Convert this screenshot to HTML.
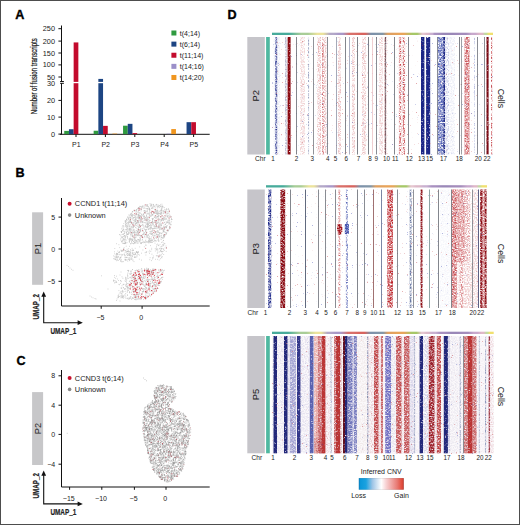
<!DOCTYPE html>
<html><head><meta charset="utf-8"><title>Figure</title>
<style>html,body{margin:0;padding:0;background:#fff;width:520px;height:525px;overflow:hidden}svg{display:block}text{font-family:"Liberation Sans",sans-serif}</style>
</head><body>
<svg width="520" height="525" viewBox="0 0 520 525" font-family="Liberation Sans, sans-serif">
<defs></defs>
<g>
<rect width="520" height="525" fill="#fff"/>
<defs>
<filter id="mot" x="0" y="0" width="1" height="1" color-interpolation-filters="sRGB">
<feTurbulence type="fractalNoise" baseFrequency="0.6 0.85" numOctaves="2" seed="4" result="t"/>
<feColorMatrix in="t" type="matrix" values="0 0 0 0 0 0 0 0 0 0 0 0 0 0 0 2.2 0 0 0 -0.55" result="m"/>
<feComposite in="SourceGraphic" in2="m" operator="in"/>
</filter>
<filter id="motD" x="0" y="0" width="1" height="1" color-interpolation-filters="sRGB">
<feTurbulence type="fractalNoise" baseFrequency="0.55 0.85" numOctaves="2" seed="7" result="t"/>
<feColorMatrix in="t" type="matrix" values="0 0 0 0 0 0 0 0 0 0 0 0 0 0 0 2.6 0 0 0 -0.5" result="m"/>
<feComposite in="SourceGraphic" in2="m" operator="in"/>
</filter>
<filter id="motX" x="0" y="0" width="1" height="1" color-interpolation-filters="sRGB">
<feTurbulence type="fractalNoise" baseFrequency="0.55 0.85" numOctaves="2" seed="17" result="t"/>
<feColorMatrix in="t" type="matrix" values="0 0 0 0 0 0 0 0 0 0 0 0 0 0 0 3 0 0 0 -0.25" result="m"/>
<feComposite in="SourceGraphic" in2="m" operator="in"/>
</filter>
<filter id="motL" x="0" y="0" width="1" height="1" color-interpolation-filters="sRGB">
<feTurbulence type="fractalNoise" baseFrequency="0.7 0.9" numOctaves="2" seed="13" result="t"/>
<feColorMatrix in="t" type="matrix" values="0 0 0 0 0 0 0 0 0 0 0 0 0 0 0 3.2 0 0 0 -1.2" result="m"/>
<feComposite in="SourceGraphic" in2="m" operator="in"/>
</filter>
<filter id="spr" x="0" y="0" width="1" height="1" color-interpolation-filters="sRGB">
<feTurbulence type="fractalNoise" baseFrequency="0.8 0.9" numOctaves="1" seed="9" result="t"/>
<feColorMatrix in="t" type="matrix" values="0 0 0 0 0.75 0 0 0 0 0.2 0 0 0 0 0.22 20 0 0 0 -14.2"/>
</filter>
<filter id="spb" x="0" y="0" width="1" height="1" color-interpolation-filters="sRGB">
<feTurbulence type="fractalNoise" baseFrequency="0.8 0.9" numOctaves="1" seed="23" result="t"/>
<feColorMatrix in="t" type="matrix" values="0 0 0 0 0.25 0 0 0 0 0.3 0 0 0 0 0.7 20 0 0 0 -14.4"/>
</filter>
<linearGradient id="chrP2" x1="0" x2="1" y1="0" y2="0">
<stop offset="0" stop-color="#45ab9a"/><stop offset="0.105" stop-color="#4db3a0"/>
<stop offset="0.115" stop-color="#a8cc98"/><stop offset="0.18" stop-color="#b8d49a"/>
<stop offset="0.19" stop-color="#ece49a"/><stop offset="0.25" stop-color="#ede39e"/>
<stop offset="0.26" stop-color="#b9aec8"/><stop offset="0.33" stop-color="#a99cc8"/>
<stop offset="0.34" stop-color="#d77070"/><stop offset="0.43" stop-color="#dc6a62"/>
<stop offset="0.44" stop-color="#7f95a8"/><stop offset="0.51" stop-color="#7b93a9"/>
<stop offset="0.52" stop-color="#e0a062"/><stop offset="0.6" stop-color="#e8a058"/>
<stop offset="0.61" stop-color="#a4c866"/><stop offset="0.69" stop-color="#a9c86a"/>
<stop offset="0.70" stop-color="#e8c8d2"/><stop offset="0.77" stop-color="#d8b8c8"/>
<stop offset="0.78" stop-color="#a890c0"/><stop offset="0.86" stop-color="#9a88b8"/>
<stop offset="0.87" stop-color="#c8b0d0"/><stop offset="0.91" stop-color="#e8c0d0"/>
<stop offset="0.92" stop-color="#b8d8a0"/><stop offset="0.95" stop-color="#c8dca0"/>
<stop offset="0.96" stop-color="#f0e060"/><stop offset="1" stop-color="#f2e070"/>
</linearGradient>
</defs>
<defs><linearGradient id="g2" x1="0" x2="1" y1="0" y2="0"><stop offset="0.0330" stop-color="#47ab9b"/><stop offset="0.0770" stop-color="#47ab9b"/><stop offset="0.1326" stop-color="#a9cd97"/><stop offset="0.1629" stop-color="#a9cd97"/><stop offset="0.2051" stop-color="#ece39c"/><stop offset="0.2311" stop-color="#ece39c"/><stop offset="0.2624" stop-color="#b3a8c8"/><stop offset="0.2779" stop-color="#b3a8c8"/><stop offset="0.3029" stop-color="#a898c8"/><stop offset="0.3206" stop-color="#a898c8"/><stop offset="0.3504" stop-color="#d9706a"/><stop offset="0.3723" stop-color="#d9706a"/><stop offset="0.4032" stop-color="#d8645e"/><stop offset="0.4226" stop-color="#d8645e"/><stop offset="0.4476" stop-color="#7d92aa"/><stop offset="0.4615" stop-color="#7d92aa"/><stop offset="0.4840" stop-color="#8296a8"/><stop offset="0.5001" stop-color="#8296a8"/><stop offset="0.5247" stop-color="#e0a060"/><stop offset="0.5414" stop-color="#e0a060"/><stop offset="0.5727" stop-color="#e8a45a"/><stop offset="0.5979" stop-color="#e8a45a"/><stop offset="0.6340" stop-color="#a6c868"/><stop offset="0.6570" stop-color="#a6c868"/><stop offset="0.6800" stop-color="#e6c6d0"/><stop offset="0.6878" stop-color="#e6c6d0"/><stop offset="0.6996" stop-color="#dcb8c8"/><stop offset="0.7076" stop-color="#dcb8c8"/><stop offset="0.7187" stop-color="#c8b0d0"/><stop offset="0.7256" stop-color="#c8b0d0"/><stop offset="0.7359" stop-color="#a890c0"/><stop offset="0.7428" stop-color="#a890c0"/><stop offset="0.7777" stop-color="#9a88b8"/><stop offset="0.8173" stop-color="#9a88b8"/><stop offset="0.8604" stop-color="#a48cbc"/><stop offset="0.8781" stop-color="#a48cbc"/><stop offset="0.9035" stop-color="#c8a8cc"/><stop offset="0.9196" stop-color="#c8a8cc"/><stop offset="0.9405" stop-color="#e0b8c8"/><stop offset="0.9523" stop-color="#e0b8c8"/><stop offset="0.9646" stop-color="#c0dca0"/><stop offset="0.9693" stop-color="#c0dca0"/><stop offset="0.9810" stop-color="#f0e070"/><stop offset="0.9919" stop-color="#f0e070"/></linearGradient></defs>
<rect x="247.3" y="37" width="17.5" height="117.5" fill="#c6c5ca"/>
<text transform="translate(259.0 95.8) rotate(-90)" font-size="9.4" fill="#222" text-anchor="middle">P2</text>
<rect x="266.1" y="37" width="3.7" height="117.5" fill="#4fb8a0"/>
<rect x="272" y="32.7" width="221" height="2.3" fill="url(#g2)"/>
<g filter="url(#mot)">
<rect x="272" y="37" width="221" height="117.5" fill="#fff" fill-opacity="0"/>
<rect x="275.2" y="37" width="2.00" height="117.50" fill="#1b2686" fill-opacity="0.9"/>
<rect x="285.3" y="37" width="1.30" height="117.50" fill="#6a6a98" fill-opacity="0.7"/>
<rect x="384.6" y="37" width="1.60" height="117.50" fill="#8a0a12" fill-opacity="0.9"/>
<rect x="437.7" y="37" width="5.50" height="117.50" fill="#3446a8" fill-opacity="0.9"/>
<rect x="464.4" y="37" width="5.20" height="117.50" fill="#bb2228" fill-opacity="0.75"/>
</g>
<g filter="url(#motD)">
<rect x="272" y="37" width="221" height="117.5" fill="#fff" fill-opacity="0"/>
<rect x="443.2" y="37" width="1.80" height="117.50" fill="#1b2686" fill-opacity="1"/>
</g>
<g filter="url(#motL)">
<rect x="272" y="37" width="221" height="117.5" fill="#fff" fill-opacity="0"/>
<rect x="273.5" y="37" width="6.50" height="117.50" fill="#7a86c6" fill-opacity="0.15"/>
<rect x="308.1" y="37" width="1.00" height="117.50" fill="#6570a0" fill-opacity="0.7"/>
<rect x="322.2" y="37" width="1.40" height="117.50" fill="#bb2228" fill-opacity="0.9"/>
<rect x="300" y="37" width="5.00" height="117.50" fill="#bb2228" fill-opacity="0.2"/>
<rect x="317.5" y="37" width="3.50" height="117.50" fill="#bb2228" fill-opacity="0.35"/>
<rect x="324" y="37" width="2.50" height="117.50" fill="#bb2228" fill-opacity="0.3"/>
<rect x="338" y="37" width="3.00" height="117.50" fill="#bb2228" fill-opacity="0.3"/>
<rect x="352" y="37" width="3.00" height="117.50" fill="#bb2228" fill-opacity="0.28"/>
<rect x="362" y="37" width="4.00" height="117.50" fill="#bb2228" fill-opacity="0.28"/>
<rect x="379" y="37" width="4.00" height="117.50" fill="#bb2228" fill-opacity="0.22"/>
<rect x="399.2" y="37" width="2.00" height="117.50" fill="#bb2228" fill-opacity="0.8"/>
<rect x="402.8" y="37" width="2.00" height="117.50" fill="#bb2228" fill-opacity="0.8"/>
<rect x="398.5" y="37" width="7.00" height="117.50" fill="#bb2228" fill-opacity="0.15"/>
<rect x="445" y="37" width="4.00" height="117.50" fill="#7a86c6" fill-opacity="0.3"/>
<rect x="445" y="37" width="10.00" height="117.50" fill="#7a86c6" fill-opacity="0.15"/>
<rect x="474" y="37" width="1.00" height="117.50" fill="#7a86c6" fill-opacity="0.5"/>
<rect x="491" y="37" width="1.20" height="117.50" fill="#bb2228" fill-opacity="0.8"/>
</g>
<g filter="url(#motX)">
<rect x="272" y="37" width="221" height="117.5" fill="#fff" fill-opacity="0"/>
<rect x="287.6" y="37" width="3.00" height="117.50" fill="#8a0a12" fill-opacity="1"/>
<rect x="421" y="37" width="3.40" height="117.50" fill="#1b2686" fill-opacity="1"/>
<rect x="426.1" y="37" width="4.10" height="117.50" fill="#1b2686" fill-opacity="1"/>
<rect x="486.5" y="37" width="2.10" height="117.50" fill="#7a0a14" fill-opacity="1"/>
</g>
<rect x="272" y="37" width="221" height="117.5" filter="url(#spr)" opacity="0.42"/>
<rect x="272" y="37" width="221" height="117.5" filter="url(#spb)" opacity="0.4"/>
<rect x="296" y="37" width="1.0" height="117.5" fill="#666a72" fill-opacity="0.81"/>
<rect x="313" y="37" width="1.0" height="117.5" fill="#666a72" fill-opacity="0.72"/>
<rect x="327" y="37" width="1.0" height="117.5" fill="#666a72" fill-opacity="0.77"/>
<rect x="336" y="37" width="1.0" height="117.5" fill="#707890" fill-opacity="0.63"/>
<rect x="345" y="37" width="1.0" height="117.5" fill="#666a72" fill-opacity="0.81"/>
<rect x="349" y="37" width="1.0" height="117.5" fill="#7880a0" fill-opacity="0.63"/>
<rect x="357" y="37" width="1.0" height="117.5" fill="#666a72" fill-opacity="0.85"/>
<rect x="368" y="37" width="1.0" height="117.5" fill="#666a72" fill-opacity="0.85"/>
<rect x="372" y="37" width="1.0" height="117.5" fill="#e7b3b6" fill-opacity="0.63"/>
<rect x="376" y="37" width="1.0" height="117.5" fill="#666a72" fill-opacity="0.77"/>
<rect x="385" y="37" width="1.0" height="117.5" fill="#666a72" fill-opacity="0.63"/>
<rect x="394" y="37" width="1.0" height="117.5" fill="#666a72" fill-opacity="0.81"/>
<rect x="408" y="37" width="1.0" height="117.5" fill="#666a72" fill-opacity="0.81"/>
<rect x="437" y="37" width="1.0" height="117.5" fill="#666a72" fill-opacity="0.72"/>
<rect x="459" y="37" width="1.0" height="117.5" fill="#666a72" fill-opacity="0.85"/>
<rect x="461" y="37" width="1.0" height="117.5" fill="#666a72" fill-opacity="0.63"/>
<rect x="477" y="37" width="1.0" height="117.5" fill="#666a72" fill-opacity="0.77"/>
<rect x="484" y="37" width="1.0" height="117.5" fill="#666a72" fill-opacity="0.77"/>
<g font-size="6.3" fill="#222" text-anchor="middle">
<text x="273.1" y="161.1">1</text>
<text x="296.6" y="161.1">2</text>
<text x="312.3" y="161.1">3</text>
<text x="327.8" y="161.1">4</text>
<text x="335.4" y="161.1">5</text>
<text x="346.3" y="161.1">6</text>
<text x="358.5" y="161.1">7</text>
<text x="370.1" y="161.1">8</text>
<text x="376.3" y="161.1">9</text>
<text x="386.5" y="161.1">10</text>
<text x="395.3" y="161.1">11</text>
<text x="409.2" y="161.1">12</text>
<text x="421.4" y="161.1">13</text>
<text x="429.6" y="161.1">15</text>
<text x="443.6" y="161.1">17</text>
<text x="459.3" y="161.1">18</text>
<text x="478.2" y="161.1">20</text>
<text x="487.0" y="161.1">22</text>
</g>
<text x="255.1" y="161.1" font-size="6.6" fill="#222">Chr</text>
<text transform="translate(498.1 98.4) rotate(90)" font-size="9.6" fill="#222" text-anchor="middle" textLength="19.5" lengthAdjust="spacingAndGlyphs">Cells</text>
<defs><linearGradient id="g3" x1="0" x2="1" y1="0" y2="0"><stop offset="0.0330" stop-color="#47ab9b"/><stop offset="0.0770" stop-color="#47ab9b"/><stop offset="0.1303" stop-color="#a9cd97"/><stop offset="0.1575" stop-color="#a9cd97"/><stop offset="0.1948" stop-color="#ece39c"/><stop offset="0.2174" stop-color="#ece39c"/><stop offset="0.2452" stop-color="#b3a8c8"/><stop offset="0.2597" stop-color="#b3a8c8"/><stop offset="0.2838" stop-color="#a898c8"/><stop offset="0.3013" stop-color="#a898c8"/><stop offset="0.3298" stop-color="#d9706a"/><stop offset="0.3503" stop-color="#d9706a"/><stop offset="0.3800" stop-color="#d8645e"/><stop offset="0.3992" stop-color="#d8645e"/><stop offset="0.4235" stop-color="#7d92aa"/><stop offset="0.4367" stop-color="#7d92aa"/><stop offset="0.4584" stop-color="#8296a8"/><stop offset="0.4742" stop-color="#8296a8"/><stop offset="0.4966" stop-color="#e0a060"/><stop offset="0.5107" stop-color="#e0a060"/><stop offset="0.5435" stop-color="#e8a45a"/><stop offset="0.5732" stop-color="#e8a45a"/><stop offset="0.6120" stop-color="#a6c868"/><stop offset="0.6341" stop-color="#a6c868"/><stop offset="0.6561" stop-color="#e6c6d0"/><stop offset="0.6633" stop-color="#e6c6d0"/><stop offset="0.6792" stop-color="#dcb8c8"/><stop offset="0.6932" stop-color="#dcb8c8"/><stop offset="0.7139" stop-color="#c8b0d0"/><stop offset="0.7277" stop-color="#c8b0d0"/><stop offset="0.7505" stop-color="#a890c0"/><stop offset="0.7671" stop-color="#a890c0"/><stop offset="0.7973" stop-color="#9a88b8"/><stop offset="0.8208" stop-color="#9a88b8"/><stop offset="0.8571" stop-color="#a48cbc"/><stop offset="0.8819" stop-color="#a48cbc"/><stop offset="0.9109" stop-color="#c8a8cc"/><stop offset="0.9248" stop-color="#c8a8cc"/><stop offset="0.9430" stop-color="#e0b8c8"/><stop offset="0.9533" stop-color="#e0b8c8"/><stop offset="0.9635" stop-color="#c0dca0"/><stop offset="0.9668" stop-color="#c0dca0"/><stop offset="0.9785" stop-color="#f0e070"/><stop offset="0.9908" stop-color="#f0e070"/></linearGradient></defs>
<rect x="247.3" y="189.5" width="17.5" height="118.5" fill="#c6c5ca"/>
<text transform="translate(259.0 248.8) rotate(-90)" font-size="9.4" fill="#222" text-anchor="middle">P3</text>
<rect x="266" y="185.2" width="221" height="2.3" fill="url(#g3)"/>
<g filter="url(#mot)">
<rect x="266" y="189.5" width="221" height="118.5" fill="#fff" fill-opacity="0"/>
<rect x="268" y="189.5" width="3.30" height="118.50" fill="#1b2686" fill-opacity="1"/>
<rect x="387.3" y="189.5" width="5.70" height="118.50" fill="#bb2228" fill-opacity="1"/>
<rect x="409.6" y="189.5" width="2.00" height="118.50" fill="#5a6a98" fill-opacity="0.9"/>
<rect x="451.8" y="189.5" width="5.00" height="118.50" fill="#bb2228" fill-opacity="0.8"/>
<rect x="456.8" y="189.5" width="7.80" height="72.50" fill="#bb2228" fill-opacity="0.6"/>
<rect x="482.5" y="189.5" width="2.00" height="118.50" fill="#bb2228" fill-opacity="0.7"/>
</g>
<g filter="url(#motD)">
<rect x="266" y="189.5" width="221" height="118.5" fill="#fff" fill-opacity="0"/>
<rect x="280.4" y="189.5" width="4.80" height="118.50" fill="#8a0a12" fill-opacity="1"/>
<rect x="420.5" y="189.5" width="2.00" height="118.50" fill="#8a0a12" fill-opacity="1"/>
<rect x="480.2" y="189.5" width="2.30" height="118.50" fill="#8a0a12" fill-opacity="1"/>
<rect x="484.5" y="189.5" width="2.10" height="118.50" fill="#8a0a12" fill-opacity="1"/>
</g>
<g filter="url(#motL)">
<rect x="266" y="189.5" width="221" height="118.5" fill="#fff" fill-opacity="0"/>
<rect x="338.5" y="189.5" width="1.80" height="118.50" fill="#bb2228" fill-opacity="0.7"/>
<rect x="345.9" y="189.5" width="1.90" height="118.50" fill="#3446a8" fill-opacity="0.8"/>
<rect x="440" y="189.5" width="10.00" height="118.50" fill="#7a86c6" fill-opacity="0.08"/>
<rect x="456.8" y="262" width="2.70" height="46.00" fill="#e7b3b6" fill-opacity="0.4"/>
<rect x="459.5" y="262" width="3.50" height="46.00" fill="#bb2228" fill-opacity="0.55"/>
<rect x="464.6" y="189.5" width="5.80" height="72.50" fill="#bb2228" fill-opacity="0.45"/>
<rect x="463" y="262" width="9.00" height="46.00" fill="#bb2228" fill-opacity="0.25"/>
<rect x="472.7" y="189.5" width="5.30" height="118.50" fill="#e7b3b6" fill-opacity="0.6"/>
</g>
<g filter="url(#motX)">
<rect x="266" y="189.5" width="221" height="118.5" fill="#fff" fill-opacity="0"/>
</g>
<rect x="266" y="189.5" width="221" height="118.5" filter="url(#spr)" opacity="0.42"/>
<rect x="266" y="189.5" width="221" height="118.5" filter="url(#spb)" opacity="0.4"/>
<rect x="290" y="189.5" width="1.0" height="118.5" fill="#666a72" fill-opacity="0.81"/>
<rect x="305" y="189.5" width="1.0" height="118.5" fill="#505a70" fill-opacity="0.90"/>
<rect x="318" y="189.5" width="1.0" height="118.5" fill="#666a72" fill-opacity="0.77"/>
<rect x="325" y="189.5" width="1.0" height="118.5" fill="#666a72" fill-opacity="0.77"/>
<rect x="335" y="189.5" width="1.0" height="118.5" fill="#666a72" fill-opacity="0.77"/>
<rect x="357" y="189.5" width="1.0" height="118.5" fill="#666a72" fill-opacity="0.81"/>
<rect x="364" y="189.5" width="1.0" height="118.5" fill="#666a72" fill-opacity="0.77"/>
<rect x="373" y="189.5" width="1.0" height="118.5" fill="#8a5050" fill-opacity="0.81"/>
<rect x="381" y="189.5" width="1.0" height="118.5" fill="#5c6a90" fill-opacity="0.81"/>
<rect x="397" y="189.5" width="1.0" height="118.5" fill="#666a72" fill-opacity="0.77"/>
<rect x="413" y="189.5" width="1.0" height="118.5" fill="#666a72" fill-opacity="0.72"/>
<rect x="429" y="189.5" width="1.0" height="118.5" fill="#6a8888" fill-opacity="0.77"/>
<rect x="438" y="189.5" width="1.0" height="118.5" fill="#666a72" fill-opacity="0.81"/>
<rect x="451" y="189.5" width="1.0" height="118.5" fill="#666a72" fill-opacity="0.81"/>
<rect x="472" y="189.5" width="1.0" height="118.5" fill="#666a72" fill-opacity="0.72"/>
<rect x="478" y="189.5" width="1.0" height="118.5" fill="#4a5078" fill-opacity="0.90"/>
<g font-size="6.3" fill="#222" text-anchor="middle">
<text x="265.4" y="314.7">1</text>
<text x="289.6" y="314.7">2</text>
<text x="305.3" y="314.7">3</text>
<text x="316.9" y="314.7">4</text>
<text x="326.1" y="314.7">5</text>
<text x="335.4" y="314.7">6</text>
<text x="346.9" y="314.7">7</text>
<text x="357.3" y="314.7">8</text>
<text x="364.7" y="314.7">9</text>
<text x="373.8" y="314.7">10</text>
<text x="381.9" y="314.7">11</text>
<text x="397.6" y="314.7">12</text>
<text x="409.6" y="314.7">13</text>
<text x="422.3" y="314.7">15</text>
<text x="438.4" y="314.7">17</text>
<text x="452.3" y="314.7">18</text>
<text x="473.1" y="314.7">20</text>
<text x="480.7" y="314.7">22</text>
</g>
<text x="247.5" y="314.7" font-size="6.6" fill="#222">Chr</text>
<text transform="translate(498.1 253.6) rotate(90)" font-size="9.6" fill="#222" text-anchor="middle" textLength="19.5" lengthAdjust="spacingAndGlyphs">Cells</text>
<path d="M337.5 224h4v3h0.8v5h-1v2.5h-3.5v-4h-0.8v-3h0.5z" fill="#a01018" filter="url(#motD)"/>
<rect x="344.8" y="224" width="4.2" height="10" fill="#3446a8" opacity="0.9" filter="url(#motD)"/>
<defs><linearGradient id="g5" x1="0" x2="1" y1="0" y2="0"><stop offset="0.0306" stop-color="#47ab9b"/><stop offset="0.0714" stop-color="#47ab9b"/><stop offset="0.1244" stop-color="#a9cd97"/><stop offset="0.1544" stop-color="#a9cd97"/><stop offset="0.1962" stop-color="#ece39c"/><stop offset="0.2220" stop-color="#ece39c"/><stop offset="0.2501" stop-color="#b3a8c8"/><stop offset="0.2618" stop-color="#b3a8c8"/><stop offset="0.2878" stop-color="#a898c8"/><stop offset="0.3107" stop-color="#a898c8"/><stop offset="0.3444" stop-color="#d9706a"/><stop offset="0.3664" stop-color="#d9706a"/><stop offset="0.3977" stop-color="#d8645e"/><stop offset="0.4174" stop-color="#d8645e"/><stop offset="0.4431" stop-color="#7d92aa"/><stop offset="0.4577" stop-color="#7d92aa"/><stop offset="0.4825" stop-color="#8296a8"/><stop offset="0.5009" stop-color="#8296a8"/><stop offset="0.5230" stop-color="#e0a060"/><stop offset="0.5342" stop-color="#e0a060"/><stop offset="0.5645" stop-color="#e8a45a"/><stop offset="0.5938" stop-color="#e8a45a"/><stop offset="0.6313" stop-color="#a6c868"/><stop offset="0.6520" stop-color="#a6c868"/><stop offset="0.6743" stop-color="#e6c6d0"/><stop offset="0.6834" stop-color="#e6c6d0"/><stop offset="0.6969" stop-color="#dcb8c8"/><stop offset="0.7059" stop-color="#dcb8c8"/><stop offset="0.7235" stop-color="#c8b0d0"/><stop offset="0.7379" stop-color="#c8b0d0"/><stop offset="0.7609" stop-color="#a890c0"/><stop offset="0.7772" stop-color="#a890c0"/><stop offset="0.8082" stop-color="#9a88b8"/><stop offset="0.8332" stop-color="#9a88b8"/><stop offset="0.8657" stop-color="#a48cbc"/><stop offset="0.8839" stop-color="#a48cbc"/><stop offset="0.9098" stop-color="#c8a8cc"/><stop offset="0.9260" stop-color="#c8a8cc"/><stop offset="0.9456" stop-color="#e0b8c8"/><stop offset="0.9556" stop-color="#e0b8c8"/><stop offset="0.9667" stop-color="#c0dca0"/><stop offset="0.9715" stop-color="#c0dca0"/><stop offset="0.9826" stop-color="#f0e070"/><stop offset="0.9926" stop-color="#f0e070"/></linearGradient></defs>
<rect x="247.3" y="336" width="17.5" height="117.30000000000001" fill="#c6c5ca"/>
<text transform="translate(259.0 394.6) rotate(-90)" font-size="9.4" fill="#222" text-anchor="middle">P5</text>
<rect x="266.1" y="336" width="3.7" height="117.30000000000001" fill="#4fb8a0"/>
<rect x="272" y="331.7" width="221.7" height="2.3" fill="url(#g5)"/>
<rect x="272" y="336" width="221.7" height="117.30000000000001" fill="#fbf9fb"/>
<g filter="url(#mot)">
<rect x="272" y="336" width="221.7" height="117.30000000000001" fill="#fff" fill-opacity="0"/>
<rect x="287.5" y="336" width="2.50" height="117.30" fill="#8a8cc8" fill-opacity="0.3"/>
<rect x="316" y="385" width="6.00" height="68.30" fill="#ba3535" fill-opacity="0.5"/>
<rect x="314" y="438" width="11.00" height="15.30" fill="#9a1820" fill-opacity="0.7"/>
<rect x="330.5" y="336" width="1.00" height="117.30" fill="#606a90" fill-opacity="0.7"/>
<rect x="340" y="336" width="1.50" height="117.30" fill="#ba3535" fill-opacity="0.6"/>
<rect x="352.5" y="336" width="1.50" height="117.30" fill="#8a8cc8" fill-opacity="0.6"/>
<rect x="367.3" y="336" width="1.00" height="117.30" fill="#55608a" fill-opacity="1"/>
<rect x="378.5" y="336" width="2.50" height="117.30" fill="#e7b3b6" fill-opacity="0.5"/>
<rect x="409.5" y="336" width="4.50" height="117.30" fill="#8a8cc8" fill-opacity="0.3"/>
<rect x="414.1" y="336" width="1.00" height="117.30" fill="#6070a0" fill-opacity="0.8"/>
<rect x="447.9" y="336" width="2.10" height="117.30" fill="#8a8cc8" fill-opacity="0.5"/>
<rect x="459.7" y="336" width="1.00" height="117.30" fill="#6070a0" fill-opacity="0.8"/>
<rect x="478.8" y="336" width="1.00" height="117.30" fill="#7080a8" fill-opacity="0.7"/>
<rect x="485.1" y="336" width="1.00" height="117.30" fill="#6070a0" fill-opacity="0.8"/>
</g>
<g filter="url(#motD)">
<rect x="272" y="336" width="221.7" height="117.30000000000001" fill="#fff" fill-opacity="0"/>
<rect x="290" y="336" width="6.00" height="117.30" fill="#8a8cc8" fill-opacity="0.8"/>
<rect x="314" y="336" width="4.00" height="117.30" fill="#e8a098" fill-opacity="0.8"/>
<rect x="318" y="336" width="4.00" height="117.30" fill="#ba3535" fill-opacity="0.7"/>
<rect x="334" y="336" width="2.00" height="117.30" fill="#ba3535" fill-opacity="0.8"/>
<rect x="347.7" y="336" width="4.80" height="117.30" fill="#5a62b0" fill-opacity="0.9"/>
<rect x="354" y="336" width="2.90" height="117.30" fill="#5a62b0" fill-opacity="0.85"/>
<rect x="374" y="336" width="4.50" height="117.30" fill="#ba3535" fill-opacity="0.95"/>
<rect x="381.2" y="336" width="1.60" height="117.30" fill="#ba3535" fill-opacity="1"/>
<rect x="385.2" y="336" width="5.80" height="117.30" fill="#6a6ac0" fill-opacity="1"/>
<rect x="396.1" y="336" width="5.40" height="117.30" fill="#ba3535" fill-opacity="0.9"/>
<rect x="404" y="336" width="5.50" height="117.30" fill="#ba3535" fill-opacity="0.85"/>
<rect x="428.8" y="336" width="5.70" height="117.30" fill="#9a1820" fill-opacity="1"/>
<rect x="436.8" y="336" width="4.20" height="117.30" fill="#ba3535" fill-opacity="0.95"/>
<rect x="463.8" y="336" width="4.20" height="117.30" fill="#ba3535" fill-opacity="0.75"/>
<rect x="472.5" y="336" width="4.00" height="117.30" fill="#ba3535" fill-opacity="0.75"/>
<rect x="488.6" y="336" width="1.40" height="117.30" fill="#901a28" fill-opacity="0.9"/>
</g>
<g filter="url(#motL)">
<rect x="272" y="336" width="221.7" height="117.30000000000001" fill="#fff" fill-opacity="0"/>
<rect x="272" y="336" width="221.70" height="117.30" fill="#d9c6e2" fill-opacity="0.18"/>
<rect x="277" y="336" width="7.00" height="117.30" fill="#8a8cc8" fill-opacity="0.12"/>
<rect x="301" y="336" width="8.50" height="117.30" fill="#8a8cc8" fill-opacity="0.15"/>
<rect x="325.4" y="336" width="4.60" height="117.30" fill="#e7b3b6" fill-opacity="0.35"/>
<rect x="357" y="336" width="10.00" height="117.30" fill="#e8d8c8" fill-opacity="0.25"/>
<rect x="368.3" y="336" width="5.70" height="117.30" fill="#e7b3b6" fill-opacity="0.45"/>
<rect x="391" y="336" width="5.00" height="117.30" fill="#c0c0d0" fill-opacity="0.35"/>
<rect x="401.5" y="336" width="2.50" height="117.30" fill="#e7b3b6" fill-opacity="0.45"/>
<rect x="423" y="336" width="5.00" height="117.30" fill="#8a8cc8" fill-opacity="0.35"/>
<rect x="434.5" y="336" width="2.10" height="117.30" fill="#e7b3b6" fill-opacity="0.45"/>
<rect x="450" y="336" width="8.00" height="117.30" fill="#d0d0e0" fill-opacity="0.25"/>
<rect x="490" y="336" width="3.70" height="117.30" fill="#e7b3b6" fill-opacity="0.4"/>
</g>
<g filter="url(#motX)">
<rect x="272" y="336" width="221.7" height="117.30000000000001" fill="#fff" fill-opacity="0"/>
<rect x="273.5" y="336" width="3.50" height="117.30" fill="#23287a" fill-opacity="1"/>
<rect x="284" y="336" width="3.50" height="117.30" fill="#23287a" fill-opacity="1"/>
<rect x="297" y="336" width="3.50" height="117.30" fill="#34388a" fill-opacity="1"/>
<rect x="309.8" y="336" width="3.70" height="117.30" fill="#5a62b0" fill-opacity="1"/>
<rect x="322" y="336" width="3.40" height="117.30" fill="#ba3535" fill-opacity="1"/>
<rect x="336" y="336" width="4.00" height="117.30" fill="#ba3535" fill-opacity="1"/>
<rect x="343" y="336" width="2.00" height="117.30" fill="#601020" fill-opacity="1"/>
<rect x="345" y="336" width="2.50" height="117.30" fill="#23287a" fill-opacity="1"/>
<rect x="419.6" y="336" width="3.40" height="117.30" fill="#23287a" fill-opacity="1"/>
<rect x="443.8" y="336" width="4.10" height="117.30" fill="#23287a" fill-opacity="1"/>
<rect x="468" y="336" width="4.50" height="117.30" fill="#ba3535" fill-opacity="1"/>
</g>
<rect x="272" y="336" width="221.7" height="117.30000000000001" filter="url(#spr)" opacity="0.42"/>
<rect x="272" y="336" width="221.7" height="117.30000000000001" filter="url(#spb)" opacity="0.4"/>
<rect x="463" y="336" width="1.0" height="117.30000000000001" fill="#666a72" fill-opacity="0.72"/>
<g font-size="6.3" fill="#222" text-anchor="middle">
<text x="273.1" y="459.7">1</text>
<text x="294.6" y="459.7">2</text>
<text x="311.2" y="459.7">3</text>
<text x="325.5" y="459.7">4</text>
<text x="332.0" y="459.7">5</text>
<text x="344.7" y="459.7">6</text>
<text x="356.9" y="459.7">7</text>
<text x="367.8" y="459.7">8</text>
<text x="375.9" y="459.7">9</text>
<text x="386.1" y="459.7">10</text>
<text x="392.3" y="459.7">11</text>
<text x="408.5" y="459.7">12</text>
<text x="420.0" y="459.7">13</text>
<text x="430.0" y="459.7">15</text>
<text x="447.0" y="459.7">17</text>
<text x="460.9" y="459.7">18</text>
<text x="480.0" y="459.7">20</text>
<text x="488.2" y="459.7">22</text>
</g>
<text x="251.6" y="459.7" font-size="6.6" fill="#222">Chr</text>
<text transform="translate(498.1 396.5) rotate(90)" font-size="9.6" fill="#222" text-anchor="middle" textLength="19.5" lengthAdjust="spacingAndGlyphs">Cells</text>
<defs><linearGradient id="cnv" x1="0" x2="1"><stop offset="0" stop-color="#0b86c8"/><stop offset="0.04" stop-color="#0b98da"/><stop offset="0.16" stop-color="#1aa2e0"/><stop offset="0.3" stop-color="#9cc4e6"/><stop offset="0.5" stop-color="#ffffff"/><stop offset="0.6" stop-color="#f8d4d6"/><stop offset="0.85" stop-color="#e87a74"/><stop offset="0.96" stop-color="#e24a3a"/><stop offset="1" stop-color="#c0403a"/></linearGradient></defs>
<rect x="358.8" y="478.1" width="45" height="11.6" fill="url(#cnv)"/><rect x="359.05" y="478.35" width="44.5" height="11.1" fill="none" stroke="#000" stroke-opacity="0.15" stroke-width="0.5"/>
<text x="381.3" y="473.9" font-size="7" fill="#222" text-anchor="middle">Inferred CNV</text>
<text x="351.2" y="498.2" font-size="7" fill="#222">Loss</text>
<text x="394.1" y="498.2" font-size="7" fill="#222">Gain</text>
<path d="M143.2 226.2h.01M168.4 222.4h.01M146.2 227.3h.01M128.9 224.2h.01M152.7 235.6h.01M123.9 236.3h.01M156.1 205.2h.01M154.0 228.4h.01M147.3 205.9h.01M142.6 237.6h.01M146.8 229.4h.01M145.7 230.3h.01M143.5 214.8h.01M164.0 232.2h.01M135.9 212.8h.01M160.0 219.7h.01M164.3 219.2h.01M167.7 222.5h.01M171.4 219.6h.01M122.9 229.0h.01M160.7 214.4h.01M161.6 210.7h.01M148.9 221.6h.01M129.2 233.1h.01M126.0 229.6h.01M125.2 220.5h.01M130.4 214.4h.01M135.3 239.3h.01M130.3 219.5h.01M164.7 229.5h.01M124.4 243.6h.01M130.4 214.0h.01M160.3 216.8h.01M123.8 227.1h.01M132.0 227.9h.01M138.9 221.9h.01M170.3 223.1h.01M149.7 238.6h.01M129.5 242.0h.01M166.2 227.9h.01M141.5 207.7h.01M131.8 232.0h.01M132.7 236.9h.01M150.9 215.4h.01M128.4 232.7h.01M148.9 238.0h.01M151.9 214.8h.01M168.1 211.8h.01M142.8 205.9h.01M128.4 218.4h.01M149.6 208.8h.01M138.4 239.6h.01M156.0 227.2h.01M144.8 233.1h.01M123.0 225.6h.01M158.4 240.0h.01M158.4 232.0h.01M137.8 231.2h.01M141.3 235.5h.01M165.2 226.7h.01M152.4 219.0h.01M150.2 228.2h.01M123.3 229.4h.01M158.0 219.2h.01M158.3 227.0h.01M142.6 237.5h.01M123.5 233.9h.01M144.7 212.8h.01M156.4 223.6h.01M151.9 240.8h.01M135.1 231.0h.01M167.5 230.2h.01M142.6 239.6h.01M136.5 230.5h.01M129.6 221.0h.01M166.1 219.1h.01M150.2 216.3h.01M126.3 223.6h.01M163.8 237.9h.01M133.8 210.3h.01M143.1 214.6h.01M130.5 220.3h.01M152.5 223.5h.01M135.9 237.5h.01M171.5 221.8h.01M156.9 226.6h.01M135.5 235.6h.01M163.4 213.1h.01M152.7 221.6h.01M152.7 230.0h.01M155.6 211.6h.01M144.4 210.7h.01M157.2 210.8h.01M133.6 217.5h.01M156.3 224.6h.01M151.9 234.1h.01M140.1 235.6h.01M126.0 221.9h.01M152.5 240.4h.01M139.2 226.5h.01M169.5 222.3h.01M153.8 211.8h.01M157.6 236.6h.01M153.3 232.6h.01M130.4 239.9h.01M147.7 235.5h.01M136.1 240.4h.01M164.8 217.6h.01M148.4 234.6h.01M162.3 206.1h.01M161.8 210.5h.01M136.9 235.4h.01M146.6 232.8h.01M163.9 231.4h.01M169.6 223.4h.01M130.8 224.8h.01M134.5 233.0h.01M153.2 224.7h.01M164.1 226.2h.01M135.7 218.9h.01M130.1 238.0h.01M170.8 224.7h.01M149.7 211.6h.01M147.7 223.9h.01M151.4 204.6h.01M170.9 224.4h.01M140.4 235.9h.01M149.1 223.4h.01M156.0 206.2h.01M147.8 220.3h.01M133.4 222.7h.01M125.8 221.1h.01M144.5 216.3h.01M129.2 228.5h.01M168.5 208.7h.01M160.7 204.4h.01M155.8 216.5h.01M138.0 228.6h.01M124.6 233.1h.01M125.6 224.2h.01M132.4 211.5h.01M147.4 221.2h.01M139.1 220.2h.01M147.3 210.0h.01M129.9 229.1h.01M153.2 224.9h.01M164.5 228.3h.01M164.8 212.9h.01M158.6 236.3h.01M167.3 216.3h.01M135.9 240.9h.01M130.7 243.9h.01M166.5 208.9h.01M131.8 232.9h.01M163.5 220.6h.01M161.3 208.6h.01M140.5 231.3h.01M155.5 240.4h.01M146.1 234.2h.01M145.9 231.3h.01M148.5 224.4h.01M149.4 209.4h.01M122.3 242.0h.01M143.7 234.5h.01M136.5 222.4h.01M146.6 220.9h.01M151.1 204.0h.01M156.5 237.7h.01M128.7 221.9h.01M158.6 219.9h.01M156.7 238.4h.01M152.7 219.9h.01M151.1 223.9h.01M132.8 240.4h.01M158.8 235.0h.01M162.6 219.9h.01M156.2 234.6h.01M159.9 219.9h.01M157.7 206.4h.01M137.3 222.5h.01M153.2 228.8h.01M131.4 241.8h.01M154.6 217.2h.01M154.3 226.6h.01M147.5 219.3h.01M156.5 234.4h.01M151.9 233.4h.01M132.7 219.8h.01M139.1 207.5h.01M132.4 240.2h.01M148.4 224.1h.01M162.3 206.6h.01M151.0 234.2h.01M121.4 241.2h.01M127.6 222.6h.01M128.0 223.6h.01M151.7 205.9h.01M169.6 220.5h.01M147.2 227.7h.01M138.6 215.1h.01M154.0 226.2h.01M134.2 232.5h.01M127.4 234.1h.01M139.9 239.9h.01M159.0 205.5h.01M122.9 240.2h.01M142.0 222.8h.01M147.0 241.5h.01M157.7 222.5h.01M151.3 208.2h.01M152.4 222.0h.01M147.3 208.5h.01M142.7 230.5h.01M143.4 214.1h.01M150.1 220.5h.01M160.6 225.0h.01M158.3 213.2h.01M125.1 239.7h.01M161.0 228.8h.01M138.2 214.5h.01M155.6 226.4h.01M150.7 229.1h.01M159.3 211.2h.01M132.3 243.2h.01M133.5 220.7h.01M152.3 207.7h.01M148.0 206.4h.01M123.6 230.9h.01M148.5 229.1h.01M139.0 222.9h.01M130.3 217.4h.01M158.8 237.5h.01M162.3 228.8h.01M160.1 212.1h.01M141.7 214.0h.01M162.3 218.4h.01M136.4 225.7h.01M141.9 218.5h.01M124.2 238.9h.01M149.2 223.1h.01M155.7 215.6h.01M160.5 206.6h.01M130.4 230.3h.01M157.8 231.6h.01M138.1 232.9h.01M138.6 208.3h.01M156.9 226.6h.01M167.9 221.2h.01M162.0 215.8h.01M136.0 219.7h.01M132.3 218.1h.01M138.6 218.2h.01M140.2 219.2h.01M129.4 226.3h.01M161.6 225.4h.01M163.7 226.3h.01M128.4 234.2h.01M166.1 214.9h.01M148.1 226.5h.01M162.0 206.1h.01M148.3 235.4h.01M158.4 239.9h.01M123.5 229.2h.01M126.7 233.7h.01M153.7 213.4h.01M130.8 234.5h.01M146.9 234.5h.01M140.1 217.2h.01M145.4 225.3h.01M157.6 232.2h.01M168.0 220.1h.01M163.2 230.5h.01M164.7 236.1h.01M147.0 232.3h.01M161.9 220.6h.01M141.5 209.4h.01M139.1 210.3h.01M129.9 220.7h.01M134.6 242.8h.01M125.1 229.7h.01M160.5 210.8h.01M150.2 240.3h.01M131.6 232.5h.01M150.8 212.6h.01M128.9 214.9h.01M128.2 234.2h.01M135.7 225.7h.01M162.7 222.9h.01M132.9 239.4h.01M167.9 217.4h.01M148.3 242.3h.01M144.8 212.5h.01M121.7 241.9h.01M161.9 219.1h.01M147.2 224.4h.01M133.7 243.6h.01M154.2 213.1h.01M138.9 235.8h.01M157.2 228.0h.01M136.2 214.0h.01M165.5 224.4h.01M133.3 225.2h.01M127.1 234.7h.01M164.3 236.8h.01M157.3 207.4h.01M144.7 222.5h.01M170.1 227.3h.01M164.9 215.8h.01M161.2 220.4h.01M163.2 211.9h.01M148.1 224.8h.01M127.4 237.2h.01M135.7 216.1h.01M144.0 232.5h.01M138.2 231.3h.01M143.7 242.7h.01M163.4 230.0h.01M157.0 213.1h.01M149.2 222.1h.01M161.8 211.9h.01M152.0 215.3h.01M139.1 225.4h.01M135.0 217.2h.01M140.0 230.5h.01M132.7 211.6h.01M158.1 216.8h.01M169.6 226.3h.01M157.7 216.9h.01M163.2 207.2h.01M155.3 232.2h.01M128.6 219.8h.01M163.8 227.5h.01M140.8 206.4h.01M168.3 220.8h.01M146.4 229.7h.01M160.0 236.8h.01M139.6 216.9h.01M140.4 231.8h.01M154.3 228.1h.01M137.3 229.9h.01M146.3 235.4h.01M163.1 228.3h.01M127.5 234.5h.01M167.3 225.7h.01M137.9 223.8h.01M126.6 232.4h.01M157.3 237.3h.01M129.6 241.8h.01M152.6 211.5h.01M149.8 231.7h.01M136.6 241.1h.01M138.3 222.3h.01M125.6 242.9h.01M126.3 240.1h.01M148.1 226.2h.01M149.0 214.2h.01M162.7 227.9h.01M125.6 236.9h.01M134.4 239.8h.01M131.9 226.7h.01M163.4 211.0h.01M148.3 206.6h.01M154.2 216.0h.01M154.9 233.4h.01M139.4 227.5h.01M162.0 204.2h.01M129.7 222.5h.01M126.6 219.1h.01M149.5 210.5h.01M146.8 214.2h.01M149.4 216.9h.01M153.3 205.0h.01M154.9 209.4h.01M144.1 220.2h.01M152.4 231.4h.01M159.6 233.9h.01M140.9 221.1h.01M149.3 240.2h.01M147.1 224.8h.01M142.1 240.1h.01M157.8 240.0h.01M158.2 227.7h.01M159.2 215.8h.01M150.7 206.3h.01M125.7 221.6h.01M145.9 219.6h.01M121.8 231.6h.01M147.2 213.2h.01M135.4 219.5h.01M154.6 238.6h.01M141.5 236.1h.01M130.9 233.7h.01M149.3 240.1h.01M124.3 235.6h.01M125.6 225.3h.01M132.1 215.6h.01M140.3 217.9h.01M150.3 205.4h.01M120.7 239.9h.01M135.5 223.7h.01M144.3 211.9h.01M134.8 240.9h.01M167.0 211.4h.01M163.8 217.8h.01M144.3 210.5h.01M129.8 229.1h.01M129.2 239.1h.01M157.8 216.2h.01M157.2 209.0h.01M142.8 206.7h.01M130.9 215.9h.01M157.0 211.5h.01M154.6 235.5h.01M138.9 230.3h.01M166.3 227.4h.01M131.3 215.7h.01M168.6 230.5h.01M133.8 229.4h.01M123.8 243.3h.01M142.6 224.9h.01M147.4 205.3h.01M151.1 215.0h.01M132.4 236.0h.01M159.4 213.5h.01M133.9 225.7h.01M129.0 239.8h.01M143.7 233.9h.01M139.6 241.1h.01M145.7 210.8h.01M148.7 229.6h.01M138.2 230.2h.01M160.9 224.4h.01M146.1 237.7h.01M155.6 224.6h.01M160.7 210.2h.01M151.5 213.0h.01M142.6 234.8h.01M161.1 235.5h.01M131.6 223.3h.01M130.8 227.0h.01M145.7 204.9h.01M150.9 232.4h.01M149.6 238.9h.01M142.3 221.4h.01M133.1 235.8h.01M122.9 240.2h.01M149.4 225.5h.01M161.4 213.1h.01M152.2 224.8h.01M133.2 227.3h.01M123.7 236.7h.01M127.5 231.5h.01M163.5 235.4h.01M138.5 212.3h.01M145.2 234.3h.01M143.4 233.7h.01M166.6 209.2h.01M140.0 215.6h.01M141.7 206.6h.01M159.8 233.2h.01M131.3 213.8h.01M148.5 213.3h.01M143.7 241.3h.01M138.5 217.2h.01M153.8 205.9h.01M137.4 231.6h.01M165.2 227.4h.01M166.4 222.2h.01M140.0 237.6h.01M139.4 235.1h.01M130.5 217.6h.01M128.8 225.8h.01M130.5 222.4h.01M135.5 221.6h.01M165.2 211.8h.01M139.5 206.4h.01M156.0 218.2h.01M140.0 240.9h.01M157.3 214.4h.01M138.3 209.7h.01M169.1 218.1h.01M160.0 232.8h.01M136.2 219.1h.01M123.4 239.2h.01M136.4 234.7h.01M146.8 205.7h.01M140.1 213.2h.01M150.9 204.8h.01M135.7 220.7h.01M148.1 209.0h.01M156.8 214.0h.01M157.8 230.5h.01M134.0 232.4h.01M140.7 219.2h.01M165.3 212.7h.01M134.6 217.5h.01M149.3 236.3h.01M154.9 240.7h.01M130.6 231.4h.01M165.5 213.0h.01M152.8 207.1h.01M141.9 219.4h.01M136.6 223.6h.01M140.5 222.7h.01M127.9 230.4h.01M137.3 220.6h.01M127.1 227.1h.01M156.5 225.9h.01M156.5 204.4h.01M139.9 218.3h.01M150.3 222.5h.01M136.4 213.8h.01M166.7 226.4h.01M133.0 230.6h.01M129.0 222.5h.01M151.9 242.2h.01M138.4 226.8h.01M152.6 228.6h.01M141.0 220.3h.01M133.8 237.1h.01M166.1 219.0h.01M126.3 224.0h.01M135.5 218.1h.01M155.4 213.0h.01M140.1 213.2h.01M145.4 229.8h.01M148.3 228.8h.01M149.0 237.2h.01M170.8 217.0h.01M137.5 239.4h.01M135.8 232.5h.01M156.2 231.3h.01M127.5 228.7h.01M145.3 226.3h.01M138.8 215.1h.01M159.1 225.1h.01M131.7 213.6h.01M136.4 210.7h.01M146.5 208.6h.01M124.5 232.0h.01M125.0 221.8h.01M160.3 223.0h.01M127.7 238.6h.01M132.6 224.1h.01M161.6 219.4h.01M157.3 213.7h.01M157.3 216.7h.01M136.9 234.3h.01M164.1 237.1h.01M149.4 220.5h.01M156.8 228.7h.01M163.5 236.0h.01M154.8 212.9h.01M150.3 241.6h.01M155.8 220.5h.01M152.8 219.6h.01M121.6 232.4h.01M134.3 233.1h.01M148.0 223.1h.01M139.0 216.0h.01M161.8 237.5h.01M134.2 219.4h.01M152.1 234.5h.01M171.5 219.3h.01M156.1 225.6h.01M161.8 209.4h.01M168.9 213.7h.01M145.1 208.4h.01M149.3 209.3h.01M152.5 214.6h.01M131.2 223.0h.01M138.6 214.0h.01M166.8 216.0h.01M129.8 238.6h.01M144.9 220.3h.01M162.2 219.5h.01M154.1 228.7h.01M133.8 241.5h.01M142.7 237.3h.01M157.8 210.6h.01M138.2 234.0h.01M135.6 224.3h.01M147.2 236.3h.01M161.4 233.3h.01M140.4 236.0h.01M163.3 234.6h.01M169.8 219.8h.01M156.7 213.6h.01M149.9 212.7h.01M139.8 218.5h.01M154.1 236.3h.01M138.5 229.3h.01M137.9 214.8h.01M167.4 216.5h.01M158.7 212.1h.01M158.8 225.6h.01M155.4 210.7h.01M137.7 220.9h.01M140.6 216.5h.01M147.7 242.1h.01M130.0 239.2h.01M136.2 234.0h.01M124.8 243.5h.01M142.0 242.5h.01M130.8 220.0h.01M156.8 210.7h.01M133.6 230.9h.01M169.7 216.6h.01M128.8 218.0h.01M153.0 218.8h.01M153.4 212.1h.01M152.0 239.4h.01M164.8 229.0h.01M146.0 226.5h.01M125.1 237.4h.01M155.9 221.9h.01M154.6 220.5h.01M139.6 212.8h.01M151.1 226.7h.01M146.6 204.8h.01M152.6 221.6h.01M150.7 227.6h.01M168.8 209.7h.01M158.5 216.2h.01M140.5 238.6h.01M125.8 243.6h.01M145.3 213.0h.01M164.0 229.8h.01M161.7 224.2h.01M165.6 232.3h.01M132.4 236.2h.01M143.3 225.2h.01M165.3 211.4h.01M134.0 229.6h.01M122.9 226.0h.01M161.1 223.4h.01M131.9 235.9h.01M164.7 234.7h.01M148.4 240.2h.01M161.6 209.6h.01M138.6 207.6h.01M139.8 237.9h.01M152.0 240.0h.01M122.8 243.5h.01M130.1 229.0h.01M165.9 233.0h.01M129.5 230.6h.01M137.2 216.3h.01M152.7 214.8h.01M151.3 231.6h.01M156.1 222.4h.01M169.3 228.2h.01M138.1 211.4h.01M158.4 218.1h.01M135.6 220.0h.01M126.8 229.1h.01M141.7 236.7h.01M140.9 222.0h.01M146.1 241.6h.01M137.5 232.0h.01M131.6 227.0h.01M134.2 238.8h.01M134.3 238.1h.01M155.2 221.9h.01M169.0 219.2h.01M158.8 227.9h.01M143.0 206.1h.01M141.4 214.9h.01M142.6 242.2h.01M134.7 231.6h.01M155.0 213.4h.01M141.0 208.9h.01M166.9 213.7h.01M141.5 217.3h.01M162.9 237.9h.01M150.6 225.6h.01M124.3 239.8h.01M139.0 232.8h.01M154.8 217.4h.01M144.1 218.2h.01M143.9 216.3h.01M154.9 228.0h.01M172.1 219.5h.01M163.3 229.8h.01M140.5 230.1h.01M130.7 243.6h.01M130.2 218.5h.01M126.6 219.5h.01M158.7 206.9h.01M127.9 229.8h.01M152.3 233.6h.01M132.6 236.4h.01M158.1 234.9h.01M125.4 222.5h.01M147.7 225.1h.01M125.0 235.5h.01M135.1 224.0h.01M125.7 226.5h.01M146.4 215.4h.01M160.6 213.5h.01M130.6 221.8h.01M148.9 222.1h.01M164.5 207.7h.01M164.5 209.8h.01M170.9 224.8h.01M140.7 228.3h.01M127.2 236.6h.01M158.3 232.4h.01M127.4 225.0h.01M135.1 242.6h.01M153.4 237.8h.01M125.0 240.7h.01M136.6 223.3h.01M154.0 239.4h.01M169.6 226.5h.01M145.8 240.1h.01M140.1 215.6h.01M158.6 214.0h.01M138.7 220.9h.01M144.5 218.0h.01M142.0 221.8h.01M121.7 237.3h.01M148.3 219.7h.01M138.9 216.2h.01M144.9 212.8h.01M159.1 223.2h.01M150.7 242.4h.01M138.6 227.7h.01M138.7 215.7h.01M151.6 227.4h.01M135.9 223.7h.01M146.6 234.0h.01M132.5 214.4h.01M161.6 220.7h.01M165.0 219.8h.01M134.3 231.0h.01M123.6 243.4h.01M163.5 216.8h.01M136.0 236.7h.01M161.2 229.5h.01M122.0 234.4h.01M121.6 228.8h.01M148.5 241.1h.01M153.2 204.4h.01M150.0 203.7h.01M158.4 220.4h.01M160.8 221.3h.01M159.2 218.8h.01M143.0 221.2h.01M158.3 206.4h.01M125.2 237.3h.01M154.6 225.7h.01M135.6 242.1h.01M149.0 240.9h.01M130.3 220.3h.01M147.7 237.5h.01M125.6 238.9h.01M142.1 218.8h.01M155.1 241.1h.01M145.4 231.4h.01M139.8 235.0h.01M124.6 233.6h.01M127.9 227.2h.01M129.8 217.5h.01M127.8 217.7h.01M150.6 224.6h.01M139.8 226.8h.01M164.1 218.0h.01M150.2 223.0h.01M171.5 216.8h.01M156.3 213.0h.01M133.0 233.1h.01M149.8 213.9h.01M122.4 236.9h.01M139.2 232.5h.01M142.2 228.5h.01M148.9 243.0h.01M167.7 222.0h.01M145.0 212.9h.01M159.3 207.6h.01M135.4 237.8h.01M120.9 231.8h.01M149.4 225.8h.01M136.8 209.6h.01M162.1 207.5h.01M160.9 212.3h.01M129.7 225.2h.01M151.6 208.4h.01M159.9 227.1h.01M155.9 218.2h.01M134.6 238.2h.01M157.9 214.2h.01M147.7 213.8h.01M134.7 213.7h.01M126.0 223.1h.01M133.6 215.0h.01M133.9 224.1h.01M165.7 210.0h.01M151.6 225.5h.01M158.3 225.1h.01M154.3 240.7h.01M160.5 214.0h.01M121.9 241.4h.01M138.4 235.4h.01M131.5 221.8h.01M138.8 233.0h.01M169.5 224.0h.01M149.3 217.6h.01M131.4 242.0h.01M124.9 241.6h.01M154.2 206.4h.01M149.3 208.3h.01M154.7 206.2h.01M164.8 235.3h.01M146.9 206.6h.01M147.2 211.0h.01M147.2 217.8h.01M145.7 211.5h.01M156.7 220.4h.01M145.0 206.7h.01M145.1 226.1h.01M137.0 231.9h.01M150.6 231.3h.01M151.8 228.3h.01M146.8 242.4h.01M163.4 231.4h.01M146.8 227.0h.01M159.5 236.2h.01M163.6 220.0h.01M137.0 217.5h.01M119.8 234.7h.01M133.0 227.2h.01M147.1 217.1h.01M155.1 221.9h.01M131.5 239.2h.01M132.6 222.9h.01M160.9 217.0h.01M131.7 230.0h.01M132.9 224.7h.01M132.6 239.0h.01M135.1 216.8h.01M157.9 230.8h.01M161.3 225.4h.01M123.2 234.4h.01M132.1 212.3h.01M141.2 243.6h.01M138.8 217.9h.01M139.7 209.0h.01M161.2 235.2h.01M137.1 235.5h.01M139.3 215.1h.01M150.7 233.5h.01M144.5 236.6h.01M167.9 209.3h.01M130.0 239.1h.01M137.3 241.2h.01M126.6 232.4h.01M169.6 211.3h.01M126.3 231.0h.01M166.2 232.9h.01M169.8 221.9h.01M138.9 208.4h.01M133.6 241.5h.01M135.4 210.9h.01M125.6 224.8h.01M147.9 226.5h.01M159.8 224.8h.01M135.6 234.3h.01M168.4 223.9h.01M127.6 216.9h.01M149.4 215.4h.01M143.6 227.9h.01M164.3 222.3h.01M129.2 241.7h.01M159.8 219.7h.01M128.3 233.3h.01M130.8 235.9h.01M145.7 229.9h.01M143.9 210.9h.01M152.1 218.5h.01M144.3 228.8h.01M136.0 217.9h.01M166.3 227.0h.01M141.3 225.4h.01M143.6 217.0h.01M167.9 213.0h.01M166.2 210.1h.01M134.4 210.4h.01M157.7 213.0h.01M150.2 209.9h.01M169.7 215.0h.01M124.2 231.3h.01M137.6 226.2h.01M145.6 240.9h.01M146.5 218.8h.01M133.4 226.8h.01M152.8 222.2h.01M123.8 223.6h.01M144.8 229.5h.01M142.7 206.9h.01M161.8 213.0h.01M163.4 235.8h.01M132.6 240.1h.01M146.0 220.8h.01M148.7 241.8h.01M145.2 223.0h.01M134.5 237.6h.01M145.9 217.4h.01M163.6 236.0h.01M155.7 235.8h.01M157.1 236.3h.01M161.9 210.6h.01M162.6 215.8h.01M132.1 240.7h.01M137.4 235.6h.01M151.7 240.4h.01M168.9 229.6h.01M122.5 230.5h.01M124.9 243.3h.01M165.6 216.1h.01M128.9 231.6h.01M152.3 208.6h.01M157.9 205.9h.01M165.4 234.6h.01M161.0 238.9h.01M149.4 241.7h.01M153.2 223.4h.01M139.6 217.8h.01M161.6 212.8h.01M154.0 234.9h.01M156.2 224.4h.01M135.9 214.6h.01M129.0 229.7h.01M136.7 241.0h.01M167.8 215.3h.01M169.9 228.6h.01M136.8 214.8h.01M147.0 223.3h.01M120.9 238.4h.01M147.6 222.7h.01M158.8 213.6h.01M129.7 227.0h.01M131.9 216.8h.01M138.0 224.8h.01M141.2 220.0h.01M131.6 222.7h.01M142.2 231.3h.01M159.8 226.0h.01M153.3 241.5h.01M167.3 213.7h.01M147.2 211.2h.01M160.0 205.8h.01M127.0 225.8h.01M133.6 232.6h.01M157.9 216.4h.01M160.0 229.7h.01M156.8 222.0h.01M142.1 207.8h.01M144.4 242.2h.01M156.2 221.2h.01M125.8 220.7h.01M149.7 233.6h.01M140.6 229.8h.01M155.5 228.4h.01M121.5 232.3h.01M144.1 207.8h.01M145.0 227.3h.01M135.9 243.3h.01M130.8 238.6h.01M146.2 220.1h.01M140.3 239.4h.01M132.8 235.5h.01M156.9 221.7h.01M138.6 221.2h.01M143.2 216.3h.01M152.4 220.2h.01M135.2 234.8h.01M143.3 222.7h.01M166.1 221.9h.01M139.1 239.9h.01M140.5 230.7h.01M158.6 215.5h.01M154.1 230.6h.01M142.3 230.0h.01M131.1 234.7h.01M137.3 232.3h.01M160.0 214.0h.01M151.8 212.4h.01M129.5 240.5h.01M122.2 227.1h.01M162.9 237.4h.01M139.9 227.4h.01M157.1 234.3h.01M158.9 226.9h.01M132.5 232.1h.01M149.0 225.5h.01M160.8 216.7h.01M133.7 226.5h.01M147.3 223.6h.01M127.9 228.8h.01M166.8 230.4h.01M134.5 236.1h.01M141.5 209.4h.01M151.4 222.1h.01M149.5 242.1h.01M137.9 234.2h.01M156.0 231.5h.01M163.3 218.9h.01M133.6 218.0h.01M147.7 204.5h.01M139.0 230.1h.01M161.5 233.4h.01M133.1 223.3h.01M156.2 204.6h.01M162.8 238.3h.01M130.3 232.0h.01M156.4 217.2h.01M166.0 212.3h.01M144.4 216.2h.01M142.6 236.4h.01M149.5 228.2h.01M130.9 228.6h.01M127.0 242.6h.01M137.3 221.3h.01M142.1 237.0h.01M168.0 230.9h.01M128.2 217.9h.01M156.8 212.3h.01M131.1 218.3h.01M131.2 232.6h.01M121.5 231.7h.01M122.4 237.6h.01M148.1 227.1h.01M137.9 243.4h.01M151.1 238.4h.01M154.7 231.7h.01M136.2 222.4h.01M134.5 226.2h.01M138.0 218.1h.01M132.3 215.3h.01M135.6 227.5h.01M164.3 222.5h.01M146.4 216.1h.01M166.5 234.0h.01M152.3 230.2h.01M156.0 223.8h.01M141.1 219.3h.01M146.0 222.5h.01M147.3 225.1h.01M161.2 239.6h.01M161.6 228.6h.01M134.3 211.2h.01M155.6 231.5h.01M158.8 221.9h.01M140.3 225.9h.01M146.5 216.0h.01M165.1 224.4h.01M126.9 219.3h.01M153.2 208.0h.01M149.1 241.5h.01M142.3 234.4h.01M150.7 227.1h.01M128.3 222.3h.01M167.2 230.8h.01M130.6 221.6h.01M148.1 217.1h.01M149.9 229.1h.01M154.1 212.2h.01M122.9 234.4h.01M136.9 242.3h.01M148.9 207.6h.01M153.1 214.1h.01M162.6 232.8h.01M159.6 205.8h.01M120.8 235.8h.01M144.3 242.3h.01M136.2 214.0h.01M163.3 211.0h.01M153.0 228.4h.01M149.1 219.0h.01M163.1 213.7h.01M157.3 211.0h.01M145.5 242.7h.01M131.8 214.8h.01M168.1 230.8h.01M131.7 215.2h.01M164.2 231.9h.01M152.6 219.0h.01M157.4 223.5h.01M139.5 225.0h.01M171.6 218.5h.01M136.7 209.5h.01M150.7 240.5h.01M128.6 223.8h.01M145.7 234.5h.01M149.2 213.2h.01M129.1 232.8h.01M123.2 238.5h.01M144.0 237.7h.01M152.1 233.7h.01M159.7 232.8h.01M121.8 236.9h.01M165.9 218.9h.01M164.3 227.9h.01M129.7 229.4h.01M147.7 218.7h.01M127.0 226.5h.01M146.2 219.2h.01M144.4 205.1h.01M151.9 211.3h.01M166.5 227.3h.01M140.0 225.4h.01M139.5 232.2h.01M138.9 232.1h.01M134.2 215.4h.01M159.1 235.3h.01M156.4 241.0h.01M128.9 219.4h.01M164.6 234.5h.01M125.0 243.2h.01M158.6 238.6h.01M138.4 228.0h.01M149.9 239.5h.01M126.7 219.8h.01M149.2 208.8h.01M160.8 206.0h.01M152.6 214.8h.01M136.3 228.1h.01M129.2 221.6h.01M133.0 218.3h.01M156.1 211.2h.01M164.4 211.5h.01M148.8 217.2h.01M133.7 243.7h.01M153.1 206.1h.01M157.3 212.9h.01M144.8 232.8h.01M141.5 216.4h.01M140.3 216.2h.01M158.7 222.3h.01M155.7 209.7h.01M129.9 228.5h.01M141.1 210.9h.01M158.1 226.7h.01M163.1 231.2h.01M148.3 238.2h.01M138.9 208.1h.01M153.3 204.5h.01M147.4 208.7h.01M151.3 236.9h.01M137.4 208.4h.01M154.9 233.0h.01M166.3 225.9h.01M150.1 238.5h.01M134.4 234.9h.01M152.9 222.5h.01M133.1 227.9h.01M146.3 224.2h.01M151.5 231.1h.01M134.5 222.0h.01M146.1 236.1h.01M140.1 240.8h.01M144.9 219.6h.01M144.7 218.0h.01M140.4 206.7h.01M155.3 209.6h.01M127.0 220.6h.01M151.2 234.4h.01M142.8 215.5h.01M138.7 239.5h.01M166.4 223.1h.01M166.6 233.8h.01M122.4 230.8h.01M130.4 221.6h.01M151.4 205.6h.01M169.0 217.1h.01M126.7 235.1h.01M153.9 222.5h.01M151.3 222.6h.01M135.1 240.6h.01M130.2 229.6h.01M122.9 240.9h.01M169.8 228.5h.01M136.1 232.8h.01M126.5 225.6h.01M132.3 225.9h.01M136.0 210.3h.01M158.8 234.3h.01M137.0 220.5h.01M156.3 233.0h.01M143.8 208.3h.01M163.2 223.6h.01M153.5 218.3h.01M138.7 210.6h.01M125.9 232.0h.01M151.0 228.3h.01M160.2 228.1h.01M140.8 229.8h.01M139.0 220.1h.01M138.6 229.7h.01M137.9 217.8h.01M164.3 235.9h.01M155.2 237.7h.01M139.7 229.5h.01M132.4 216.3h.01M124.4 235.8h.01M168.3 215.8h.01M139.2 208.2h.01M126.6 229.3h.01M132.6 234.2h.01M131.1 239.0h.01M137.9 222.7h.01M129.8 215.3h.01M141.7 214.8h.01M158.0 204.7h.01M153.2 236.0h.01M136.4 211.3h.01M161.4 227.9h.01M151.0 216.4h.01M137.9 242.9h.01M138.2 240.9h.01M165.4 226.8h.01M125.7 236.2h.01M123.8 226.1h.01M141.0 209.8h.01M159.5 229.7h.01M144.3 235.0h.01M154.8 209.9h.01M147.4 220.2h.01M146.6 232.4h.01M155.9 226.6h.01M161.2 236.9h.01M170.3 216.0h.01M142.5 222.3h.01M149.2 214.8h.01M160.7 216.9h.01M164.2 236.0h.01M124.0 239.3h.01M160.1 227.4h.01M154.7 220.2h.01M146.8 211.7h.01M143.7 213.9h.01M155.1 207.8h.01M147.5 227.1h.01M163.7 218.9h.01M127.5 236.9h.01M159.4 236.6h.01M169.1 211.9h.01M131.4 240.0h.01M167.7 222.7h.01M131.9 229.8h.01M157.5 234.9h.01M142.4 222.0h.01M144.0 218.5h.01M143.3 231.3h.01M157.1 216.7h.01M149.3 209.4h.01M138.7 216.1h.01M126.3 227.4h.01M163.9 219.0h.01M119.8 234.5h.01M131.3 232.8h.01M161.3 206.9h.01M129.1 216.3h.01M160.1 233.3h.01M135.2 221.8h.01M138.0 222.6h.01M161.5 214.1h.01M151.2 242.3h.01M169.2 210.4h.01M162.0 208.4h.01M135.2 221.4h.01M163.9 231.1h.01M129.9 239.9h.01M165.3 224.2h.01M134.6 220.5h.01M169.4 227.6h.01M162.8 206.4h.01M132.1 233.1h.01M137.2 212.7h.01M141.1 225.6h.01M140.4 226.4h.01M155.1 217.1h.01M145.3 218.8h.01M134.9 215.6h.01M166.0 218.1h.01M142.7 224.8h.01M161.0 226.0h.01M145.4 217.4h.01M159.2 223.9h.01M161.4 237.3h.01M166.8 232.9h.01M155.1 222.2h.01M147.5 227.0h.01M147.1 236.7h.01M159.2 228.5h.01M151.0 240.3h.01M139.1 241.9h.01M127.8 226.3h.01M126.7 234.0h.01M139.4 255.1h.01M129.6 259.0h.01M152.6 258.9h.01M155.0 243.2h.01M117.4 254.4h.01M163.5 249.7h.01M114.8 248.5h.01M119.7 247.6h.01M127.8 253.5h.01M118.9 244.7h.01M135.2 248.3h.01M136.5 251.5h.01M125.3 242.4h.01M137.8 252.7h.01M145.7 245.1h.01M124.3 255.0h.01M125.8 242.3h.01M155.5 259.3h.01M151.7 248.3h.01M153.3 256.0h.01M140.5 243.1h.01M141.4 253.2h.01M130.5 252.6h.01M158.8 257.3h.01M152.5 257.7h.01M116.3 255.0h.01M139.3 259.2h.01M166.5 247.6h.01M149.5 253.3h.01M150.5 245.6h.01M161.6 254.8h.01M156.3 248.0h.01M124.1 247.7h.01M149.8 250.3h.01M134.5 242.4h.01M135.4 254.1h.01M162.3 253.6h.01M145.9 255.0h.01M146.1 245.2h.01M149.8 259.7h.01M149.1 251.8h.01M146.2 252.6h.01M159.6 251.9h.01M157.9 252.2h.01M166.2 251.4h.01M159.0 256.1h.01M166.5 248.0h.01M161.4 246.3h.01M134.3 243.1h.01M129.5 246.3h.01M119.7 251.5h.01M135.8 256.9h.01M123.6 249.8h.01M129.3 259.3h.01M128.7 248.7h.01M141.3 242.9h.01M131.9 243.4h.01M157.0 256.0h.01M150.8 251.5h.01M159.8 255.3h.01M153.4 257.8h.01M121.5 250.7h.01M146.7 251.7h.01M140.6 243.0h.01M166.0 246.0h.01M116.8 253.4h.01M129.3 251.8h.01M130.3 253.3h.01M126.7 257.4h.01M117.8 251.1h.01M151.7 249.7h.01M157.2 248.9h.01M141.4 260.1h.01M151.9 254.2h.01M130.8 256.1h.01M144.3 246.8h.01M141.4 243.2h.01M128.5 259.1h.01M131.9 256.1h.01M146.1 252.2h.01M164.6 243.7h.01M139.7 246.9h.01M132.9 260.7h.01M129.9 257.5h.01M114.6 251.8h.01M150.9 242.0h.01M150.1 257.7h.01M152.3 242.4h.01M132.9 259.7h.01M116.6 243.7h.01M136.4 252.0h.01M136.8 257.0h.01M127.2 257.4h.01M126.2 246.2h.01M142.9 250.0h.01M151.6 260.6h.01M123.7 248.5h.01M128.2 250.4h.01M117.8 254.0h.01M134.0 261.6h.01M122.2 254.9h.01M145.7 248.4h.01M119.2 252.7h.01M145.1 252.7h.01M134.5 257.5h.01M116.2 254.5h.01M116.9 256.8h.01M131.5 257.9h.01M126.8 260.3h.01M135.4 257.4h.01M133.0 249.7h.01M120.9 250.2h.01M132.7 253.2h.01M125.2 260.0h.01M120.5 257.7h.01M115.4 259.6h.01M137.5 252.6h.01M117.2 257.8h.01M114.8 256.9h.01M115.1 256.2h.01M134.7 256.3h.01M134.9 252.5h.01M123.3 249.7h.01M133.5 254.3h.01M122.7 251.0h.01M123.8 249.7h.01M123.1 250.8h.01M134.6 254.6h.01M135.5 253.7h.01M116.7 254.0h.01M134.9 254.2h.01M130.1 255.9h.01M125.2 259.7h.01M137.5 253.8h.01M127.3 253.5h.01M113.9 258.6h.01M119.9 257.8h.01M137.1 255.9h.01M120.7 257.5h.01M121.3 259.4h.01M120.8 261.0h.01M131.6 259.0h.01M123.3 261.6h.01M127.4 251.5h.01M129.2 251.8h.01M128.1 251.1h.01M116.6 260.7h.01M117.6 260.2h.01M119.9 254.5h.01M129.8 260.0h.01M129.3 255.4h.01M121.2 254.4h.01M127.1 251.4h.01M130.6 258.9h.01M130.9 250.3h.01M113.6 255.9h.01M125.3 259.8h.01M127.2 255.0h.01M128.8 255.1h.01M130.7 254.8h.01M126.6 251.4h.01M116.3 256.3h.01M120.9 257.1h.01M126.3 254.3h.01M118.6 260.4h.01M114.7 253.8h.01M119.6 252.4h.01M125.7 250.7h.01M129.9 255.5h.01M129.1 254.1h.01M128.3 251.8h.01M125.6 257.6h.01M119.4 259.5h.01M129.5 260.6h.01M129.1 255.0h.01M132.2 250.9h.01M122.6 254.8h.01M132.6 256.5h.01M138.2 252.3h.01M121.9 250.4h.01M114.0 258.8h.01M131.9 255.3h.01M133.0 252.7h.01M132.4 255.0h.01M129.5 254.9h.01M130.4 254.9h.01M116.1 259.4h.01M131.0 253.0h.01M137.9 252.2h.01M117.5 256.9h.01M121.5 251.5h.01M130.5 249.7h.01M127.8 261.2h.01M136.2 252.1h.01M129.4 253.7h.01M117.1 255.0h.01M125.5 260.0h.01M116.3 257.6h.01M125.4 255.8h.01M133.7 254.7h.01M122.7 261.7h.01M127.9 251.6h.01M128.2 259.4h.01M114.9 259.3h.01M125.1 252.4h.01M116.6 253.4h.01M124.2 254.3h.01M128.0 251.5h.01M129.0 254.0h.01M134.3 257.3h.01M126.7 252.7h.01M120.3 259.0h.01M124.9 257.7h.01M120.8 260.9h.01M121.0 261.0h.01M124.2 254.1h.01M128.0 254.9h.01M127.4 255.5h.01M133.5 250.4h.01M126.8 259.4h.01M121.3 255.9h.01M138.3 254.4h.01M135.3 254.2h.01M136.9 255.0h.01M119.0 254.8h.01M124.4 250.1h.01M136.7 252.5h.01M118.4 256.5h.01M133.2 250.5h.01M127.1 249.3h.01M118.6 252.4h.01M126.6 257.4h.01M119.6 258.9h.01M128.9 257.7h.01M138.5 251.7h.01M125.4 250.8h.01M115.8 259.1h.01M115.5 257.8h.01M117.6 253.6h.01M132.6 252.9h.01M117.5 259.2h.01M124.7 255.8h.01M132.1 258.2h.01M132.6 250.3h.01M132.1 248.4h.01M116.6 257.1h.01M118.1 257.5h.01M121.7 261.8h.01M125.2 259.4h.01M137.2 252.0h.01M132.8 253.4h.01M122.4 250.8h.01M131.2 259.5h.01M130.3 251.7h.01M160.8 246.9h.01M157.9 255.7h.01M155.2 248.7h.01M161.5 242.4h.01M163.2 245.1h.01M160.0 244.4h.01M161.2 248.7h.01M162.1 248.7h.01M162.6 251.6h.01M156.1 249.1h.01M158.3 245.2h.01M164.5 250.3h.01M163.7 243.0h.01M162.7 242.0h.01M158.7 241.4h.01M165.1 247.9h.01M163.3 240.4h.01M156.3 255.6h.01M163.6 244.7h.01M158.9 256.5h.01M160.9 250.7h.01M156.8 250.0h.01M161.1 249.3h.01M161.1 251.6h.01M161.8 248.3h.01M163.2 251.3h.01M162.2 256.5h.01M161.7 251.5h.01M159.0 240.9h.01M162.5 244.8h.01M160.9 251.3h.01M161.3 248.7h.01M158.2 245.3h.01M160.5 258.7h.01M158.9 245.7h.01M159.8 248.4h.01M160.3 255.8h.01M161.5 257.2h.01M159.7 248.8h.01M162.2 246.2h.01M163.6 248.8h.01M160.5 250.5h.01M157.9 249.1h.01M163.7 245.7h.01M156.5 244.9h.01M163.7 254.5h.01M161.9 257.8h.01M156.8 249.5h.01M156.5 246.7h.01M158.7 256.9h.01M157.3 253.2h.01M157.4 244.1h.01M155.3 251.0h.01M160.0 254.8h.01M157.5 259.3h.01M161.9 251.9h.01M164.9 243.7h.01M157.8 250.8h.01M159.2 260.0h.01M163.5 240.5h.01M127.2 292.4h.01M147.0 295.3h.01M143.4 276.2h.01M139.6 282.9h.01M134.0 286.6h.01M142.2 291.6h.01M136.4 296.9h.01M146.1 289.1h.01M131.0 296.8h.01M133.9 295.0h.01M129.0 298.5h.01M149.6 273.7h.01M151.9 273.0h.01M135.6 280.1h.01M133.2 279.6h.01M125.0 280.8h.01M121.9 293.5h.01M134.1 290.8h.01M137.6 299.2h.01M161.2 281.2h.01M145.4 270.2h.01M134.6 278.5h.01M146.7 268.2h.01M152.9 270.4h.01M137.4 283.5h.01M157.1 288.2h.01M124.4 289.3h.01M128.6 287.7h.01M136.9 298.6h.01M138.6 276.7h.01M132.1 298.6h.01M133.9 275.8h.01M142.6 289.4h.01M161.7 270.6h.01M133.0 291.1h.01M140.8 290.1h.01M149.2 271.0h.01M131.8 273.8h.01M131.0 271.7h.01M153.1 273.1h.01M121.9 291.3h.01M140.6 277.5h.01M154.4 284.2h.01M142.1 280.0h.01M118.8 294.3h.01M135.8 294.5h.01M142.9 272.9h.01M121.0 297.9h.01M143.1 291.5h.01M145.8 283.3h.01M125.6 288.5h.01M138.3 289.7h.01M122.8 292.4h.01M140.0 277.2h.01M154.2 284.7h.01M131.2 280.6h.01M158.8 285.4h.01M149.5 271.4h.01M138.0 287.6h.01M136.7 288.9h.01M133.6 289.0h.01M127.3 283.7h.01M137.6 284.8h.01M151.1 273.3h.01M146.2 291.5h.01M135.7 280.7h.01M153.0 268.8h.01M139.5 276.7h.01M143.7 291.4h.01M158.0 284.2h.01M150.0 270.5h.01M146.4 283.7h.01M141.5 281.2h.01M154.8 284.5h.01M156.5 288.8h.01M126.0 298.5h.01M126.1 284.3h.01M139.1 273.3h.01M130.0 274.0h.01M147.8 289.3h.01M129.3 298.5h.01M137.4 282.6h.01M139.4 291.9h.01M152.3 277.9h.01M120.8 291.4h.01M152.7 287.2h.01M123.0 291.8h.01M125.7 293.5h.01M146.7 288.4h.01M151.9 271.6h.01M157.6 288.2h.01M128.3 270.6h.01M150.5 274.6h.01M125.6 278.2h.01M125.1 291.5h.01M153.3 276.6h.01M121.1 295.3h.01M144.1 270.7h.01M152.3 288.8h.01M141.1 299.3h.01M139.2 282.3h.01M147.4 293.2h.01M145.1 298.1h.01M130.3 296.7h.01M158.8 279.1h.01M146.6 298.7h.01M143.7 291.2h.01M153.2 273.4h.01M148.8 282.0h.01M127.7 276.8h.01M134.5 291.5h.01M143.4 278.3h.01M120.1 293.2h.01M154.5 270.0h.01M130.7 282.8h.01M131.5 294.4h.01M138.7 269.6h.01M145.9 285.4h.01M142.1 277.7h.01M128.0 273.0h.01M140.2 279.7h.01M145.0 289.6h.01M130.5 287.4h.01M129.6 291.9h.01M127.1 287.0h.01M152.1 293.6h.01M142.4 297.2h.01M134.4 276.5h.01M146.9 272.1h.01M148.1 280.4h.01M142.5 278.9h.01M132.6 269.7h.01M122.7 295.9h.01M153.9 282.5h.01M163.0 270.6h.01M139.7 288.7h.01M118.6 297.4h.01M133.4 289.7h.01M121.6 293.2h.01M142.4 270.9h.01M154.0 284.2h.01M154.3 288.3h.01M144.1 273.5h.01M137.8 277.2h.01M162.3 269.6h.01M153.2 271.8h.01M122.4 297.5h.01M127.8 287.0h.01M145.0 280.8h.01M133.9 272.5h.01M150.2 279.9h.01M145.7 294.2h.01M134.1 297.8h.01M146.7 274.3h.01M141.7 270.2h.01M124.0 284.3h.01M142.8 274.8h.01M144.9 278.0h.01M150.5 269.7h.01M157.0 282.4h.01M125.6 277.3h.01M147.0 271.0h.01M160.4 275.1h.01M136.8 270.3h.01M138.9 298.8h.01M143.2 288.5h.01M145.9 275.7h.01M157.7 274.8h.01M132.1 287.2h.01M146.4 288.0h.01M143.5 275.5h.01M128.7 270.7h.01M121.6 296.1h.01M162.6 272.7h.01M134.5 277.9h.01M140.1 275.4h.01M141.0 293.7h.01M134.1 292.1h.01M154.1 279.3h.01M152.3 279.2h.01M125.6 281.4h.01M122.8 291.0h.01M129.3 283.9h.01M155.5 287.1h.01M150.1 291.7h.01M145.4 289.1h.01M143.3 285.1h.01M161.7 277.6h.01M126.4 284.0h.01M132.1 290.9h.01M127.3 287.8h.01M136.1 289.8h.01M139.6 271.6h.01M121.8 287.7h.01M146.3 287.6h.01M141.3 284.2h.01M137.9 294.0h.01M148.9 293.8h.01M164.4 270.3h.01M127.5 275.4h.01M128.1 283.5h.01M145.1 296.6h.01M160.9 270.9h.01M162.9 277.3h.01M146.4 292.1h.01M131.3 277.8h.01M163.4 271.0h.01M146.9 291.7h.01M130.7 271.2h.01M144.3 278.3h.01M149.7 294.1h.01M123.3 284.4h.01M142.6 293.9h.01M118.6 295.9h.01M153.9 291.6h.01M133.6 283.7h.01M161.7 270.0h.01M121.4 288.5h.01M162.3 272.8h.01M126.4 282.7h.01M154.6 286.0h.01M148.5 269.7h.01M126.9 286.7h.01M151.6 270.9h.01M137.0 278.7h.01M147.3 297.4h.01M123.5 287.7h.01M134.6 295.1h.01M145.6 287.6h.01M128.0 290.4h.01M159.2 272.0h.01M130.1 284.6h.01M120.2 292.7h.01M151.2 271.8h.01M146.7 272.1h.01M142.4 271.0h.01M130.7 282.4h.01M143.1 288.9h.01M161.1 278.7h.01M134.0 274.7h.01M152.2 279.8h.01M127.5 274.2h.01M137.3 294.8h.01M138.1 294.0h.01M139.7 286.6h.01M129.5 281.1h.01M151.5 270.7h.01M138.8 276.1h.01M131.2 278.8h.01M126.8 286.4h.01M129.9 273.8h.01M156.7 290.0h.01M159.2 272.3h.01M126.3 278.0h.01M141.4 294.7h.01M133.3 281.7h.01M123.5 296.0h.01M127.4 278.2h.01M125.7 295.1h.01M127.9 275.9h.01M152.1 279.4h.01M147.4 275.3h.01M140.4 295.6h.01M128.9 299.5h.01M146.3 269.2h.01M127.3 298.7h.01M154.9 291.7h.01M148.6 268.7h.01M161.5 277.5h.01M153.8 285.3h.01M140.4 284.8h.01M136.0 295.3h.01M125.7 279.2h.01M132.6 269.5h.01M140.0 270.0h.01M129.9 292.7h.01M131.3 271.0h.01M137.6 286.5h.01M143.7 291.8h.01M136.6 299.7h.01M129.5 292.0h.01M121.2 297.3h.01M143.1 273.5h.01M123.6 296.2h.01M162.6 279.4h.01M154.7 291.0h.01M144.1 280.4h.01M132.2 294.1h.01M150.7 275.0h.01M118.5 296.6h.01M154.2 290.8h.01M133.1 282.0h.01M155.7 271.0h.01M151.5 290.6h.01M139.3 298.5h.01M147.2 296.3h.01M126.6 281.1h.01M131.2 283.9h.01M152.1 270.9h.01M136.7 283.7h.01M122.4 296.8h.01M135.0 275.8h.01M133.3 298.3h.01M147.3 281.8h.01M149.8 287.6h.01M140.8 284.2h.01M136.8 297.0h.01M154.8 278.1h.01M133.1 281.8h.01M131.4 292.3h.01M122.0 285.8h.01M151.1 279.0h.01M151.8 279.4h.01M146.8 271.3h.01M132.4 285.9h.01M146.2 282.8h.01M158.2 276.7h.01M127.3 287.9h.01M128.4 271.3h.01M121.0 288.0h.01M145.2 296.0h.01M157.4 276.6h.01M135.4 299.2h.01M147.1 279.0h.01M128.3 288.2h.01M148.3 288.2h.01M134.9 297.2h.01M139.5 293.6h.01M126.1 279.3h.01M155.0 277.4h.01M151.8 287.2h.01M148.3 268.9h.01M134.4 299.5h.01M135.1 276.9h.01M150.2 283.5h.01M146.8 280.5h.01M130.4 277.3h.01M128.2 290.2h.01M154.2 289.4h.01M152.4 274.6h.01M141.5 268.6h.01M141.9 269.0h.01M133.7 283.2h.01M127.8 270.5h.01M123.2 298.4h.01M124.5 288.8h.01M157.2 278.2h.01M153.3 293.2h.01M150.5 281.5h.01M144.4 297.8h.01M144.4 268.8h.01M138.5 295.9h.01M150.8 283.4h.01M128.0 290.4h.01M161.5 281.8h.01M132.5 277.7h.01M127.7 289.0h.01M154.9 288.8h.01M160.3 271.6h.01M131.0 280.8h.01M154.8 291.6h.01M142.4 291.7h.01M156.0 284.6h.01M149.4 295.3h.01M156.6 273.0h.01M118.9 290.6h.01M155.8 274.1h.01M148.4 287.9h.01M125.0 297.1h.01M127.6 294.7h.01M161.9 271.9h.01M150.4 285.6h.01M160.5 282.2h.01M136.9 275.5h.01M157.3 278.2h.01M132.6 286.9h.01M136.9 270.1h.01M156.9 283.8h.01M155.2 269.1h.01M135.7 295.1h.01M157.9 275.7h.01M152.4 279.4h.01M153.5 289.1h.01M137.4 282.7h.01M143.6 290.1h.01M136.4 284.6h.01M156.4 289.8h.01M130.3 298.4h.01M135.7 296.1h.01M134.8 291.8h.01M141.1 298.5h.01M141.1 288.4h.01M149.7 288.2h.01M125.9 286.2h.01M137.6 289.8h.01M153.9 274.6h.01M134.9 276.2h.01M138.6 298.9h.01M141.1 272.1h.01M135.0 270.7h.01M136.3 282.4h.01M140.0 299.3h.01M142.5 273.3h.01M125.9 289.8h.01M141.7 281.1h.01M140.7 281.1h.01M149.4 287.0h.01M129.3 286.6h.01M139.3 292.3h.01M146.5 284.2h.01M122.8 291.4h.01M126.8 280.1h.01M144.9 276.5h.01M158.1 285.5h.01M139.3 278.3h.01M144.5 288.7h.01M145.3 298.1h.01M138.2 279.9h.01M152.7 285.7h.01M130.1 297.5h.01M128.1 270.4h.01M142.8 297.1h.01M146.2 284.4h.01M131.2 273.3h.01M138.3 294.7h.01M143.5 299.4h.01M155.1 285.4h.01M145.3 281.4h.01M125.9 296.9h.01M149.3 279.5h.01M152.5 281.5h.01M150.1 284.1h.01M147.2 297.5h.01M159.4 283.4h.01M135.7 290.9h.01M148.9 271.0h.01M141.4 276.9h.01M148.0 273.3h.01M131.5 276.1h.01M130.7 286.1h.01M158.1 288.5h.01M147.9 292.4h.01M135.9 281.7h.01M148.1 274.6h.01M158.9 270.1h.01M160.5 275.2h.01M123.6 287.7h.01M133.8 273.7h.01M146.1 285.2h.01M142.7 284.4h.01M146.5 292.9h.01M151.4 290.6h.01M156.4 283.0h.01M147.6 271.6h.01M149.5 275.5h.01M162.6 277.3h.01M140.6 283.0h.01M163.1 272.9h.01M129.3 288.3h.01M134.5 279.0h.01M123.7 297.3h.01M138.3 286.5h.01M129.0 297.9h.01M122.5 290.3h.01M132.8 298.4h.01M138.1 294.8h.01M134.5 284.9h.01M135.4 277.8h.01M139.8 283.0h.01M126.1 284.6h.01M144.6 286.4h.01M152.3 282.5h.01M127.5 298.2h.01M137.1 281.2h.01M127.4 295.5h.01M131.7 285.5h.01M146.1 272.2h.01M137.8 272.2h.01M143.0 291.4h.01M148.8 280.0h.01M158.4 270.1h.01M135.8 290.3h.01M156.9 283.8h.01M136.9 290.7h.01M141.8 271.6h.01M159.4 275.5h.01M154.0 269.2h.01M141.0 277.7h.01M141.3 280.3h.01M143.3 281.9h.01M153.2 289.1h.01M130.6 274.3h.01M128.7 278.4h.01M137.5 284.1h.01M129.8 277.4h.01M147.3 269.2h.01M145.4 286.8h.01M135.5 299.7h.01M152.2 291.7h.01M134.1 296.3h.01M144.3 285.1h.01M154.7 277.9h.01M149.9 286.4h.01M127.4 286.0h.01M133.0 277.9h.01M129.5 292.7h.01M148.0 272.3h.01M150.6 296.1h.01M145.8 296.2h.01M143.4 284.2h.01M136.6 286.1h.01M152.6 282.9h.01M141.4 277.7h.01M131.6 299.3h.01M147.6 270.3h.01M142.0 281.7h.01M145.6 277.1h.01M160.0 283.4h.01M156.4 276.3h.01M159.2 285.5h.01M143.1 281.9h.01M142.6 279.6h.01M139.0 276.6h.01M138.4 276.4h.01M122.0 297.0h.01M132.4 276.7h.01M143.3 277.3h.01M151.5 277.7h.01M160.8 269.3h.01M120.2 296.2h.01M149.9 276.4h.01M147.7 279.5h.01M141.4 276.8h.01M142.9 288.8h.01M157.3 276.2h.01M144.3 286.1h.01M158.6 283.4h.01M136.7 281.0h.01M142.4 292.9h.01M145.9 284.6h.01M148.4 276.4h.01M151.4 294.4h.01M153.0 271.4h.01M132.6 297.5h.01M122.6 296.1h.01M154.9 272.7h.01M127.3 291.4h.01M148.2 269.0h.01M142.4 274.0h.01M157.9 285.1h.01M118.0 297.0h.01M129.9 288.8h.01M153.4 285.9h.01M151.8 272.0h.01M135.2 297.8h.01M136.7 272.9h.01M148.1 279.2h.01M154.6 279.7h.01M125.9 285.5h.01M138.4 271.9h.01M160.4 278.9h.01M146.2 269.9h.01M149.7 272.2h.01M148.7 283.0h.01M139.7 275.0h.01M124.6 295.0h.01M145.9 291.9h.01M152.2 280.8h.01M143.3 277.7h.01M148.3 281.8h.01M154.4 277.3h.01M135.4 270.6h.01M135.3 296.2h.01M122.0 294.6h.01M134.3 275.9h.01M146.2 279.4h.01M149.4 291.0h.01M153.7 279.0h.01M141.7 276.9h.01M136.8 297.3h.01M129.3 281.6h.01M160.2 282.5h.01M155.7 285.1h.01M133.9 291.0h.01M148.2 280.2h.01M150.9 283.2h.01M152.7 269.4h.01M149.0 295.7h.01M136.7 291.7h.01M150.2 284.1h.01M153.7 283.5h.01M123.2 284.7h.01M152.9 273.3h.01M139.2 294.7h.01M118.1 295.6h.01M134.0 279.6h.01M150.3 286.4h.01M131.0 273.0h.01M137.3 296.5h.01M150.2 290.0h.01M122.0 276.8h.01M116.7 282.5h.01M118.4 280.5h.01M113.6 280.5h.01M114.5 282.9h.01M120.7 280.8h.01M119.4 284.7h.01M121.3 281.6h.01M113.4 280.1h.01M122.9 278.3h.01M114.6 277.3h.01M116.5 276.2h.01M120.0 275.0h.01M117.6 279.0h.01M116.2 282.4h.01M115.2 282.6h.01M120.7 280.5h.01M115.4 281.0h.01M120.6 283.4h.01M114.4 275.5h.01M113.6 281.3h.01M116.6 281.4h.01M114.6 280.7h.01M115.7 278.3h.01M118.9 284.4h.01M67.0 265.4h.01M68.5 266.5h.01M70.0 268.0h.01M71.5 269.3h.01M73.0 270.3h.01M101.6 275.8h.01M90.0 296.0h.01M91.5 297.0h.01M93.0 297.8h.01M95.0 298.5h.01M96.0 299.0h.01M121.0 272.0h.01M118.0 297.7h.01M117.0 299.0h.01M119.5 296.5h.01M108.0 289.0h.01M137.0 279.5h.01M116.5 300.5h.01M120.0 301.0h.01" stroke="#b8b8b8" stroke-width="1.0" stroke-linecap="round" fill="none" opacity="0.68"/>
<path d="M162.0 215.8h.01M155.8 220.5h.01M142.1 237.0h.01M139.5 225.0h.01M167.5 230.2h.01M134.4 210.4h.01M162.3 228.8h.01M149.3 217.6h.01M157.1 236.3h.01M136.2 214.0h.01M146.6 232.8h.01M151.9 211.3h.01M164.3 227.9h.01M153.4 212.1h.01M155.3 209.6h.01M152.6 211.5h.01M162.7 222.9h.01M141.0 208.9h.01M139.6 217.8h.01M141.5 217.3h.01M139.7 209.0h.01M142.1 218.8h.01M140.4 226.4h.01M146.2 220.1h.01M164.7 234.7h.01M151.3 222.6h.01M169.1 218.1h.01M164.9 215.8h.01M134.4 234.9h.01M134.7 213.7h.01M157.3 237.3h.01M141.3 235.5h.01M138.6 229.7h.01M139.1 210.3h.01M165.2 211.8h.01M133.9 225.7h.01M170.8 217.0h.01M154.1 230.6h.01M145.7 234.5h.01M158.9 226.9h.01M170.1 227.3h.01M155.7 215.6h.01M156.0 223.8h.01M138.9 208.4h.01M145.7 204.9h.01M155.1 222.2h.01M142.6 237.6h.01M133.8 237.1h.01M155.3 232.2h.01M144.9 212.8h.01M140.9 221.1h.01M169.6 211.3h.01M138.2 234.0h.01M131.6 222.7h.01M139.5 232.2h.01M156.5 225.9h.01M153.4 237.8h.01M165.3 212.7h.01M132.9 224.7h.01M153.3 232.6h.01M156.7 220.4h.01M162.3 218.4h.01M151.5 213.0h.01M137.7 220.9h.01M131.2 232.6h.01M158.0 219.2h.01M130.3 219.5h.01M160.8 216.7h.01M154.1 212.2h.01M142.7 230.5h.01M166.5 248.0h.01M145.7 248.4h.01M159.0 256.1h.01M123.6 249.8h.01" stroke="#d84050" stroke-width="1.0" stroke-linecap="round" fill="none" opacity="0.65"/>
<path d="M148.1 273.4h.01M141.9 283.8h.01M137.2 287.6h.01M154.1 270.1h.01M136.5 289.6h.01M129.7 284.9h.01M138.9 271.7h.01M148.6 283.3h.01M148.5 271.5h.01M151.6 294.7h.01M147.5 277.5h.01M149.3 271.9h.01M145.7 297.6h.01M133.8 277.5h.01M148.2 296.6h.01M138.5 274.4h.01M153.3 272.6h.01M135.5 290.3h.01M139.7 288.2h.01M135.3 291.5h.01M147.5 274.7h.01M149.0 289.7h.01M135.3 297.2h.01M158.3 277.4h.01M129.2 285.0h.01M134.8 281.8h.01M134.8 280.1h.01M149.0 271.6h.01M147.9 270.8h.01M162.4 274.4h.01M139.0 278.6h.01M141.8 294.0h.01M133.6 291.8h.01M139.7 274.3h.01M159.9 281.5h.01M139.5 273.9h.01M135.4 289.2h.01M159.2 280.1h.01M132.9 275.6h.01M130.3 288.9h.01M133.5 274.7h.01M141.6 288.1h.01M134.1 294.4h.01M153.5 280.3h.01M158.6 283.5h.01M147.7 281.4h.01M131.3 283.4h.01M144.7 297.6h.01M140.3 284.7h.01M130.7 284.8h.01M146.8 284.2h.01M142.0 281.7h.01M146.0 292.6h.01M155.2 280.0h.01M152.4 286.2h.01M139.6 277.5h.01M154.5 275.6h.01M136.5 292.6h.01M148.1 270.1h.01M143.9 274.3h.01M148.9 285.7h.01M136.5 280.5h.01M148.9 284.1h.01M144.5 270.2h.01M153.0 270.4h.01M136.5 274.8h.01M153.1 272.9h.01M151.6 290.5h.01M151.9 290.7h.01M149.6 271.3h.01M141.1 298.0h.01M151.0 274.0h.01M147.0 271.3h.01M134.4 281.7h.01M137.3 282.8h.01M149.2 273.4h.01M155.3 288.7h.01M152.8 274.4h.01M136.8 294.0h.01M141.5 296.6h.01M136.5 284.2h.01M135.2 280.2h.01M151.3 272.1h.01M145.0 274.6h.01M159.6 283.0h.01M156.0 286.1h.01M156.3 290.9h.01M140.5 275.7h.01M135.4 284.3h.01M157.2 280.7h.01M149.4 275.1h.01M138.6 296.9h.01M133.1 289.2h.01M151.2 276.1h.01M147.0 290.8h.01M157.9 272.7h.01M135.3 273.7h.01M160.4 269.9h.01M135.2 272.4h.01M161.4 274.2h.01M140.8 297.5h.01M144.5 270.9h.01M135.2 283.4h.01M145.5 298.7h.01M145.5 291.4h.01M155.7 269.7h.01M137.8 270.9h.01M146.8 270.5h.01M132.1 280.6h.01M134.4 288.0h.01M140.4 275.6h.01M147.1 272.8h.01M140.4 279.2h.01M155.1 282.2h.01M148.1 284.9h.01M149.1 288.8h.01M135.9 275.3h.01M138.8 276.3h.01M135.3 278.4h.01M140.7 280.4h.01M153.2 293.1h.01M133.0 286.7h.01M137.7 292.5h.01M140.1 278.1h.01M158.9 282.4h.01M143.3 296.6h.01M140.2 289.9h.01M135.7 288.3h.01M135.5 285.0h.01M157.4 288.0h.01" stroke="#d0202e" stroke-width="1.25" stroke-linecap="round" fill="none" opacity="0.8"/>
<path d="M176.3 437.9h.01M164.0 463.7h.01M165.4 477.7h.01M187.4 420.4h.01M168.6 426.5h.01M161.9 420.4h.01M157.9 449.8h.01M174.8 445.5h.01M167.8 450.5h.01M142.8 431.4h.01M176.1 456.2h.01M172.6 465.3h.01M152.1 402.6h.01M153.0 436.8h.01M185.8 418.7h.01M180.3 469.3h.01M161.9 449.4h.01M175.9 419.6h.01M151.2 434.9h.01M184.4 436.9h.01M168.6 405.8h.01M149.6 407.6h.01M157.3 430.7h.01M153.6 457.3h.01M157.0 425.0h.01M169.2 408.3h.01M153.8 463.7h.01M165.9 439.8h.01M174.3 457.5h.01M154.9 396.8h.01M149.9 407.1h.01M181.9 461.9h.01M166.8 438.4h.01M178.8 442.5h.01M146.2 429.5h.01M152.3 430.6h.01M158.1 441.6h.01M174.5 414.3h.01M161.7 433.4h.01M185.7 439.2h.01M186.9 422.6h.01M153.3 448.2h.01M158.5 435.3h.01M175.0 439.9h.01M160.9 386.4h.01M163.1 425.0h.01M152.5 426.3h.01M167.8 412.4h.01M169.1 442.5h.01M161.4 464.1h.01M164.6 475.4h.01M179.7 452.6h.01M150.4 453.7h.01M144.6 412.1h.01M185.5 452.0h.01M174.7 437.7h.01M177.9 438.1h.01M165.3 446.3h.01M145.8 439.7h.01M178.1 455.2h.01M173.4 443.2h.01M165.5 427.6h.01M171.7 417.4h.01M181.2 438.1h.01M163.6 435.0h.01M176.9 466.8h.01M182.0 454.2h.01M167.1 391.6h.01M165.5 458.8h.01M163.9 470.5h.01M159.9 432.0h.01M155.3 397.0h.01M170.5 396.3h.01M149.7 412.7h.01M153.0 407.8h.01M165.5 413.9h.01M180.1 423.6h.01M158.6 401.2h.01M171.8 428.0h.01M186.1 447.9h.01M182.4 460.4h.01M150.8 415.1h.01M188.4 440.8h.01M167.8 427.6h.01M152.1 436.4h.01M154.0 422.1h.01M146.1 412.7h.01M147.4 452.9h.01M153.0 438.9h.01M144.1 440.1h.01M159.1 473.9h.01M151.9 413.3h.01M166.3 432.0h.01M156.6 400.6h.01M166.7 386.9h.01M160.8 409.6h.01M177.0 425.1h.01M172.0 442.4h.01M177.0 476.3h.01M169.7 452.7h.01M169.5 391.5h.01M183.0 436.4h.01M166.8 477.8h.01M162.7 430.6h.01M179.9 428.0h.01M163.4 456.9h.01M186.0 429.3h.01M176.6 439.6h.01M169.3 405.2h.01M156.2 409.3h.01M153.1 404.1h.01M182.1 450.5h.01M157.5 394.6h.01M175.1 457.9h.01M173.6 454.8h.01M181.1 470.2h.01M150.6 421.9h.01M182.1 467.5h.01M159.4 462.1h.01M182.8 423.5h.01M162.5 452.9h.01M159.3 407.8h.01M151.6 444.5h.01M178.6 443.8h.01M170.3 436.1h.01M162.4 385.5h.01M168.6 449.5h.01M173.9 399.9h.01M184.2 425.0h.01M166.4 445.7h.01M158.3 442.7h.01M148.0 448.3h.01M185.3 454.6h.01M170.7 436.7h.01M172.8 391.1h.01M166.1 460.4h.01M180.4 413.5h.01M173.5 437.6h.01M166.5 443.0h.01M164.1 421.5h.01M179.5 448.0h.01M166.9 433.2h.01M158.9 443.5h.01M161.2 422.0h.01M173.4 452.5h.01M186.2 420.1h.01M166.5 428.6h.01M147.9 433.3h.01M173.1 391.8h.01M170.6 452.5h.01M159.4 437.4h.01M161.7 399.1h.01M173.4 437.6h.01M181.6 466.8h.01M179.2 423.7h.01M168.7 415.9h.01M146.4 420.8h.01M183.8 414.7h.01M149.8 428.3h.01M173.3 462.5h.01M144.7 430.2h.01M159.4 386.4h.01M152.4 411.5h.01M158.1 414.1h.01M162.2 392.1h.01M160.3 390.3h.01M146.2 420.7h.01M165.1 441.5h.01M165.9 412.3h.01M170.0 408.8h.01M168.9 409.3h.01M180.8 428.3h.01M167.4 449.3h.01M154.9 402.6h.01M162.3 458.4h.01M178.0 429.5h.01M171.9 409.2h.01M181.5 420.5h.01M170.6 454.3h.01M168.3 459.3h.01M155.7 461.7h.01M157.9 435.0h.01M149.5 424.0h.01M151.6 437.7h.01M174.4 452.0h.01M175.8 455.3h.01M171.7 399.2h.01M168.9 411.8h.01M189.8 430.2h.01M179.4 445.7h.01M144.3 438.3h.01M156.9 473.6h.01M175.0 476.3h.01M183.6 441.8h.01M165.2 436.5h.01M158.0 468.5h.01M159.0 427.5h.01M172.0 414.8h.01M172.0 389.4h.01M180.7 458.3h.01M151.6 440.2h.01M164.0 393.0h.01M174.9 453.1h.01M145.4 444.7h.01M184.2 427.1h.01M158.4 397.0h.01M164.9 433.1h.01M170.7 392.0h.01M163.1 455.6h.01M185.9 442.8h.01M152.8 434.8h.01M153.7 446.8h.01M156.6 419.6h.01M161.1 429.9h.01M154.1 407.3h.01M144.5 419.0h.01M158.6 457.6h.01M153.7 459.0h.01M180.8 462.6h.01M170.6 394.6h.01M175.3 441.5h.01M166.1 459.9h.01M151.4 421.2h.01M173.1 472.8h.01M155.2 425.8h.01M168.0 429.6h.01M146.3 420.2h.01M187.7 421.2h.01M167.4 474.8h.01M171.1 478.4h.01M157.5 419.9h.01M169.8 442.6h.01M171.4 472.8h.01M167.6 438.4h.01M164.2 417.2h.01M166.5 392.9h.01M165.4 404.9h.01M161.5 405.9h.01M153.4 427.3h.01M148.3 408.9h.01M183.5 424.7h.01M152.8 460.5h.01M160.8 420.4h.01M188.0 432.9h.01M163.6 442.4h.01M184.3 446.5h.01M158.0 469.4h.01M156.6 428.2h.01M180.6 468.4h.01M152.7 410.3h.01M167.4 439.6h.01M168.7 430.3h.01M163.6 450.9h.01M159.7 430.5h.01M155.5 434.7h.01M166.2 418.8h.01M148.2 438.4h.01M183.5 421.8h.01M154.9 466.0h.01M150.1 439.8h.01M179.7 434.5h.01M156.7 443.3h.01M158.8 450.2h.01M181.1 463.4h.01M155.6 450.1h.01M173.4 472.4h.01M163.9 390.0h.01M168.6 416.0h.01M145.6 418.5h.01M180.1 451.7h.01M164.2 465.5h.01M163.0 448.1h.01M170.0 442.5h.01M155.2 397.7h.01M169.3 400.3h.01M151.4 404.3h.01M175.0 433.9h.01M179.3 425.0h.01M151.9 420.8h.01M165.5 430.6h.01M171.2 452.4h.01M149.7 448.3h.01M182.4 424.7h.01M155.6 409.0h.01M172.0 395.9h.01M152.7 413.8h.01M175.9 457.5h.01M168.9 398.7h.01M159.7 390.0h.01M190.8 429.6h.01M155.9 398.2h.01M161.3 451.9h.01M169.3 416.0h.01M148.7 411.0h.01M175.0 433.8h.01M162.5 441.6h.01M156.2 467.1h.01M148.2 416.5h.01M151.3 423.3h.01M169.1 399.6h.01M157.0 387.7h.01M165.4 426.9h.01M169.4 466.6h.01M162.4 475.1h.01M170.5 478.6h.01M166.8 450.4h.01M147.1 423.1h.01M170.0 461.1h.01M157.7 453.5h.01M178.0 460.8h.01M157.9 417.6h.01M170.8 428.3h.01M165.4 440.1h.01M167.6 404.4h.01M164.2 460.0h.01M156.2 391.9h.01M153.7 453.8h.01M159.4 477.6h.01M150.0 414.0h.01M166.5 417.1h.01M156.8 394.2h.01M167.0 458.1h.01M172.7 419.9h.01M160.2 411.5h.01M147.1 430.7h.01M168.4 462.8h.01M186.5 419.7h.01M177.7 470.8h.01M156.1 401.6h.01M180.4 413.9h.01M170.8 427.6h.01M152.7 403.1h.01M157.6 415.4h.01M159.0 418.2h.01M161.1 479.0h.01M143.3 420.0h.01M169.1 444.5h.01M158.7 455.4h.01M163.3 398.9h.01M176.7 476.0h.01M150.7 458.9h.01M180.2 418.3h.01M167.7 480.9h.01M168.0 470.7h.01M162.0 448.2h.01M166.1 454.3h.01M178.1 455.1h.01M174.2 462.6h.01M154.4 443.6h.01M157.7 439.2h.01M180.7 468.9h.01M168.6 435.0h.01M158.1 462.3h.01M180.3 454.3h.01M159.5 457.7h.01M152.4 400.8h.01M165.7 400.8h.01M155.3 399.5h.01M162.5 417.5h.01M162.1 391.0h.01M156.9 388.4h.01M165.2 397.5h.01M179.5 460.3h.01M182.9 426.1h.01M162.8 418.8h.01M174.2 431.9h.01M176.7 427.3h.01M183.4 443.3h.01M155.6 425.8h.01M144.8 423.7h.01M163.3 444.0h.01M147.5 450.5h.01M149.0 411.5h.01M157.7 391.3h.01M186.3 451.9h.01M187.6 442.7h.01M169.1 428.1h.01M169.1 416.7h.01M151.1 441.9h.01M186.5 443.9h.01M152.4 439.3h.01M179.1 421.2h.01M158.2 472.0h.01M163.7 391.7h.01M174.9 425.8h.01M152.7 402.9h.01M168.1 408.7h.01M158.7 428.6h.01M187.6 442.5h.01M163.5 466.3h.01M180.1 454.5h.01M177.8 449.2h.01M168.4 402.6h.01M153.9 446.0h.01M172.5 444.9h.01M157.6 395.9h.01M149.9 430.7h.01M175.9 445.4h.01M165.9 437.4h.01M150.1 434.3h.01M173.8 449.7h.01M178.6 428.1h.01M155.8 426.7h.01M152.5 446.6h.01M161.3 429.6h.01M160.3 401.5h.01M171.1 455.8h.01M159.4 396.8h.01M172.3 445.7h.01M169.1 466.0h.01M171.5 477.0h.01M169.8 435.2h.01M152.5 415.9h.01M160.1 410.3h.01M155.8 402.2h.01M147.5 439.1h.01M163.6 463.5h.01M177.7 476.0h.01M174.4 475.7h.01M158.2 440.4h.01M159.9 425.6h.01M173.3 477.1h.01M145.6 425.6h.01M177.1 461.9h.01M172.9 411.8h.01M169.7 472.6h.01M171.0 443.1h.01M161.1 458.3h.01M189.5 431.0h.01M173.7 436.6h.01M146.1 425.6h.01M187.3 440.7h.01M161.4 404.6h.01M160.6 458.0h.01M175.6 445.4h.01M188.6 420.5h.01M156.3 445.5h.01M154.4 451.4h.01M180.7 463.7h.01M151.8 420.8h.01M176.7 439.3h.01M169.1 456.9h.01M164.5 401.8h.01M166.5 439.7h.01M152.5 407.2h.01M151.9 426.8h.01M156.3 458.9h.01M154.5 409.7h.01M162.1 469.1h.01M174.9 448.7h.01M150.6 412.0h.01M178.0 466.0h.01M174.2 415.5h.01M169.6 445.6h.01M171.6 476.0h.01M166.2 396.3h.01M166.2 425.9h.01M175.5 432.1h.01M154.2 403.7h.01M178.8 440.5h.01M164.1 395.5h.01M150.9 418.6h.01M147.6 434.8h.01M157.8 419.5h.01M147.3 446.0h.01M168.3 411.2h.01M174.0 454.2h.01M148.8 426.7h.01M181.7 429.6h.01M174.0 470.3h.01M163.1 462.1h.01M170.2 461.8h.01M151.6 442.1h.01M159.4 413.4h.01M152.9 420.9h.01M150.7 436.0h.01M160.2 452.8h.01M173.7 443.7h.01M164.1 451.7h.01M164.9 433.5h.01M154.1 422.5h.01M160.3 428.6h.01M183.2 432.4h.01M148.3 405.5h.01M182.9 466.0h.01M157.2 418.5h.01M163.5 420.0h.01M178.6 451.8h.01M171.9 474.8h.01M167.2 410.6h.01M147.5 448.3h.01M173.7 460.3h.01M149.6 441.6h.01M147.8 426.2h.01M160.0 419.2h.01M162.3 434.9h.01M147.9 436.2h.01M144.2 431.9h.01M164.6 429.8h.01M159.7 431.6h.01M150.9 429.4h.01M159.5 397.8h.01M171.1 427.2h.01M148.6 436.9h.01M153.5 440.3h.01M158.0 455.1h.01M158.8 459.1h.01M158.8 460.3h.01M179.0 426.2h.01M165.8 392.5h.01M156.8 409.9h.01M181.2 461.7h.01M173.1 459.6h.01M163.4 447.3h.01M159.8 385.4h.01M167.9 470.9h.01M166.6 473.4h.01M161.2 409.1h.01M150.2 426.6h.01M157.5 394.9h.01M180.3 425.6h.01M153.9 433.2h.01M158.6 445.3h.01M156.1 445.6h.01M179.7 411.7h.01M153.2 440.1h.01M170.3 471.3h.01M181.9 429.7h.01M166.5 462.0h.01M170.4 396.0h.01M161.0 395.4h.01M175.0 461.2h.01M173.3 389.4h.01M162.2 385.7h.01M175.6 458.5h.01M152.2 454.8h.01M174.0 476.5h.01M179.7 429.1h.01M163.3 423.8h.01M150.0 461.7h.01M167.7 459.6h.01M165.7 407.4h.01M155.0 395.7h.01M177.4 433.6h.01M160.2 419.2h.01M153.3 411.5h.01M154.5 434.6h.01M162.9 430.5h.01M183.0 418.7h.01M171.9 434.6h.01M188.5 443.0h.01M187.6 419.7h.01M151.9 404.6h.01M156.6 467.9h.01M161.6 406.1h.01M169.4 391.3h.01M157.8 389.5h.01M166.2 439.5h.01M148.7 453.3h.01M167.4 465.3h.01M163.8 418.4h.01M173.4 424.3h.01M164.6 408.5h.01M173.3 474.3h.01M159.3 420.5h.01M152.0 453.4h.01M162.4 427.9h.01M166.8 407.5h.01M186.9 435.4h.01M168.9 470.3h.01M174.6 467.0h.01M148.3 413.6h.01M152.8 434.7h.01M152.7 422.5h.01M162.1 415.4h.01M176.9 432.8h.01M181.1 418.9h.01M183.1 466.6h.01M162.0 476.8h.01M169.2 470.2h.01M153.6 469.9h.01M157.2 465.2h.01M160.8 477.5h.01M185.0 421.6h.01M170.0 413.3h.01M186.9 425.4h.01M168.2 406.3h.01M178.0 437.0h.01M156.0 397.5h.01M177.6 425.6h.01M181.6 426.1h.01M169.4 455.2h.01M147.9 431.6h.01M159.0 419.3h.01M146.6 411.1h.01M160.1 410.3h.01M152.7 411.9h.01M167.0 448.2h.01M172.0 442.0h.01M174.4 428.4h.01M164.4 429.9h.01M155.5 432.9h.01M162.7 444.6h.01M147.5 412.5h.01M163.1 474.1h.01M148.9 434.4h.01M180.9 432.3h.01M158.3 438.3h.01M183.6 461.3h.01M172.1 454.4h.01M150.8 406.4h.01M162.2 479.5h.01M157.7 464.5h.01M156.8 454.1h.01M170.2 443.0h.01M184.3 435.7h.01M164.9 402.9h.01M184.4 422.6h.01M165.8 434.6h.01M171.3 419.5h.01M183.3 459.5h.01M174.9 440.9h.01M154.2 441.6h.01M165.1 390.9h.01M175.1 426.8h.01M153.1 454.3h.01M181.4 444.0h.01M161.7 388.3h.01M177.0 442.8h.01M163.3 385.2h.01M152.0 433.8h.01M177.7 456.3h.01M163.9 452.5h.01M161.2 441.1h.01M176.1 440.2h.01M159.8 469.7h.01M172.4 410.8h.01M170.0 413.4h.01M185.2 422.7h.01M179.7 469.5h.01M170.3 447.7h.01M143.9 411.7h.01M168.3 390.2h.01M166.5 399.5h.01M151.6 463.3h.01M172.3 401.7h.01M163.1 472.1h.01M146.0 421.5h.01M154.3 406.1h.01M149.8 456.6h.01M158.1 454.1h.01M160.2 460.3h.01M154.5 457.2h.01M158.2 385.7h.01M168.6 396.5h.01M144.9 437.3h.01M170.9 447.5h.01M156.6 404.3h.01M161.7 404.7h.01M165.1 458.6h.01M160.0 406.4h.01M167.4 402.8h.01M177.8 464.6h.01M160.6 385.1h.01M171.3 435.8h.01M171.0 419.8h.01M168.7 444.8h.01M183.6 413.3h.01M149.6 428.0h.01M144.9 414.9h.01M167.2 468.7h.01M185.3 416.6h.01M151.2 453.1h.01M178.4 424.3h.01M182.3 447.8h.01M153.8 467.2h.01M155.3 468.1h.01M182.9 466.2h.01M160.9 479.0h.01M150.6 461.1h.01M170.5 477.4h.01M161.9 454.3h.01M171.5 467.1h.01M151.5 417.6h.01M156.2 470.3h.01M189.8 432.6h.01M167.6 395.1h.01M168.5 476.3h.01M157.5 449.0h.01M182.1 429.1h.01M163.5 454.6h.01M151.1 417.5h.01M154.3 466.3h.01M178.8 423.9h.01M148.0 434.8h.01M156.4 446.3h.01M184.0 419.7h.01M158.4 465.9h.01M184.1 452.6h.01M158.8 475.7h.01M150.7 462.8h.01M172.5 468.9h.01M174.8 475.9h.01M154.5 470.8h.01M188.9 422.3h.01M167.3 396.2h.01M172.9 398.1h.01M163.1 386.4h.01M158.9 406.3h.01M180.5 432.6h.01M170.0 388.1h.01M160.2 430.2h.01M144.9 437.3h.01M147.8 431.6h.01M163.2 410.2h.01M156.7 433.1h.01M158.9 429.1h.01M188.6 435.5h.01M153.8 431.1h.01M157.6 391.3h.01M146.4 425.6h.01M179.5 420.8h.01M175.1 471.3h.01M171.1 392.4h.01M165.1 453.8h.01M144.9 440.9h.01M174.5 474.9h.01M179.4 444.7h.01M164.3 480.2h.01M147.9 408.0h.01M179.6 414.5h.01M181.1 443.4h.01M154.9 462.3h.01M147.0 427.8h.01M145.8 428.4h.01M156.2 436.4h.01M184.6 457.8h.01M166.0 425.2h.01M177.7 471.8h.01M158.5 387.2h.01M172.5 437.0h.01M165.2 461.2h.01M185.7 435.1h.01M157.9 448.7h.01M183.8 454.5h.01M172.5 400.2h.01M177.9 443.3h.01M177.6 429.5h.01M144.3 409.2h.01M171.2 399.4h.01M158.3 424.5h.01M149.4 411.9h.01M164.3 474.4h.01M161.5 464.1h.01M158.4 449.8h.01M171.3 420.8h.01M158.8 424.5h.01M159.0 462.6h.01M186.9 440.4h.01M175.7 467.6h.01M147.8 430.4h.01M163.0 445.5h.01M168.3 389.4h.01M162.3 417.5h.01M171.7 472.4h.01M146.3 437.5h.01M164.9 422.3h.01M151.8 428.7h.01M148.2 450.8h.01M156.8 470.3h.01M154.3 404.9h.01M151.6 456.0h.01M167.5 447.2h.01M159.8 437.0h.01M163.1 431.6h.01M147.5 434.8h.01M146.1 419.1h.01M166.8 390.7h.01M173.2 443.4h.01M179.7 417.8h.01M173.3 417.4h.01M151.2 451.4h.01M144.9 434.7h.01M167.3 444.5h.01M179.4 417.0h.01M181.6 454.5h.01M154.4 406.9h.01M164.5 468.9h.01M184.9 436.6h.01M168.1 433.0h.01M176.8 435.1h.01M169.8 468.6h.01M147.7 434.7h.01M172.4 411.4h.01M179.8 447.3h.01M159.3 428.0h.01M169.3 392.9h.01M164.8 477.5h.01M146.3 427.7h.01M155.4 448.0h.01M151.5 436.0h.01M162.9 467.5h.01M152.8 448.4h.01M166.3 404.6h.01M161.2 409.6h.01M156.8 447.3h.01M158.7 449.7h.01M182.3 442.4h.01M156.4 439.8h.01M164.5 478.0h.01M153.8 421.4h.01M152.8 427.5h.01M167.8 405.3h.01M172.5 462.2h.01M179.6 418.4h.01M156.8 398.6h.01M175.7 431.9h.01M171.7 389.6h.01M174.0 475.1h.01M163.5 443.1h.01M163.3 470.8h.01M156.8 432.7h.01M180.7 420.9h.01M163.5 393.8h.01M189.1 433.6h.01M165.3 400.3h.01M162.4 418.8h.01M151.5 419.9h.01M159.7 447.5h.01M164.5 456.7h.01M156.3 457.0h.01M165.7 416.7h.01M171.9 431.0h.01M182.4 453.2h.01M160.8 442.6h.01M163.1 457.5h.01M149.6 438.6h.01M168.3 472.8h.01M158.1 423.3h.01M176.2 443.9h.01M166.4 443.6h.01M163.7 436.5h.01M177.9 423.3h.01M184.0 417.8h.01M168.1 476.2h.01M163.6 388.1h.01M161.5 452.9h.01M153.8 449.2h.01M153.6 450.2h.01M152.4 422.3h.01M181.9 440.2h.01M168.0 429.5h.01M173.7 464.9h.01M149.1 419.4h.01M166.9 399.6h.01M147.8 447.8h.01M157.9 417.3h.01M171.4 391.9h.01M148.8 458.1h.01M160.3 449.5h.01M150.5 451.8h.01M167.4 394.9h.01M148.7 408.7h.01M161.6 437.4h.01M151.9 436.5h.01M167.0 424.8h.01M174.1 434.4h.01M146.1 427.6h.01M172.2 433.9h.01M167.9 415.5h.01M184.8 429.9h.01M186.8 419.7h.01M154.6 447.2h.01M176.6 432.1h.01M173.1 397.3h.01M183.5 429.5h.01M178.2 413.6h.01M188.0 443.8h.01M178.1 438.1h.01M179.7 412.1h.01M160.8 449.6h.01M145.4 412.5h.01M152.1 401.4h.01M169.5 425.6h.01M171.5 449.1h.01M164.0 469.5h.01M163.2 429.6h.01M154.8 457.7h.01M154.7 415.2h.01M164.1 385.6h.01M153.2 424.9h.01M152.8 446.0h.01M157.5 431.9h.01M145.3 418.1h.01M154.7 390.9h.01M183.1 426.1h.01M150.8 406.2h.01M164.2 441.4h.01M167.3 468.4h.01M168.3 453.0h.01M153.0 469.4h.01M167.6 386.5h.01M156.7 395.9h.01M170.3 419.8h.01M155.1 415.9h.01M187.7 432.4h.01M177.0 444.8h.01M166.1 435.1h.01M155.9 439.0h.01M157.7 385.6h.01M168.4 470.4h.01M174.8 430.1h.01M152.8 420.4h.01M181.3 430.6h.01M158.9 403.6h.01M159.3 412.2h.01M161.1 451.8h.01M179.7 473.1h.01M172.3 465.4h.01M174.0 391.9h.01M150.9 407.4h.01M147.7 409.7h.01M175.0 457.6h.01M164.3 438.0h.01M173.6 451.7h.01M163.3 420.0h.01M167.8 441.5h.01M149.1 429.5h.01M166.8 459.3h.01M177.6 445.6h.01M166.8 400.9h.01M159.0 414.7h.01M165.6 391.2h.01M159.1 412.6h.01M166.0 446.2h.01M185.0 452.2h.01M157.4 447.0h.01M180.3 466.4h.01M171.8 471.5h.01M174.5 421.9h.01M188.4 424.6h.01M160.5 462.6h.01M175.9 416.2h.01M167.1 423.0h.01M181.7 415.1h.01M163.8 460.7h.01M169.4 451.1h.01M185.6 445.4h.01M159.8 394.5h.01M156.6 397.6h.01M147.5 405.5h.01M147.1 414.5h.01M170.7 421.2h.01M174.1 411.8h.01M163.3 409.1h.01M172.4 389.6h.01M147.5 406.5h.01M152.3 421.0h.01M158.8 414.6h.01M180.2 421.8h.01M186.1 453.5h.01M185.4 426.8h.01M158.8 441.4h.01M175.6 465.7h.01M169.3 396.3h.01M187.2 431.0h.01M148.2 436.8h.01M156.8 414.6h.01M170.4 449.0h.01M174.7 428.5h.01M179.7 444.1h.01M165.2 399.0h.01M157.3 391.2h.01M184.6 429.1h.01M169.5 465.8h.01M179.8 469.9h.01M165.5 442.0h.01M149.2 408.3h.01M168.9 408.7h.01M179.2 421.9h.01M180.2 466.1h.01M149.0 433.8h.01M167.5 419.0h.01M153.0 410.3h.01M189.8 432.8h.01M162.9 457.3h.01M178.0 463.2h.01M180.5 414.5h.01M154.4 433.7h.01M153.8 422.2h.01M171.7 438.3h.01M149.4 457.3h.01M162.5 438.2h.01M185.4 433.5h.01M147.8 417.0h.01M154.0 391.1h.01M164.4 417.2h.01M153.3 415.2h.01M147.7 434.8h.01M173.4 398.8h.01M168.5 445.4h.01M188.4 440.2h.01M154.8 392.5h.01M179.0 419.0h.01M157.7 437.7h.01M175.1 443.9h.01M174.6 470.1h.01M174.9 449.1h.01M155.6 418.3h.01M164.7 479.5h.01M173.5 435.5h.01M143.0 423.1h.01M148.9 440.0h.01M149.5 444.8h.01M179.9 447.4h.01M148.7 453.8h.01M156.5 400.8h.01M164.7 387.5h.01M185.7 443.0h.01M160.5 431.0h.01M150.4 452.0h.01M182.2 428.2h.01M145.2 416.8h.01M161.1 385.4h.01M184.7 453.8h.01M144.5 433.6h.01M170.2 476.0h.01M162.7 418.3h.01M168.2 392.8h.01M162.1 415.1h.01M170.3 455.2h.01M156.0 402.3h.01M173.0 414.3h.01M158.4 450.7h.01M185.1 416.9h.01M168.5 428.9h.01M168.7 451.7h.01M179.7 421.6h.01M176.2 470.7h.01M167.2 430.5h.01M165.0 402.2h.01M172.0 410.0h.01M160.6 476.1h.01M156.5 417.0h.01M174.4 443.8h.01M155.2 401.4h.01M149.4 423.0h.01M179.8 466.4h.01M152.1 454.2h.01M151.6 428.9h.01M148.7 407.6h.01M182.0 455.1h.01M166.5 471.8h.01M147.9 413.3h.01M175.2 396.8h.01M164.2 426.3h.01M151.0 411.3h.01M155.2 437.8h.01M158.9 440.3h.01M158.5 455.4h.01M185.1 445.0h.01M183.0 430.0h.01M167.3 426.4h.01M145.0 428.9h.01M148.0 453.3h.01M183.4 425.4h.01M169.6 422.9h.01M171.5 479.9h.01M153.9 443.0h.01M145.2 426.3h.01M160.3 438.1h.01M154.7 401.9h.01M168.1 464.7h.01M189.5 424.9h.01M154.3 415.9h.01M186.7 433.2h.01M171.3 446.5h.01M159.7 438.4h.01M173.1 455.5h.01M153.4 403.4h.01M175.2 426.1h.01M159.8 418.6h.01M157.2 402.5h.01M164.7 467.5h.01M144.2 431.5h.01M143.3 417.5h.01M160.6 394.7h.01M186.8 430.1h.01M165.2 394.4h.01M148.1 419.0h.01M161.9 444.3h.01M165.3 467.6h.01M146.9 440.9h.01M157.5 425.3h.01M171.5 466.4h.01M168.8 392.4h.01M147.6 449.8h.01M161.9 467.8h.01M146.5 428.3h.01M164.5 461.0h.01M180.8 423.6h.01M159.3 409.7h.01M176.0 420.8h.01M153.3 438.2h.01M183.3 427.1h.01M147.3 421.4h.01M159.3 419.1h.01M163.7 398.1h.01M162.7 398.4h.01M149.6 441.5h.01M170.0 411.6h.01M176.7 436.7h.01M170.1 397.9h.01M166.7 388.7h.01M157.4 471.8h.01M161.5 433.4h.01M144.1 427.7h.01M171.8 431.2h.01M153.3 403.4h.01M162.5 464.9h.01M176.4 421.2h.01M182.1 467.4h.01M159.0 474.7h.01M159.8 405.5h.01M153.2 436.2h.01M150.1 460.3h.01M186.4 420.0h.01M186.7 428.8h.01M171.9 473.8h.01M157.7 437.3h.01M188.3 425.5h.01M155.4 402.1h.01M163.9 408.1h.01M152.8 429.0h.01M163.0 388.3h.01M168.1 442.7h.01M151.2 424.7h.01M169.9 457.6h.01M157.4 429.3h.01M152.7 443.3h.01M180.5 439.4h.01M180.8 454.1h.01M184.5 438.5h.01M157.3 422.0h.01M177.4 412.8h.01M167.3 460.6h.01M160.5 419.9h.01M147.5 450.7h.01M163.4 420.8h.01M152.3 467.5h.01M149.1 427.5h.01M155.4 389.9h.01M157.7 439.1h.01M186.5 434.6h.01M184.3 424.6h.01M161.0 406.5h.01M160.8 432.7h.01M162.2 412.1h.01M178.0 446.9h.01M146.8 415.4h.01M157.3 407.3h.01M161.2 405.0h.01M165.7 411.0h.01M168.0 481.1h.01M150.2 405.1h.01M151.2 463.5h.01M182.1 417.7h.01M186.0 423.6h.01M171.4 461.0h.01M179.3 439.7h.01M158.8 400.5h.01M162.7 479.1h.01M166.1 481.5h.01M167.2 447.9h.01M172.0 439.6h.01M174.2 432.9h.01M162.7 478.1h.01M161.0 445.5h.01M147.8 406.8h.01M166.1 386.4h.01M186.3 440.3h.01M173.7 479.2h.01M156.9 425.6h.01M148.1 438.0h.01M160.8 410.1h.01M154.2 420.2h.01M162.7 467.4h.01M183.5 434.7h.01M171.9 477.6h.01M160.0 476.9h.01M168.5 391.4h.01M150.9 459.5h.01M161.1 443.0h.01M170.6 424.4h.01M170.6 477.0h.01M158.2 427.4h.01M166.2 427.4h.01M179.0 462.8h.01M171.7 388.7h.01M164.4 414.6h.01M165.0 472.5h.01M161.6 455.0h.01M175.3 460.2h.01M174.1 420.1h.01M162.5 443.4h.01M164.3 390.1h.01M172.2 412.2h.01M168.9 417.7h.01M184.5 430.0h.01M153.3 462.5h.01M166.1 444.5h.01M159.2 418.4h.01M156.8 388.1h.01M160.1 457.7h.01M145.3 442.4h.01M164.5 420.5h.01M180.6 462.9h.01M179.5 462.5h.01M183.8 415.4h.01M169.6 413.8h.01M177.0 432.5h.01M152.1 443.8h.01M176.0 425.1h.01M182.1 430.9h.01M149.1 416.5h.01M165.6 430.5h.01M147.0 440.4h.01M162.1 459.6h.01M177.4 448.4h.01M182.7 428.3h.01M157.5 390.5h.01M162.7 457.1h.01M144.0 411.9h.01M152.1 409.5h.01M181.5 453.3h.01M156.3 434.7h.01M176.4 450.0h.01M182.6 424.5h.01M187.7 446.6h.01M170.3 479.7h.01M171.1 435.4h.01M185.7 435.1h.01M161.2 400.3h.01M150.5 422.6h.01M165.6 448.6h.01M149.3 405.5h.01M160.7 390.9h.01M170.8 467.2h.01M186.2 446.3h.01M171.0 464.8h.01M168.6 434.9h.01M184.8 447.3h.01M166.9 385.5h.01M186.3 429.5h.01M175.1 440.3h.01M148.2 430.6h.01M165.5 414.0h.01M176.3 466.9h.01M143.4 422.4h.01M153.9 435.9h.01M160.5 455.0h.01M161.7 399.9h.01M161.8 461.2h.01M160.6 398.3h.01M162.8 395.6h.01M170.8 428.5h.01M155.2 410.3h.01M179.0 422.2h.01M144.1 416.5h.01M162.1 473.6h.01M158.9 443.0h.01M166.0 433.3h.01M149.2 406.3h.01M159.7 412.3h.01M153.3 403.7h.01M171.7 419.7h.01M159.1 403.4h.01M157.1 396.5h.01M169.9 411.1h.01M175.5 422.9h.01M171.6 436.0h.01M169.4 451.6h.01M143.5 414.4h.01M162.3 399.4h.01M162.9 402.9h.01M176.9 452.8h.01M180.9 436.1h.01M171.9 473.6h.01M162.7 477.8h.01M156.6 425.0h.01M164.1 455.3h.01M171.0 386.6h.01M160.8 465.8h.01M163.8 416.4h.01M154.6 458.1h.01M156.2 431.8h.01M182.8 463.3h.01M169.8 412.3h.01M162.0 422.3h.01M183.3 459.5h.01M163.7 458.2h.01M151.8 435.2h.01M159.2 425.0h.01M170.5 389.1h.01M159.6 473.9h.01M146.7 417.9h.01M187.5 432.0h.01M170.4 388.1h.01M149.5 410.6h.01M160.2 422.9h.01M172.7 440.7h.01M150.9 426.4h.01M167.5 432.0h.01M160.7 469.9h.01M163.4 399.1h.01M161.5 392.3h.01M157.4 409.5h.01M188.9 429.6h.01M157.9 462.7h.01M172.5 479.2h.01M161.7 470.4h.01M150.5 437.8h.01M167.4 428.6h.01M171.4 477.1h.01M156.8 417.9h.01M156.7 446.4h.01M151.3 435.4h.01M154.0 395.5h.01M175.2 398.0h.01M159.7 426.7h.01M177.0 423.5h.01M146.7 424.1h.01M175.4 443.6h.01M143.7 425.6h.01M159.7 462.1h.01M146.1 406.9h.01M179.8 458.1h.01M149.5 417.1h.01M162.9 432.5h.01M159.3 388.3h.01M161.4 437.9h.01M181.5 424.7h.01M152.5 463.2h.01M164.5 415.0h.01M167.6 393.9h.01M154.2 423.0h.01M151.8 457.7h.01M165.7 445.3h.01M163.4 405.4h.01M161.4 431.8h.01M144.1 425.7h.01M153.8 452.2h.01M188.0 426.8h.01M145.6 440.7h.01M171.2 425.1h.01M169.8 466.7h.01M154.0 419.9h.01M156.2 463.8h.01M179.9 425.1h.01M171.9 439.6h.01M167.8 407.8h.01M147.5 411.0h.01M169.8 389.0h.01M184.1 428.8h.01M182.6 468.8h.01M166.5 449.2h.01M153.1 412.8h.01M161.8 459.6h.01M156.7 387.4h.01M162.2 394.4h.01M154.2 391.4h.01M165.9 434.3h.01M153.7 454.5h.01M155.2 403.7h.01M162.8 426.8h.01M159.6 438.8h.01M186.5 440.5h.01M148.5 433.6h.01M168.5 433.4h.01M154.9 421.7h.01M158.3 442.0h.01M190.5 427.9h.01M159.6 390.6h.01M149.3 408.5h.01M169.4 446.9h.01M161.3 465.4h.01M183.6 435.3h.01M166.1 451.0h.01M161.0 449.8h.01M160.5 447.2h.01M174.1 416.3h.01M188.7 437.9h.01M168.4 415.6h.01M155.4 410.3h.01M182.7 449.0h.01M167.6 445.5h.01M144.3 424.6h.01M163.2 477.8h.01M169.9 438.5h.01M163.5 449.9h.01M186.6 429.9h.01M164.4 435.5h.01M170.2 463.5h.01M180.0 418.6h.01M150.3 458.4h.01M168.2 409.3h.01M154.6 398.0h.01M170.8 437.9h.01M147.0 438.3h.01M174.2 426.3h.01M149.1 445.9h.01M188.3 444.5h.01M179.3 472.7h.01M151.2 428.5h.01M184.3 451.4h.01M162.1 477.3h.01M171.1 435.5h.01M171.1 439.2h.01M181.0 461.0h.01M165.7 460.6h.01M153.0 420.3h.01M157.5 425.3h.01M153.1 463.8h.01M173.0 459.2h.01M162.2 385.9h.01M159.6 411.6h.01M161.1 415.5h.01M159.2 469.5h.01M144.4 417.4h.01M169.6 413.6h.01M174.4 457.7h.01M159.8 452.8h.01M157.1 426.6h.01M168.9 433.4h.01M174.4 437.9h.01M182.0 437.6h.01M156.1 465.4h.01M162.5 415.4h.01M158.9 472.2h.01M175.4 460.0h.01M173.5 467.5h.01M144.3 434.9h.01M176.9 413.0h.01M163.2 400.0h.01M174.1 463.0h.01M164.6 470.1h.01M169.6 457.1h.01M157.6 424.3h.01M161.3 475.5h.01M154.7 458.6h.01M175.9 476.5h.01M183.7 440.7h.01M184.9 449.7h.01M158.8 387.3h.01M171.7 476.2h.01M156.5 471.1h.01M175.0 442.0h.01M169.9 436.4h.01M165.4 470.3h.01M165.5 461.6h.01M149.5 423.9h.01M174.7 469.4h.01M179.1 423.3h.01M184.4 447.3h.01M181.6 445.2h.01M166.8 436.9h.01M164.6 435.6h.01M169.8 420.7h.01M165.6 453.6h.01M171.0 451.6h.01M155.9 409.9h.01M161.3 390.1h.01M173.0 392.4h.01M171.5 448.6h.01M163.3 458.6h.01M149.6 433.8h.01M167.4 427.0h.01M173.0 421.2h.01M171.1 409.4h.01M159.0 401.6h.01M178.3 474.4h.01M189.3 423.5h.01M178.3 448.2h.01M145.4 427.0h.01M164.8 462.3h.01M159.5 437.4h.01M144.3 436.9h.01M185.4 429.1h.01M163.7 477.6h.01M184.8 457.9h.01M155.4 391.9h.01M184.4 436.1h.01M170.9 420.3h.01M173.4 409.6h.01M179.9 445.0h.01M181.9 425.3h.01M173.4 414.2h.01M144.2 411.5h.01M162.2 403.8h.01M165.1 427.0h.01M164.7 443.9h.01M158.1 430.9h.01M153.4 459.9h.01M175.6 466.4h.01M171.7 429.0h.01M168.3 403.0h.01M169.0 428.2h.01M182.3 428.1h.01M169.0 452.6h.01M171.4 429.6h.01M169.9 479.5h.01M157.6 412.8h.01M173.2 452.2h.01M176.9 444.6h.01M166.6 468.1h.01M153.1 414.9h.01M162.2 446.6h.01M186.8 447.5h.01M169.3 395.1h.01M172.0 467.7h.01M154.6 439.5h.01M175.6 437.3h.01M161.5 470.8h.01M160.3 426.0h.01M179.4 444.2h.01M185.3 450.3h.01M166.9 387.2h.01M160.2 471.0h.01M168.8 451.8h.01M176.6 476.0h.01M151.6 417.2h.01M160.6 462.4h.01M171.3 402.1h.01M183.0 437.0h.01M179.4 433.6h.01M171.2 388.3h.01M157.2 395.6h.01M147.8 406.4h.01M145.7 412.3h.01M162.1 427.9h.01M174.9 435.8h.01M164.5 480.7h.01M154.8 393.1h.01M168.1 441.9h.01M167.7 402.7h.01M185.6 448.2h.01M172.7 398.4h.01M180.4 456.0h.01M185.1 415.4h.01M174.4 413.9h.01M171.2 451.5h.01M181.3 442.4h.01M162.4 458.8h.01M169.0 448.4h.01M185.7 416.4h.01M180.5 421.1h.01M177.0 431.9h.01M171.9 413.1h.01M150.1 403.4h.01M165.6 407.1h.01M178.1 450.4h.01M145.4 440.4h.01M162.1 470.4h.01M170.7 389.6h.01M166.4 451.2h.01M172.5 475.9h.01M156.8 473.5h.01M148.5 434.7h.01M168.9 430.8h.01M166.1 468.8h.01M161.9 418.6h.01M184.3 454.0h.01M188.0 420.2h.01M169.2 418.7h.01M179.9 435.5h.01M168.7 455.0h.01M150.9 454.7h.01M157.0 446.8h.01M163.9 450.6h.01M173.4 439.3h.01M158.2 415.7h.01M155.5 460.4h.01M161.6 395.2h.01M162.1 415.7h.01M160.1 419.5h.01M168.0 386.8h.01M188.1 424.2h.01M157.7 414.8h.01M146.0 419.7h.01M154.1 431.1h.01M150.7 442.2h.01M162.8 428.1h.01M175.2 462.1h.01M187.8 443.9h.01M173.8 411.6h.01M174.4 455.9h.01M186.0 448.8h.01M150.9 456.0h.01M153.0 466.3h.01M183.1 458.9h.01M183.3 462.7h.01M181.3 463.2h.01M165.4 479.0h.01M160.9 459.6h.01M174.5 412.4h.01M179.2 433.0h.01M176.0 429.6h.01M169.0 389.5h.01M158.9 465.3h.01M163.9 400.7h.01M166.6 394.4h.01M147.8 409.6h.01M142.7 429.0h.01M181.6 459.0h.01M177.2 466.6h.01M170.2 448.9h.01M152.7 450.8h.01M162.2 403.3h.01M162.3 447.8h.01M177.5 412.0h.01M143.0 422.1h.01M186.8 434.7h.01M176.3 435.8h.01M171.4 397.8h.01M172.8 464.2h.01M164.5 478.8h.01M161.8 407.3h.01M156.6 406.4h.01M179.0 442.7h.01M167.0 404.6h.01M177.7 472.6h.01M176.5 421.1h.01M166.8 410.7h.01M152.7 410.9h.01M147.7 443.1h.01M155.0 423.7h.01M170.7 475.2h.01M150.7 417.2h.01M160.1 436.8h.01M171.4 388.4h.01M187.9 429.5h.01M160.6 425.3h.01M167.1 432.8h.01M168.0 413.5h.01M168.9 457.0h.01M165.8 460.2h.01M180.0 424.4h.01M170.9 460.1h.01M159.0 460.1h.01M184.8 425.5h.01M145.2 410.7h.01M173.9 471.3h.01M174.9 452.3h.01M171.8 423.8h.01M180.1 466.2h.01M172.0 443.5h.01M160.5 451.5h.01M162.6 421.3h.01M167.5 434.6h.01M162.5 447.0h.01M175.2 457.4h.01M187.9 444.8h.01M165.5 442.8h.01M158.3 466.1h.01M163.7 439.4h.01M165.3 421.0h.01M160.5 399.4h.01M159.4 459.2h.01M173.9 398.2h.01M147.2 440.8h.01M186.2 437.8h.01M158.1 408.8h.01M174.6 439.0h.01M171.2 434.9h.01M170.0 456.4h.01M159.0 422.9h.01M168.4 429.7h.01M174.9 424.1h.01M167.6 432.9h.01M161.8 462.4h.01M168.9 453.3h.01M155.1 469.8h.01M188.9 436.1h.01M173.0 444.8h.01M183.6 425.3h.01M184.0 455.6h.01M162.2 469.9h.01M165.3 424.8h.01M146.4 443.0h.01M147.6 432.0h.01M161.4 412.1h.01M174.6 397.2h.01M172.5 464.3h.01M163.6 387.7h.01M154.8 445.8h.01M158.8 454.6h.01M143.5 430.6h.01M158.0 393.3h.01M148.0 450.0h.01M159.6 426.7h.01M157.8 412.2h.01M165.5 396.9h.01M176.5 445.6h.01M185.7 454.6h.01M165.9 389.7h.01M157.0 408.9h.01M173.6 460.6h.01M162.5 443.7h.01M179.9 458.0h.01M184.6 424.4h.01M171.1 386.9h.01M183.2 418.3h.01M177.4 412.7h.01M151.8 422.4h.01M181.3 432.0h.01M161.4 474.7h.01M144.7 419.0h.01M154.0 470.5h.01M162.3 418.5h.01M178.2 443.0h.01M158.5 423.2h.01M161.9 479.4h.01M149.3 429.2h.01M164.6 470.1h.01M174.9 462.5h.01M164.1 413.2h.01M144.9 407.8h.01M176.7 435.0h.01M179.2 440.8h.01M168.2 411.3h.01M161.6 395.5h.01M165.0 446.9h.01M160.8 427.4h.01M182.6 461.3h.01M155.2 443.8h.01M161.9 392.4h.01M159.5 392.4h.01M174.2 462.4h.01M146.2 423.6h.01M185.0 443.3h.01M171.2 479.0h.01M152.4 460.0h.01M156.9 460.7h.01M162.8 435.3h.01M176.7 435.4h.01M185.8 428.4h.01M150.8 422.4h.01M172.9 421.6h.01M165.2 403.0h.01M170.9 386.8h.01M146.5 427.8h.01M157.7 412.8h.01M146.4 430.7h.01M157.5 455.7h.01M148.0 432.3h.01M149.7 416.1h.01M173.2 389.1h.01M150.0 457.6h.01M164.2 452.3h.01M175.5 448.7h.01M163.3 384.6h.01M165.3 392.4h.01M148.6 420.2h.01M149.0 451.0h.01M153.3 466.3h.01M163.0 477.3h.01M168.2 455.9h.01M167.7 423.5h.01M183.5 427.0h.01M156.7 433.6h.01M167.3 423.9h.01M159.8 464.7h.01M151.3 412.2h.01M155.2 426.5h.01M163.6 445.6h.01M162.7 478.7h.01M171.9 409.0h.01M157.8 427.3h.01M172.2 414.1h.01M167.8 452.3h.01M162.7 461.5h.01M163.0 438.2h.01M168.5 395.3h.01M160.6 424.5h.01M154.8 398.4h.01M154.7 424.9h.01M143.4 423.2h.01M158.9 434.0h.01M172.6 418.8h.01M161.2 388.4h.01M170.3 400.9h.01M153.1 431.3h.01M173.8 431.3h.01M168.3 444.3h.01M152.4 400.7h.01M176.3 441.9h.01M161.7 454.9h.01M149.1 424.6h.01M143.0 420.0h.01M175.5 433.3h.01M170.7 439.8h.01M163.8 446.3h.01M153.9 443.3h.01M145.5 411.3h.01M166.9 472.4h.01M172.7 467.9h.01M160.4 454.6h.01M149.9 421.5h.01M153.4 468.1h.01M171.2 456.3h.01M178.6 468.9h.01M169.9 450.6h.01M156.1 462.9h.01M159.1 412.5h.01M159.0 465.5h.01M160.2 388.0h.01M171.7 450.9h.01M178.8 445.7h.01M166.3 482.0h.01M184.9 440.6h.01M153.0 459.1h.01M156.8 397.2h.01M150.4 428.4h.01M172.8 394.5h.01M149.1 429.4h.01M162.5 414.1h.01M153.9 421.2h.01M176.0 420.8h.01M170.2 418.7h.01M171.2 389.8h.01M180.7 449.7h.01M158.1 456.3h.01M156.9 431.3h.01M164.3 440.1h.01M157.6 453.8h.01M147.1 429.4h.01M164.1 419.1h.01M167.6 413.5h.01M150.2 445.0h.01M162.3 468.8h.01M154.4 420.3h.01M155.1 416.7h.01M153.7 407.5h.01M181.8 428.6h.01M170.0 449.5h.01M180.3 422.7h.01M144.1 427.1h.01M177.5 418.1h.01M177.6 447.2h.01M170.6 453.3h.01M151.1 444.5h.01M167.0 437.5h.01M173.4 463.3h.01M160.7 440.3h.01M155.6 393.7h.01M168.1 395.1h.01M170.5 421.2h.01M151.8 442.6h.01M148.0 419.9h.01M159.7 434.7h.01M147.2 447.1h.01M150.3 451.1h.01M150.2 441.3h.01M158.0 399.4h.01M161.8 405.7h.01M168.0 457.0h.01M157.5 410.0h.01M163.6 412.7h.01M169.5 427.8h.01M172.2 478.6h.01M178.7 472.0h.01M171.0 478.0h.01M175.5 442.0h.01M182.6 438.3h.01M160.6 461.2h.01M174.6 463.6h.01M156.3 415.3h.01M158.3 465.4h.01M188.2 441.3h.01M173.5 458.7h.01M155.3 458.6h.01M181.3 441.1h.01M165.2 421.2h.01M173.2 442.2h.01M184.2 448.2h.01M170.4 468.0h.01M171.3 452.5h.01M161.9 398.6h.01M177.5 456.1h.01M181.8 415.9h.01M158.7 389.1h.01M166.7 475.6h.01M182.5 431.6h.01M187.6 442.2h.01M150.4 423.1h.01M182.6 444.8h.01M150.9 404.6h.01M175.5 436.3h.01M153.7 405.0h.01M180.7 464.1h.01M173.2 466.0h.01M179.9 426.2h.01M172.6 478.2h.01M168.1 433.4h.01M174.3 424.3h.01M149.3 457.0h.01M188.2 431.7h.01M169.5 469.9h.01M159.1 420.9h.01M166.3 429.7h.01M167.9 417.8h.01M162.5 419.5h.01M149.7 444.5h.01M162.2 475.5h.01M151.6 419.4h.01M188.1 432.9h.01M160.4 440.6h.01M163.0 466.8h.01M159.0 473.2h.01M162.3 391.4h.01M157.7 455.3h.01M152.6 439.8h.01M147.5 427.3h.01M174.6 391.5h.01M163.7 451.4h.01M143.1 428.0h.01M169.0 481.3h.01M168.1 471.2h.01M167.6 398.6h.01M156.0 393.0h.01M145.9 427.5h.01M177.1 453.9h.01M166.8 413.0h.01M178.6 458.9h.01M158.4 409.8h.01M166.9 469.2h.01M177.0 450.1h.01M153.8 413.5h.01M179.7 453.4h.01M143.6 436.2h.01M173.5 411.3h.01M169.2 386.5h.01M178.5 441.8h.01M163.4 399.7h.01M148.7 421.5h.01M160.9 418.4h.01M154.4 429.6h.01M157.5 450.6h.01M161.1 386.1h.01M162.1 430.1h.01M157.3 439.4h.01M178.0 429.7h.01M170.9 474.3h.01M147.5 438.8h.01M182.5 443.6h.01M179.8 423.8h.01M152.8 453.9h.01M153.1 455.0h.01M169.2 480.5h.01M165.4 435.9h.01M159.1 471.7h.01M158.2 400.3h.01M161.7 406.8h.01M164.7 447.9h.01M163.8 439.8h.01M160.4 453.4h.01M162.1 411.6h.01M163.1 434.3h.01M159.9 438.8h.01M150.9 460.7h.01M180.1 432.6h.01M154.1 396.5h.01M162.2 407.7h.01M184.2 426.4h.01M168.6 393.3h.01M177.8 419.4h.01M175.1 428.6h.01M163.2 404.8h.01M163.9 452.1h.01M161.5 417.2h.01M156.9 421.0h.01M158.1 417.7h.01M155.6 405.9h.01M150.9 460.8h.01M181.4 470.3h.01M155.2 422.6h.01M164.8 412.1h.01M156.3 433.5h.01M148.2 435.1h.01M160.7 386.0h.01M170.5 445.7h.01M185.6 447.6h.01M152.9 415.4h.01M156.0 455.3h.01M169.2 425.8h.01M181.3 458.5h.01M162.1 400.4h.01M151.6 420.9h.01M158.5 405.3h.01M144.4 440.4h.01M164.6 438.7h.01M161.1 418.3h.01M177.1 414.2h.01M153.5 443.6h.01M152.8 435.1h.01M147.6 451.2h.01M174.1 390.7h.01M157.7 414.4h.01M175.9 418.4h.01M183.6 440.4h.01M145.4 420.7h.01M150.7 462.4h.01M154.7 472.0h.01M184.0 463.9h.01M182.5 457.6h.01M160.8 472.1h.01M153.6 469.9h.01M160.5 477.4h.01M169.0 420.0h.01M151.3 442.5h.01M183.0 448.5h.01M174.5 473.2h.01M155.5 400.6h.01M177.3 455.0h.01M160.9 423.6h.01M160.6 450.3h.01M154.4 393.4h.01M151.2 460.5h.01M152.3 451.4h.01M156.0 450.1h.01M152.2 467.1h.01M154.1 440.5h.01M153.8 395.0h.01M162.0 386.9h.01M172.0 463.4h.01M159.9 450.7h.01M145.0 430.2h.01M183.8 441.4h.01M159.7 411.3h.01M174.7 469.4h.01M161.8 479.2h.01M153.0 452.4h.01M171.5 456.4h.01M172.7 468.6h.01M143.9 434.4h.01M154.9 452.2h.01M171.9 476.7h.01M183.9 464.7h.01M151.9 429.0h.01M160.0 447.2h.01M173.2 454.4h.01M147.0 412.0h.01M173.1 478.2h.01M166.6 422.4h.01M171.5 475.9h.01M179.7 435.6h.01M163.9 465.2h.01M189.3 424.6h.01M180.8 463.7h.01M178.4 417.8h.01M176.0 454.1h.01M176.7 442.8h.01M162.1 438.3h.01M188.7 438.6h.01M162.6 387.9h.01M144.9 408.1h.01M165.5 419.6h.01M154.5 464.2h.01M180.8 434.3h.01M174.8 420.9h.01M161.4 388.3h.01M171.0 455.6h.01M183.9 438.6h.01M149.8 407.8h.01M172.5 392.4h.01M153.3 439.8h.01M158.1 401.3h.01M188.9 427.1h.01M156.4 389.8h.01M174.1 435.5h.01M162.7 387.0h.01M167.8 482.3h.01M147.5 404.9h.01M149.2 441.1h.01M178.9 435.5h.01M154.8 436.1h.01M160.7 427.8h.01M173.8 460.9h.01M180.8 432.6h.01M173.9 463.4h.01M161.5 441.4h.01M159.0 390.9h.01M164.0 434.5h.01M166.2 460.5h.01M155.4 403.1h.01M166.1 426.9h.01M172.0 476.2h.01M188.6 436.3h.01M156.8 390.3h.01M154.9 407.9h.01M162.3 437.0h.01M172.2 433.4h.01M176.9 445.4h.01M151.9 407.7h.01M185.6 451.7h.01M159.1 457.4h.01M168.1 472.2h.01M167.0 480.8h.01M155.4 423.9h.01M190.1 435.4h.01M151.1 460.2h.01M150.6 456.9h.01M184.5 445.8h.01M167.8 437.5h.01M151.9 415.5h.01M143.3 433.6h.01M161.5 460.2h.01M158.0 469.7h.01M179.8 469.4h.01M178.0 433.8h.01M162.7 429.6h.01M163.5 457.4h.01M145.8 442.6h.01M163.4 431.4h.01M164.5 429.0h.01M154.8 411.9h.01M172.8 424.0h.01M145.3 407.3h.01M158.8 431.1h.01M158.6 425.4h.01M158.0 392.3h.01M173.8 464.5h.01M155.0 441.5h.01M181.2 448.0h.01M186.5 436.1h.01M155.4 415.5h.01M169.6 404.5h.01M145.4 430.7h.01M166.0 434.6h.01M155.4 399.3h.01M151.2 457.2h.01M171.6 412.9h.01M185.3 437.5h.01M185.1 458.3h.01M153.4 412.8h.01M171.3 424.3h.01M143.2 423.2h.01M161.9 419.4h.01M181.9 423.0h.01M163.7 402.5h.01M144.5 413.2h.01M176.3 472.3h.01M174.6 452.1h.01M178.2 426.7h.01M180.8 448.8h.01M153.1 445.2h.01M177.5 424.2h.01M153.6 468.8h.01M176.4 440.3h.01M170.3 454.7h.01M184.2 462.6h.01M159.0 450.0h.01M176.2 446.9h.01M155.3 429.4h.01M162.3 470.7h.01M166.9 467.5h.01M175.2 437.2h.01M183.8 448.9h.01M175.2 411.0h.01M170.6 409.9h.01M178.3 455.9h.01M162.0 422.9h.01M178.6 424.5h.01M159.5 421.2h.01M148.0 442.1h.01M159.8 403.4h.01M167.3 480.7h.01M159.0 409.6h.01M168.4 408.9h.01M167.5 431.7h.01M182.0 468.9h.01M168.4 410.4h.01M166.7 436.1h.01M158.9 457.4h.01M146.6 419.2h.01M175.0 422.7h.01M158.8 455.1h.01M165.6 441.8h.01M166.4 392.3h.01M150.2 422.3h.01M144.1 412.9h.01M173.5 435.0h.01M161.9 403.8h.01M144.7 416.3h.01M143.2 416.9h.01M172.7 435.7h.01M166.6 397.3h.01M173.4 413.5h.01M179.7 426.1h.01M184.6 444.7h.01M158.0 472.0h.01M165.7 434.0h.01M168.3 460.7h.01M156.9 409.3h.01M154.4 434.5h.01M155.7 450.6h.01M154.4 396.0h.01M155.0 435.8h.01M161.5 468.4h.01M164.5 475.2h.01M175.5 447.1h.01M152.2 403.5h.01M182.1 423.7h.01M151.1 439.1h.01M171.7 401.9h.01M144.6 430.9h.01M155.0 445.8h.01M148.5 408.0h.01M168.2 453.8h.01M151.9 429.4h.01M175.8 393.6h.01M167.6 399.0h.01M156.8 446.1h.01M183.8 441.3h.01M173.3 462.7h.01M175.4 459.4h.01M154.7 472.2h.01M155.9 406.0h.01M166.2 438.0h.01M167.9 436.8h.01M153.5 441.9h.01M168.0 404.0h.01M183.7 414.9h.01M186.2 430.9h.01M168.4 406.0h.01M183.1 443.0h.01M165.2 480.4h.01M163.2 411.2h.01M158.0 443.7h.01M155.0 408.6h.01M170.1 467.2h.01M162.8 413.9h.01M171.5 430.4h.01M168.7 440.8h.01M171.4 470.3h.01M149.6 414.6h.01M173.6 429.1h.01M149.5 440.3h.01M160.2 444.4h.01M175.6 475.0h.01M168.5 443.2h.01M184.8 444.9h.01M166.7 435.8h.01M156.3 432.2h.01M173.1 442.7h.01M163.0 439.4h.01M152.6 423.5h.01M170.1 451.1h.01M145.2 413.2h.01M170.8 388.2h.01M170.1 481.5h.01M171.9 392.2h.01M169.3 413.4h.01M178.6 433.5h.01M155.1 388.6h.01M153.4 406.3h.01M160.3 392.5h.01M167.6 391.5h.01M159.9 453.6h.01M177.3 428.2h.01M162.6 453.7h.01M154.3 404.4h.01M172.3 470.6h.01M156.9 401.5h.01M157.2 443.2h.01M177.8 424.7h.01M149.2 414.9h.01M164.2 451.4h.01M177.3 452.9h.01M161.1 418.2h.01M174.3 436.0h.01M148.7 453.7h.01M152.9 447.1h.01M167.6 468.8h.01M168.8 466.5h.01M173.4 414.9h.01M161.9 394.4h.01M168.6 429.9h.01M156.4 387.9h.01M166.7 465.2h.01M172.7 410.9h.01M182.0 423.0h.01M173.7 395.6h.01M166.8 450.7h.01M176.4 456.8h.01M154.7 405.0h.01M153.7 459.8h.01M158.6 472.7h.01M178.9 411.9h.01M160.0 458.0h.01M154.9 418.8h.01M163.5 432.5h.01M159.6 438.6h.01M162.4 467.2h.01M169.3 419.1h.01M159.9 467.0h.01M170.8 414.5h.01M160.0 390.6h.01M146.7 436.1h.01M161.1 435.4h.01M170.1 445.0h.01M165.2 389.8h.01M151.8 424.0h.01M172.6 421.7h.01M163.3 420.4h.01M156.2 405.0h.01M150.9 455.0h.01M165.9 457.5h.01M144.2 433.9h.01M162.5 444.4h.01M162.7 398.4h.01M159.1 408.5h.01M162.5 416.6h.01M163.4 425.7h.01M143.8 428.6h.01M183.0 444.2h.01M178.8 460.3h.01M186.9 419.4h.01M172.9 437.7h.01M161.2 428.1h.01M173.7 450.9h.01M166.3 389.0h.01M157.7 415.4h.01M163.5 396.0h.01M155.6 460.3h.01M152.1 444.8h.01M183.8 418.9h.01M158.6 388.4h.01M177.3 457.5h.01M182.0 431.2h.01M168.0 430.1h.01M184.7 419.3h.01M174.2 434.8h.01M164.7 479.7h.01M176.5 462.2h.01M145.5 427.2h.01M145.1 410.9h.01M175.7 451.7h.01M146.4 445.6h.01M164.5 480.2h.01M167.8 477.9h.01M171.6 442.5h.01M169.9 472.6h.01M166.8 452.2h.01M165.1 413.6h.01M151.4 453.6h.01M166.5 425.0h.01M147.3 406.7h.01M158.6 407.0h.01M146.0 429.0h.01M157.1 472.5h.01M160.4 396.3h.01M156.3 435.4h.01M172.9 427.0h.01M181.4 456.7h.01M156.0 406.3h.01M170.0 458.3h.01M150.5 423.3h.01M157.6 443.5h.01M161.8 411.6h.01M155.8 463.5h.01M176.3 458.5h.01M172.7 423.6h.01M160.0 403.0h.01M147.7 445.7h.01M175.0 398.0h.01M170.1 397.1h.01M157.7 460.5h.01M150.1 434.7h.01M186.6 436.1h.01M150.8 414.7h.01M162.2 447.1h.01M154.8 418.4h.01M175.9 450.6h.01M149.5 448.6h.01M162.5 401.2h.01M143.9 430.6h.01M149.2 434.9h.01M159.0 396.2h.01M168.4 389.9h.01M163.1 395.3h.01M176.3 457.3h.01M147.4 446.0h.01M176.3 439.2h.01M158.3 470.8h.01M171.4 429.3h.01M172.1 448.2h.01M176.9 473.3h.01M180.1 440.3h.01M164.6 445.9h.01M163.1 425.3h.01M157.9 466.0h.01M164.6 435.5h.01M159.6 464.6h.01M167.9 465.8h.01M162.1 400.7h.01M165.5 414.9h.01M157.4 465.4h.01M154.5 458.5h.01M155.8 438.3h.01M159.8 477.0h.01M164.9 437.8h.01M185.0 435.6h.01M181.6 456.0h.01M162.6 459.0h.01M161.5 465.3h.01M152.5 423.7h.01M169.6 417.2h.01M159.5 472.5h.01M144.6 416.8h.01M158.7 420.6h.01M155.2 422.4h.01M148.5 451.3h.01M175.9 439.9h.01M182.1 430.6h.01M146.2 419.9h.01M146.3 427.5h.01M175.4 462.2h.01M161.7 472.1h.01M161.9 412.8h.01M168.1 467.6h.01M145.7 413.0h.01M166.0 433.3h.01M153.4 432.5h.01M175.2 433.6h.01M175.6 394.4h.01M159.5 389.6h.01M146.2 428.8h.01M154.7 426.9h.01M165.5 409.0h.01M180.8 431.1h.01M172.3 437.2h.01M158.2 387.5h.01M154.6 390.8h.01M178.4 468.5h.01M164.6 474.5h.01M163.2 440.5h.01M159.8 460.8h.01M173.0 394.9h.01M154.7 455.5h.01M160.8 470.0h.01M154.3 428.8h.01M174.5 416.2h.01M165.1 388.9h.01M157.2 451.0h.01M174.3 440.6h.01M166.1 444.1h.01M180.3 429.4h.01M151.5 425.0h.01M167.8 451.3h.01M171.6 422.9h.01M158.8 470.7h.01M171.9 456.9h.01M165.5 454.3h.01M162.1 436.2h.01M164.0 392.5h.01M185.7 442.9h.01M155.6 462.9h.01M152.4 448.3h.01M182.0 465.3h.01M176.7 441.9h.01M145.5 414.3h.01M156.8 440.3h.01M173.7 473.5h.01M146.2 429.5h.01M184.1 431.7h.01M148.6 425.5h.01M156.9 397.7h.01M160.6 470.5h.01M173.1 444.9h.01M165.6 457.4h.01M161.2 407.0h.01M167.0 436.6h.01M156.4 463.8h.01M160.3 452.1h.01M145.8 428.3h.01M157.9 403.4h.01M159.4 446.3h.01M161.3 476.3h.01M153.3 464.8h.01M156.1 393.9h.01M166.5 444.5h.01M169.4 450.6h.01M151.1 415.5h.01M154.7 445.3h.01M180.5 457.7h.01M182.7 454.4h.01M183.1 450.4h.01M162.6 470.0h.01M173.7 411.0h.01M178.5 471.2h.01M186.8 436.3h.01M165.3 468.9h.01M160.4 463.7h.01M151.5 406.5h.01M181.8 435.7h.01M160.8 414.6h.01M186.0 416.7h.01M172.1 475.2h.01M177.6 474.3h.01M160.2 476.5h.01M172.7 446.6h.01M149.5 459.7h.01M163.8 399.0h.01M149.0 406.7h.01M166.0 394.7h.01M151.9 460.9h.01M180.7 466.0h.01M172.6 445.1h.01M151.0 462.2h.01M182.0 442.6h.01M168.5 390.3h.01M144.4 418.9h.01M155.4 430.1h.01M183.7 447.8h.01M170.5 409.3h.01M148.7 439.3h.01M168.0 455.1h.01M153.2 429.5h.01M151.3 451.1h.01M174.4 412.2h.01M177.8 428.1h.01M173.2 440.0h.01M167.2 403.8h.01M168.8 481.7h.01M178.2 445.7h.01M157.0 444.3h.01M183.5 453.5h.01M177.6 447.1h.01M168.4 403.3h.01M169.8 400.9h.01M151.4 437.4h.01M150.5 431.1h.01M171.0 408.7h.01M187.0 432.1h.01M151.1 442.7h.01M157.8 469.7h.01M183.6 456.0h.01M166.1 479.5h.01M154.5 468.4h.01M179.4 449.8h.01M173.5 463.4h.01M167.4 404.0h.01M186.1 441.3h.01M153.0 461.5h.01M173.3 451.6h.01M161.6 413.4h.01M160.6 450.1h.01M172.9 420.7h.01M151.3 418.9h.01M169.2 394.7h.01M159.1 424.6h.01M146.8 436.1h.01M168.0 431.5h.01M171.3 423.1h.01M153.8 470.4h.01M185.7 454.6h.01M185.3 436.1h.01M156.8 401.1h.01M163.8 434.3h.01M183.8 425.4h.01M156.6 431.6h.01M159.1 411.4h.01M156.6 431.0h.01M148.2 425.7h.01M152.8 438.2h.01M167.5 466.3h.01M149.2 429.0h.01M147.3 442.6h.01M155.3 446.9h.01M170.6 411.0h.01M154.8 422.6h.01M167.3 459.1h.01M169.3 477.4h.01M184.8 447.3h.01M164.4 431.1h.01M149.5 429.3h.01M183.3 424.5h.01M161.2 479.0h.01M147.8 449.6h.01M174.2 471.0h.01M172.1 478.0h.01M178.8 418.7h.01M155.7 400.3h.01M154.4 402.2h.01M155.8 444.1h.01M157.6 437.0h.01M146.4 446.7h.01M166.0 451.1h.01M161.9 392.2h.01M189.1 431.7h.01M160.0 405.7h.01M148.4 420.9h.01M148.7 453.5h.01M155.8 461.1h.01M150.5 404.9h.01M147.5 417.2h.01M172.9 424.2h.01M188.1 426.0h.01M170.5 421.8h.01M144.8 410.4h.01M178.8 462.8h.01M179.9 457.7h.01M145.9 413.0h.01M168.3 477.4h.01M163.2 413.6h.01M176.3 435.8h.01M163.7 415.2h.01M156.0 407.0h.01M155.0 397.3h.01M166.7 399.9h.01M163.1 413.8h.01M149.8 430.3h.01M159.8 413.5h.01M163.2 403.2h.01M151.7 420.3h.01M158.8 459.4h.01M161.5 465.4h.01M152.3 445.1h.01M159.6 397.6h.01M170.5 415.6h.01M165.4 456.3h.01M157.1 442.7h.01M174.5 467.9h.01M187.8 437.5h.01M159.1 408.9h.01M148.7 404.1h.01M172.8 455.6h.01M151.1 410.2h.01M159.0 428.7h.01M169.9 439.1h.01M175.4 432.2h.01M164.5 431.5h.01M166.3 389.9h.01M178.4 415.6h.01M188.2 442.0h.01M185.0 427.6h.01M167.5 470.8h.01M156.8 409.3h.01M189.3 428.4h.01M151.9 449.1h.01M164.9 449.5h.01M151.5 430.7h.01M154.8 392.6h.01M157.2 423.0h.01M176.2 455.7h.01M169.6 436.7h.01M169.3 428.8h.01M158.2 450.6h.01M144.8 417.7h.01M153.1 438.9h.01M168.3 449.4h.01M160.3 424.3h.01M164.3 457.6h.01M151.9 456.2h.01M145.0 437.0h.01M176.8 428.4h.01M154.9 446.8h.01M181.1 418.0h.01M164.9 467.9h.01M166.4 431.5h.01M187.8 436.7h.01M165.8 425.3h.01M168.9 397.2h.01M176.7 466.6h.01M160.1 461.1h.01M156.9 427.7h.01M190.7 432.0h.01M171.5 468.4h.01M160.5 442.4h.01M157.8 396.4h.01M167.3 436.5h.01M148.2 425.2h.01M144.7 427.4h.01M161.8 474.6h.01M159.6 404.5h.01M165.7 447.2h.01M155.5 423.2h.01M155.5 447.0h.01M147.9 439.0h.01M171.9 463.6h.01M155.4 415.5h.01M174.2 391.2h.01M155.5 445.1h.01M168.5 468.3h.01M162.5 422.3h.01M189.6 438.7h.01M160.3 422.2h.01M149.4 440.0h.01M168.3 452.4h.01M160.7 391.8h.01M180.1 433.0h.01M171.9 460.3h.01M159.9 476.7h.01M179.4 467.6h.01M165.4 421.1h.01M184.5 442.7h.01M182.7 431.9h.01M173.3 463.8h.01M164.1 442.7h.01M161.3 477.0h.01M163.0 421.1h.01M158.4 416.8h.01M182.6 462.2h.01M159.9 426.0h.01M150.7 433.3h.01M165.1 468.0h.01M165.8 388.6h.01M176.1 411.6h.01M171.0 387.0h.01M187.3 444.6h.01M162.5 401.9h.01M147.4 435.4h.01M161.5 413.2h.01M170.6 425.5h.01M159.5 445.6h.01M147.5 453.1h.01M175.1 425.8h.01M150.4 447.9h.01M164.4 451.7h.01M150.2 444.2h.01M148.1 413.9h.01M183.2 440.1h.01M182.3 440.0h.01M163.5 402.3h.01M158.2 443.1h.01M147.3 412.8h.01M146.7 446.8h.01M160.0 427.8h.01M158.7 389.6h.01M174.8 413.1h.01M173.2 423.7h.01M170.5 427.2h.01M146.1 438.4h.01M165.7 410.7h.01M156.6 393.6h.01M181.1 462.5h.01M164.3 434.8h.01M156.3 418.8h.01M176.1 469.8h.01M156.3 455.3h.01M174.8 414.5h.01M173.6 460.0h.01M145.4 437.2h.01M162.8 394.0h.01M149.9 409.5h.01M177.3 474.1h.01M185.2 444.4h.01M173.9 445.8h.01M146.6 429.5h.01M171.2 452.4h.01M154.8 407.3h.01M158.8 476.6h.01M180.3 453.2h.01M147.2 412.3h.01M152.2 459.1h.01M158.9 433.0h.01M152.9 414.8h.01M181.2 469.8h.01M166.3 429.4h.01M165.9 476.4h.01M155.5 437.9h.01M185.6 451.4h.01M154.9 440.6h.01M168.3 471.4h.01M171.3 480.6h.01M180.1 416.4h.01M181.7 428.4h.01M159.0 468.5h.01M166.3 427.4h.01M149.5 454.9h.01M155.1 418.4h.01M150.3 414.0h.01M154.5 439.2h.01M164.8 466.1h.01M160.2 450.0h.01M177.3 423.8h.01M165.0 416.3h.01M164.4 481.0h.01M157.8 443.7h.01M156.7 433.6h.01M164.5 435.8h.01M146.5 414.3h.01M177.8 432.8h.01M161.0 429.5h.01M157.5 466.7h.01M171.2 392.1h.01M176.4 473.9h.01M154.5 469.2h.01M151.9 442.4h.01M177.5 429.4h.01M176.3 470.7h.01M175.9 472.9h.01M154.0 459.2h.01M162.8 391.9h.01M159.2 395.3h.01M165.9 471.1h.01M165.3 465.6h.01M164.8 447.2h.01M168.8 406.5h.01M160.0 443.5h.01M161.4 394.1h.01M175.2 412.7h.01M148.7 416.2h.01M164.7 449.6h.01M167.6 429.5h.01M147.8 428.3h.01M160.2 468.7h.01M187.6 438.3h.01M161.8 441.8h.01M176.5 473.4h.01M162.5 408.2h.01M145.7 425.2h.01M186.3 447.1h.01M165.0 419.9h.01M151.0 438.6h.01M164.1 426.5h.01M184.8 459.9h.01M169.0 467.7h.01M147.2 423.2h.01M177.9 452.2h.01M181.4 439.7h.01M147.9 413.0h.01M154.4 396.3h.01M154.8 468.7h.01M173.3 413.9h.01M165.9 419.7h.01M179.3 474.2h.01M165.1 475.7h.01M182.3 414.1h.01M153.1 409.5h.01M166.5 457.2h.01M174.0 396.9h.01M166.6 407.5h.01M171.5 400.7h.01M164.0 447.2h.01M185.4 425.8h.01M174.7 393.8h.01M168.6 457.5h.01M167.7 438.7h.01M179.0 427.5h.01M144.0 427.0h.01M189.1 425.8h.01M152.8 449.4h.01M157.2 413.3h.01M159.5 417.8h.01M166.8 412.3h.01M180.5 470.0h.01M189.1 430.3h.01M159.3 428.8h.01M148.8 431.4h.01M151.1 402.4h.01M171.3 437.0h.01M158.5 448.5h.01M154.5 449.8h.01M176.5 421.7h.01M183.0 413.4h.01M149.3 431.5h.01M158.2 400.2h.01M146.5 413.9h.01M151.9 447.7h.01M168.0 475.5h.01M171.6 422.6h.01M156.2 472.0h.01M181.8 438.6h.01M152.0 420.9h.01M177.3 419.8h.01M171.4 455.9h.01M160.6 471.9h.01M183.3 463.9h.01M155.8 390.5h.01M168.6 478.8h.01M157.8 430.7h.01M162.8 400.5h.01M182.0 441.8h.01M163.4 453.0h.01M149.7 431.9h.01M166.5 465.8h.01M179.5 462.5h.01M156.4 397.1h.01M183.5 416.2h.01M170.8 411.2h.01M182.3 428.1h.01M166.9 466.3h.01M150.4 411.8h.01M146.2 444.2h.01M154.1 430.7h.01M181.7 471.3h.01M176.3 435.5h.01M180.9 454.2h.01M147.4 436.1h.01M146.3 435.9h.01M150.9 433.0h.01M180.3 441.3h.01M170.0 440.7h.01M159.2 439.9h.01M165.5 396.7h.01M177.7 448.5h.01M182.4 437.9h.01M150.6 440.7h.01M149.5 407.1h.01M178.9 456.8h.01M153.1 435.5h.01M142.8 427.3h.01M144.5 439.5h.01M145.0 442.9h.01M167.5 419.3h.01M147.8 427.5h.01M155.8 441.1h.01M165.0 391.6h.01M152.9 416.6h.01M160.6 471.9h.01M158.8 432.8h.01M159.4 394.5h.01M159.3 476.6h.01M155.5 464.2h.01M148.7 426.2h.01M169.6 460.3h.01M144.6 422.7h.01M154.0 461.7h.01M177.2 414.4h.01M171.3 387.3h.01M155.7 387.4h.01M174.0 417.3h.01M174.9 396.1h.01M156.1 455.3h.01M175.9 448.4h.01M168.8 401.8h.01M154.9 401.7h.01M147.6 406.9h.01M159.9 465.1h.01M154.7 395.5h.01M179.2 440.8h.01M185.3 451.3h.01M167.1 424.7h.01M172.0 419.4h.01M170.3 411.8h.01M150.3 415.5h.01M148.0 444.1h.01M169.0 476.4h.01M164.2 427.6h.01M164.6 433.0h.01M154.9 423.9h.01M170.5 418.8h.01M188.5 421.7h.01M184.2 451.0h.01M169.6 451.2h.01M160.7 409.9h.01M165.5 398.4h.01M159.2 473.1h.01M145.5 425.5h.01M163.0 391.7h.01M166.6 452.6h.01M169.3 477.2h.01M154.3 462.8h.01M148.5 445.8h.01M167.2 476.3h.01M151.6 456.6h.01M158.6 390.2h.01M174.9 423.3h.01M158.4 423.4h.01M148.8 428.5h.01M157.7 418.3h.01M186.7 431.0h.01M162.2 399.1h.01M151.7 422.2h.01M176.7 462.8h.01M159.0 400.2h.01M187.5 442.0h.01M172.5 471.3h.01M151.1 461.5h.01M176.0 396.5h.01M159.8 453.2h.01M167.1 480.1h.01M165.4 408.1h.01M149.2 436.9h.01M161.3 399.3h.01M186.9 421.2h.01M162.8 397.2h.01M158.5 401.7h.01M156.2 392.6h.01M170.3 394.9h.01M173.5 473.4h.01M158.0 412.4h.01M165.2 476.9h.01M177.2 430.2h.01M149.6 441.6h.01M161.9 392.1h.01M179.3 439.0h.01M175.1 473.5h.01M170.6 419.9h.01M173.6 433.0h.01M175.6 413.4h.01M151.9 424.0h.01M168.4 443.1h.01M149.1 427.8h.01M154.1 437.1h.01M148.3 452.6h.01M177.9 436.3h.01M151.7 410.2h.01M173.4 458.0h.01M150.4 417.2h.01M171.5 402.0h.01M161.1 438.2h.01M160.7 394.1h.01M170.1 418.5h.01M163.8 411.8h.01M183.8 438.2h.01M174.9 426.5h.01M147.6 432.4h.01M170.6 409.1h.01M161.6 472.8h.01M182.3 435.9h.01M145.5 444.2h.01M168.6 459.3h.01M165.0 445.5h.01M158.0 391.2h.01M151.5 450.3h.01M180.9 424.9h.01M150.8 439.7h.01M184.1 431.1h.01M155.4 456.9h.01M144.1 437.8h.01M165.4 398.0h.01M169.5 411.9h.01M167.4 472.1h.01M145.8 430.9h.01M166.1 427.5h.01M161.8 386.0h.01M178.7 446.9h.01M156.7 467.3h.01M157.6 397.0h.01M185.1 430.3h.01M174.5 474.5h.01M165.0 435.9h.01M178.1 418.4h.01M189.7 438.5h.01M167.2 444.3h.01M150.4 433.2h.01M185.2 453.6h.01M169.9 408.4h.01M161.5 405.5h.01M164.4 446.4h.01M155.0 453.3h.01M182.2 464.1h.01M165.5 390.5h.01M173.0 429.2h.01M163.4 455.9h.01M157.8 426.3h.01M163.1 427.8h.01M186.5 428.4h.01M152.9 419.4h.01M162.5 410.5h.01M179.4 453.2h.01M182.1 436.3h.01M159.7 473.5h.01M164.6 398.9h.01M145.7 445.5h.01M164.6 425.9h.01M174.2 470.7h.01M183.8 437.7h.01M181.1 430.3h.01M161.8 400.8h.01M181.4 464.9h.01M158.9 415.8h.01M179.2 463.3h.01M160.4 446.4h.01M184.9 455.9h.01M173.5 475.5h.01M179.3 470.7h.01M144.2 419.9h.01M157.6 434.4h.01M159.2 406.5h.01M169.2 473.8h.01M171.5 471.3h.01M159.6 394.3h.01M169.9 453.3h.01M180.9 424.9h.01M167.0 471.5h.01M151.8 433.3h.01M180.2 468.8h.01M152.0 417.1h.01M153.0 444.0h.01M173.5 459.1h.01M150.5 448.7h.01M171.9 391.8h.01M166.1 417.5h.01M158.9 447.4h.01M162.5 433.7h.01M160.7 463.5h.01M179.3 426.0h.01M148.9 448.9h.01M177.3 450.0h.01M163.3 426.2h.01M162.8 429.7h.01M183.0 443.4h.01M171.0 468.4h.01M177.4 414.8h.01M183.7 454.3h.01M176.7 454.4h.01M173.4 393.7h.01M162.2 454.0h.01M152.8 441.8h.01M161.5 416.9h.01M166.6 461.7h.01M174.0 455.2h.01M171.9 470.6h.01M167.3 479.8h.01M159.6 406.6h.01M170.6 473.4h.01M151.7 435.4h.01M176.7 472.7h.01M157.1 416.9h.01M161.5 465.2h.01M183.4 421.4h.01M171.8 461.0h.01M152.3 415.9h.01M155.8 426.6h.01M169.2 416.4h.01M154.3 402.5h.01M150.6 404.7h.01M168.3 392.5h.01M173.4 465.8h.01M144.6 422.3h.01M144.1 423.7h.01M168.9 455.9h.01M165.0 389.2h.01M173.3 444.0h.01M167.1 426.5h.01M148.3 424.8h.01M175.9 415.2h.01M173.7 419.2h.01M178.3 446.5h.01M157.0 474.4h.01M164.9 389.8h.01M172.4 394.8h.01M167.0 404.7h.01M167.8 398.5h.01M179.5 453.3h.01M151.8 439.3h.01M161.2 404.8h.01M150.3 439.5h.01M145.0 411.5h.01M184.5 435.3h.01M174.9 463.4h.01M165.9 432.1h.01M168.7 465.6h.01M167.5 406.2h.01M165.5 435.2h.01M165.4 416.8h.01M183.4 442.0h.01M184.9 418.8h.01M165.2 404.9h.01M152.9 463.3h.01M157.3 402.8h.01M162.8 444.9h.01M176.7 456.0h.01M156.5 397.3h.01M171.7 427.9h.01M182.1 425.7h.01M184.8 417.0h.01M185.4 436.7h.01M176.3 424.7h.01M151.9 426.0h.01M174.0 465.4h.01M164.4 427.3h.01M153.7 453.9h.01M154.2 453.2h.01M163.6 448.9h.01M163.7 471.8h.01M144.6 424.6h.01M165.0 422.6h.01M162.9 463.0h.01M169.4 416.0h.01M158.6 470.2h.01M154.8 397.7h.01M164.2 390.1h.01M174.2 426.5h.01M158.0 445.4h.01M166.5 393.9h.01M150.6 432.1h.01M156.5 436.5h.01M144.6 420.1h.01M186.5 446.1h.01M167.7 456.2h.01M184.3 419.4h.01M184.3 456.8h.01M156.5 468.6h.01M157.5 423.1h.01M169.3 442.2h.01M177.2 450.4h.01M179.0 450.9h.01M172.3 410.8h.01M165.8 430.1h.01M157.5 467.2h.01M171.6 390.9h.01M178.3 464.8h.01M165.9 452.8h.01M162.6 407.9h.01M161.4 461.4h.01M157.2 404.7h.01M165.2 393.0h.01M143.2 422.2h.01M183.3 425.8h.01M158.5 444.5h.01M169.6 442.8h.01M183.8 460.9h.01M169.0 425.3h.01M148.8 444.5h.01M161.4 407.2h.01M158.1 472.5h.01M178.2 464.0h.01M161.9 413.9h.01M155.4 411.6h.01M180.8 420.3h.01M153.0 444.0h.01M173.0 462.1h.01M179.1 460.3h.01M165.3 402.4h.01M167.9 417.0h.01M162.5 453.2h.01M180.2 459.4h.01M187.3 431.1h.01M180.8 470.7h.01M161.7 457.6h.01M147.4 435.5h.01M163.8 419.3h.01M158.2 402.0h.01M160.4 444.7h.01M189.8 425.6h.01M178.0 451.6h.01M150.5 407.7h.01M172.2 397.1h.01M161.2 456.7h.01M178.1 457.2h.01M161.6 392.6h.01M170.4 409.9h.01M168.7 475.2h.01M162.9 475.4h.01M173.3 397.8h.01M185.6 453.8h.01M173.1 443.1h.01M156.8 406.2h.01M158.7 388.6h.01M174.5 476.2h.01M188.2 426.8h.01M184.8 434.9h.01M188.1 434.5h.01M173.4 453.4h.01M155.1 398.9h.01M163.0 427.7h.01M182.3 441.6h.01M164.2 392.8h.01M147.6 408.9h.01M171.1 393.4h.01M149.4 429.4h.01M154.5 439.7h.01M184.2 415.4h.01M143.8 416.8h.01M149.6 438.0h.01M148.0 441.2h.01M172.7 453.0h.01M155.3 427.8h.01M151.8 449.7h.01M149.3 426.3h.01M167.4 434.0h.01M178.3 464.5h.01M159.0 411.6h.01M169.6 396.5h.01M169.4 472.5h.01M149.1 434.8h.01M150.8 444.0h.01M161.8 439.7h.01M152.1 407.9h.01M157.8 472.8h.01M154.3 449.7h.01M166.4 415.1h.01M177.8 446.9h.01M183.0 468.8h.01M183.4 419.2h.01M154.8 395.4h.01M165.4 409.0h.01M181.1 412.8h.01M153.0 402.1h.01M178.0 444.3h.01M173.1 414.6h.01M180.8 433.4h.01M183.5 439.5h.01M181.4 443.3h.01M156.6 393.0h.01M143.6 378.0h.01M145.0 379.5h.01M146.5 380.8h.01M67.2 433.3h.01" stroke="#7e7e7e" stroke-width="0.9" stroke-linecap="round" fill="none" opacity="0.52"/>
<path d="M186.7 428.8h.01M160.8 410.1h.01M161.8 474.6h.01M159.2 473.1h.01M154.3 404.4h.01M166.6 461.7h.01M178.9 411.9h.01M170.3 455.2h.01M186.5 446.1h.01M156.8 401.1h.01M188.2 441.3h.01M183.5 421.8h.01M186.8 430.1h.01M179.6 414.5h.01M182.4 453.2h.01M152.1 454.2h.01M164.3 440.1h.01M182.2 428.2h.01M173.9 445.8h.01M170.6 453.3h.01M167.2 476.3h.01M151.2 460.5h.01M155.0 408.6h.01M148.0 432.3h.01M165.9 434.3h.01M168.3 460.7h.01M155.9 398.2h.01M163.2 404.8h.01M159.9 438.8h.01M173.6 429.1h.01M169.4 446.9h.01M144.6 422.7h.01M154.7 395.5h.01M154.6 458.1h.01M165.1 388.9h.01M157.3 391.2h.01M171.3 435.8h.01M164.8 412.1h.01M186.7 433.2h.01M160.8 477.5h.01M150.1 439.8h.01M167.6 391.5h.01M168.7 444.8h.01M166.2 438.0h.01M162.6 387.9h.01M149.2 414.9h.01M171.6 442.5h.01M148.2 435.1h.01M148.1 438.0h.01M190.5 427.9h.01M149.5 448.6h.01M160.0 476.9h.01M160.4 446.4h.01M167.5 434.6h.01M163.1 413.8h.01M170.1 418.5h.01M166.7 435.8h.01M143.3 433.6h.01M186.0 416.7h.01M174.5 476.2h.01M186.5 436.1h.01M162.8 429.7h.01M158.8 459.1h.01M144.1 427.1h.01M147.9 413.3h.01M149.5 407.1h.01M159.8 453.2h.01M179.4 444.2h.01M156.6 404.3h.01M151.8 422.4h.01M154.2 423.0h.01M162.4 427.9h.01M176.1 456.2h.01M166.6 473.4h.01M159.8 460.8h.01M165.1 468.0h.01M183.9 464.7h.01M164.2 451.4h.01M150.9 456.0h.01M156.9 397.7h.01M149.5 417.1h.01M158.7 455.4h.01M167.3 479.8h.01M183.5 429.5h.01M158.7 420.6h.01M190.1 435.4h.01M159.5 472.5h.01M168.8 406.5h.01M143.5 430.6h.01M177.2 414.4h.01M177.6 474.3h.01M142.7 429.0h.01M184.9 436.6h.01M166.7 386.9h.01M156.9 388.4h.01M166.6 422.4h.01M164.3 390.1h.01M156.3 415.3h.01M162.5 443.4h.01M160.1 410.3h.01M145.0 437.0h.01M177.7 476.0h.01M160.2 411.5h.01M182.0 442.6h.01M174.5 467.9h.01M150.9 455.0h.01M158.6 407.0h.01M150.7 458.9h.01M165.4 409.0h.01M171.2 452.4h.01M176.9 444.6h.01M151.5 417.6h.01M164.8 477.5h.01M157.8 419.5h.01M151.2 451.4h.01M160.5 442.4h.01M178.6 468.9h.01M182.1 423.7h.01M154.5 434.6h.01M153.7 459.8h.01M144.3 424.6h.01M169.0 425.3h.01M173.1 397.3h.01M172.0 414.8h.01M183.9 438.6h.01M145.7 412.3h.01M168.5 468.3h.01M163.0 391.7h.01M172.3 401.7h.01M153.3 438.2h.01M183.5 439.5h.01M164.6 425.9h.01M165.3 402.4h.01M161.1 418.3h.01M168.1 433.4h.01M151.2 424.7h.01M182.0 468.9h.01M156.3 432.2h.01M148.2 425.2h.01M157.9 403.4h.01M178.2 426.7h.01M174.7 437.7h.01M170.6 454.3h.01M149.5 429.3h.01M179.6 418.4h.01M183.3 425.8h.01M161.4 388.3h.01M155.0 397.3h.01M167.9 436.8h.01M181.4 444.0h.01M152.2 454.8h.01M182.6 444.8h.01M179.5 462.5h.01M163.7 402.5h.01M159.9 467.0h.01M157.5 449.0h.01M144.4 418.9h.01M169.6 404.5h.01M152.3 421.0h.01M152.4 439.3h.01" stroke="#c8505a" stroke-width="0.9" stroke-linecap="round" fill="none" opacity="0.45"/>
<path d="M178.1 457.2h.01M176.9 413.0h.01M163.3 409.1h.01M185.1 445.0h.01M173.3 413.9h.01M167.8 477.9h.01M168.7 455.0h.01M153.0 469.4h.01M178.9 411.9h.01M148.3 452.6h.01M176.7 439.3h.01M171.2 456.3h.01M170.0 408.8h.01M170.7 389.6h.01M151.1 442.7h.01M175.2 457.4h.01M170.5 421.2h.01M165.9 457.5h.01M161.9 479.4h.01M162.2 392.1h.01M177.0 476.3h.01M158.1 441.6h.01M163.7 398.1h.01M171.9 473.8h.01M162.5 443.7h.01M165.5 396.9h.01M151.0 411.3h.01M171.5 479.9h.01M168.8 451.8h.01M166.9 433.2h.01" stroke="#c02030" stroke-width="0.9" stroke-linecap="round" fill="none" opacity="0.8"/>
<rect x="0.5" y="0.5" width="519" height="524" fill="none" stroke="#4d4d4d" stroke-width="1"/>
<text x="15.2" y="18.6" font-size="12.6" font-weight="bold" fill="#000" stroke="#000" stroke-width="0.35">A</text>
<text x="15.4" y="177.1" font-size="12.6" font-weight="bold" fill="#000" stroke="#000" stroke-width="0.35">B</text>
<text x="16.6" y="364.9" font-size="12.6" font-weight="bold" fill="#000" stroke="#000" stroke-width="0.35">C</text>
<text x="227.6" y="18.9" font-size="12.6" font-weight="bold" fill="#000" stroke="#000" stroke-width="0.35">D</text>
<g stroke="#111" stroke-width="1" fill="none">
<path d="M61.5 25.5V81.7M61.5 83.2V134.5"/>
<path d="M60 134.3H209.7"/>
<path d="M60.1 81.5H63.9M60.1 83.3H63.9"/>
<path d="M58.4 28.7H61.5"/>
<path d="M58.4 41.1H61.5"/>
<path d="M58.4 53.0H61.5"/>
<path d="M58.4 64.9H61.5"/>
<path d="M58.4 77.0H61.5"/>
<path d="M58.4 100.4H61.5"/>
<path d="M58.4 117.1H61.5"/>
<path d="M58.4 134.1H61.5"/>
<path d="M76.0 134.3V137"/>
<path d="M105.4 134.3V137"/>
<path d="M134.8 134.3V137"/>
<path d="M164.2 134.3V137"/>
<path d="M193.6 134.3V137"/>
</g>
<g font-size="7.3" fill="#222" text-anchor="end">
<text x="55" y="31.2">250</text>
<text x="55" y="43.6">200</text>
<text x="55" y="55.5">150</text>
<text x="55" y="67.4">100</text>
<text x="55" y="79.5">50</text>
<text x="55" y="86.0">30</text>
<text x="55" y="102.9">20</text>
<text x="55" y="119.6">10</text>
<text x="55" y="136.6">0</text>
</g>
<g font-size="7" fill="#222" text-anchor="middle">
<text x="76.3" y="146.6">P1</text>
<text x="105.7" y="146.6">P2</text>
<text x="135.10000000000002" y="146.6">P3</text>
<text x="164.5" y="146.6">P4</text>
<text x="193.9" y="146.6">P5</text>
</g>
<text transform="translate(37.3 76.2) rotate(-90)" font-size="8.5" fill="#1a1a1a" stroke="#1a1a1a" stroke-width="0.2" text-anchor="middle" textLength="76" lengthAdjust="spacingAndGlyphs">Number of fusion transcripts</text>
<rect x="64.25" y="130.91" width="4.7" height="3.19" fill="#2f9a3f"/>
<rect x="68.95" y="129.23" width="4.7" height="4.87" fill="#1d4583"/>
<rect x="73.65" y="42.43" width="4.7" height="91.67" fill="#c30b2d"/>
<rect x="93.65" y="130.74" width="4.7" height="3.36" fill="#2f9a3f"/>
<rect x="98.35" y="78.91" width="4.7" height="55.19" fill="#1d4583"/>
<rect x="103.05" y="125.87" width="4.7" height="8.23" fill="#c30b2d"/>
<rect x="112.45" y="133.60" width="4.7" height="0.50" fill="#f0961f"/>
<rect x="123.05" y="125.70" width="4.7" height="8.40" fill="#2f9a3f"/>
<rect x="127.75" y="123.85" width="4.7" height="10.25" fill="#1d4583"/>
<rect x="132.45" y="133.09" width="4.7" height="1.01" fill="#c30b2d"/>
<rect x="166.55" y="133.68" width="4.7" height="0.42" fill="#9b8fc9"/>
<rect x="171.25" y="129.06" width="4.7" height="5.04" fill="#f0961f"/>
<rect x="186.55" y="122.17" width="4.7" height="11.93" fill="#1d4583"/>
<rect x="191.25" y="122.17" width="4.7" height="11.93" fill="#c30b2d"/>
<rect x="70" y="81.9" width="40" height="1.3" fill="#fff"/>
<rect x="171.4" y="30.50" width="5" height="5" fill="#2f9a3f"/>
<text x="179.8" y="35.50" font-size="7" fill="#222">t(4;14)</text>
<rect x="171.4" y="41.62" width="5" height="5" fill="#1d4583"/>
<text x="179.8" y="46.62" font-size="7" fill="#222">t(6;14)</text>
<rect x="171.4" y="52.74" width="5" height="5" fill="#c30b2d"/>
<text x="179.8" y="57.74" font-size="7" fill="#222">t(11;14)</text>
<rect x="171.4" y="63.86" width="5" height="5" fill="#9b8fc9"/>
<text x="179.8" y="68.86" font-size="7" fill="#222">t(14;16)</text>
<rect x="171.4" y="74.98" width="5" height="5" fill="#f0961f"/>
<text x="179.8" y="79.98" font-size="7" fill="#222">t(14;20)</text>
<g stroke="#111" stroke-width="1" fill="none">
<path d="M61.5 198.0V306.0H209.7"/>
<path d="M58.5 217.1H61.5"/>
<path d="M58.5 249.0H61.5"/>
<path d="M58.5 281.3H61.5"/>
<path d="M101.2 306.0V308.8"/>
<path d="M142.1 306.0V308.8"/>
</g>
<g font-size="7" fill="#222" text-anchor="end">
<text x="55.2" y="219.6">5</text>
<text x="55.2" y="251.5">0</text>
<text x="55.2" y="283.8">−5</text>
</g>
<g font-size="7" fill="#222" text-anchor="middle">
<text x="100.4" y="319.6">−5</text>
<text x="141.3" y="319.6">0</text>
</g>
<rect x="32.1" y="212.3" width="11.0" height="72.5" fill="#c7c7c9"/>
<text transform="translate(40.9 248.5) rotate(-90)" font-size="9.2" fill="#222" text-anchor="middle">P1</text>
<g stroke="#111" stroke-width="1.1" fill="none">
<path d="M43.7 294.5V322.7H79.5"/>
</g>
<path d="M43.7 291.5 l-2.4 5.2 h4.8z" fill="#111"/>
<path d="M82.8 322.7 l-5.2 -2.4 v4.8z" fill="#111"/>
<text transform="translate(38.7 306.7) rotate(-90)" font-size="9.4" font-weight="bold" fill="#222" stroke="#222" stroke-width="0.2" text-anchor="middle" textLength="25.6" lengthAdjust="spacingAndGlyphs">UMAP_2</text>
<text x="50.4" y="333.8" font-size="9.4" font-weight="bold" fill="#222" stroke="#222" stroke-width="0.2" textLength="26" lengthAdjust="spacingAndGlyphs">UMAP_1</text>
<g stroke="#111" stroke-width="1" fill="none">
<path d="M61.5 370.0V487.0H209.7"/>
<path d="M58.5 375.8H61.5"/>
<path d="M58.5 405.2H61.5"/>
<path d="M58.5 434.4H61.5"/>
<path d="M58.5 464.2H61.5"/>
<path d="M69.6 487.0V489.8"/>
<path d="M101.8 487.0V489.8"/>
<path d="M134.4 487.0V489.8"/>
<path d="M166.0 487.0V489.8"/>
</g>
<g font-size="7" fill="#222" text-anchor="end">
<text x="55.2" y="378.3">8</text>
<text x="55.2" y="407.7">4</text>
<text x="55.2" y="436.9">0</text>
<text x="55.2" y="466.7">−4</text>
</g>
<g font-size="7" fill="#222" text-anchor="middle">
<text x="68.8" y="500.6">−15</text>
<text x="101.0" y="500.6">−10</text>
<text x="133.6" y="500.6">−5</text>
<text x="165.2" y="500.6">0</text>
</g>
<rect x="32.1" y="392.1" width="11.0" height="72.89999999999998" fill="#c7c7c9"/>
<text transform="translate(40.9 428.5) rotate(-90)" font-size="9.2" fill="#222" text-anchor="middle">P2</text>
<g stroke="#111" stroke-width="1.1" fill="none">
<path d="M43.7 473.5V503.9H79.5"/>
</g>
<path d="M43.7 470.5 l-2.4 5.2 h4.8z" fill="#111"/>
<path d="M82.8 503.9 l-5.2 -2.4 v4.8z" fill="#111"/>
<text transform="translate(38.7 485.7) rotate(-90)" font-size="9.4" font-weight="bold" fill="#222" stroke="#222" stroke-width="0.2" text-anchor="middle" textLength="25.6" lengthAdjust="spacingAndGlyphs">UMAP_2</text>
<text x="50.4" y="515.0" font-size="9.4" font-weight="bold" fill="#222" stroke="#222" stroke-width="0.2" textLength="26" lengthAdjust="spacingAndGlyphs">UMAP_1</text>
<circle cx="69.6" cy="203.8" r="2.0" fill="#c8102e"/>
<text x="74.8" y="206.4" font-size="7.4" fill="#222">CCND1 t(11;14)</text>
<circle cx="69.6" cy="215.1" r="1.8" fill="#888"/>
<text x="74.8" y="217.7" font-size="7.4" fill="#222">Unknown</text>
<circle cx="69.6" cy="378.1" r="2.0" fill="#c8102e"/>
<text x="74.8" y="380.7" font-size="7.4" fill="#222">CCND3 t(6;14)</text>
<circle cx="69.6" cy="389.4" r="1.8" fill="#888"/>
<text x="74.8" y="392.0" font-size="7.4" fill="#222">Unknown</text>
</g>
</svg>
</body></html>
